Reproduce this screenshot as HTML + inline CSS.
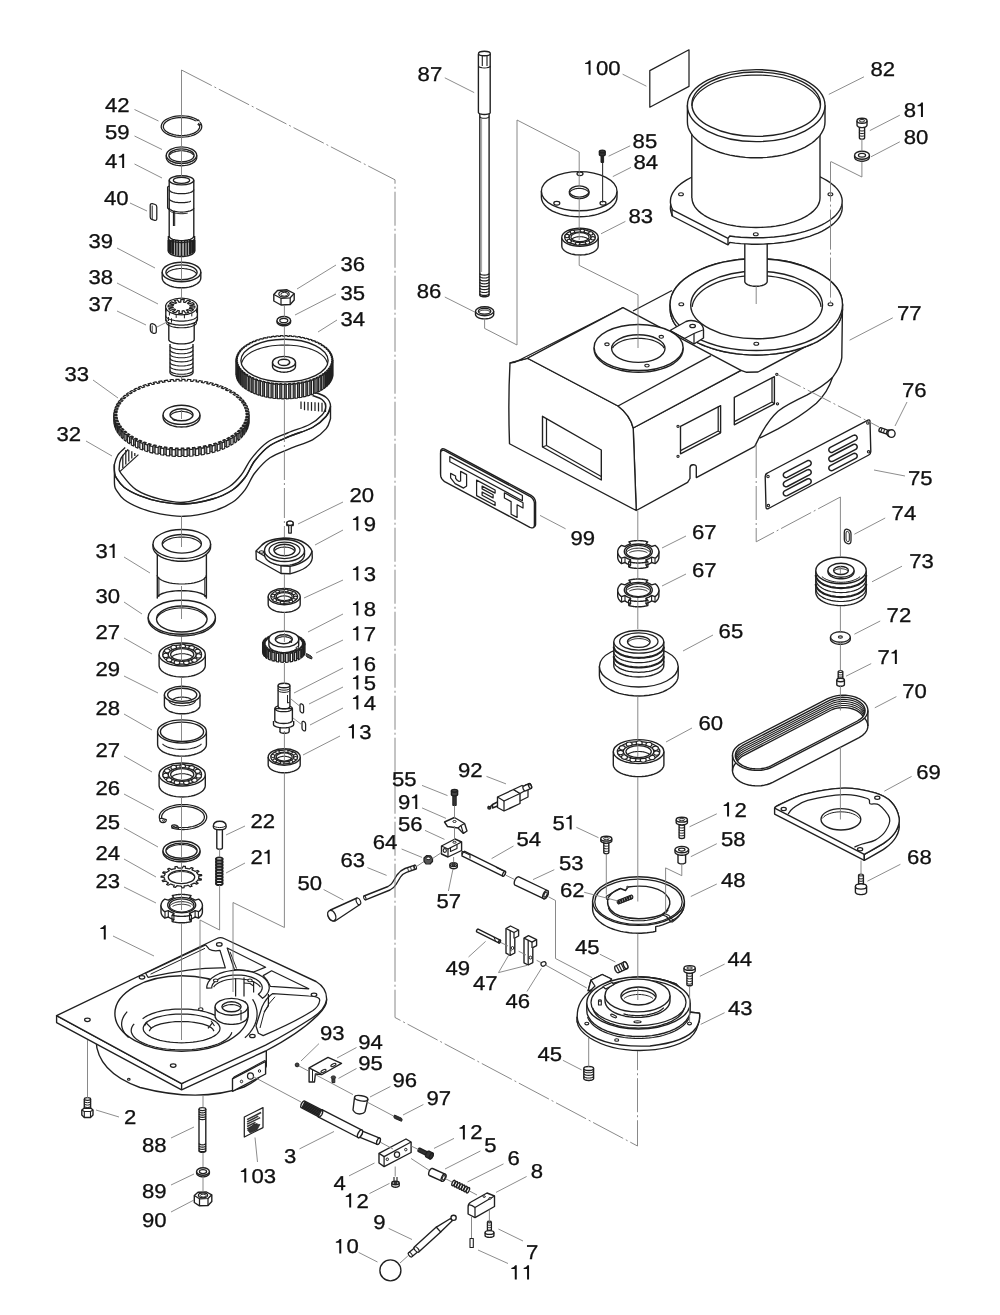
<!DOCTYPE html>
<html><head><meta charset="utf-8"><title>Parts diagram</title>
<style>
html,body{margin:0;padding:0;background:#fff;}
svg{display:block;}
text{font-family:"Liberation Sans",sans-serif;fill:#111;stroke:#111;stroke-width:0.3px;text-rendering:geometricPrecision;}
svg{will-change:transform;opacity:0.999;}
</style></head><body>
<svg width="1000" height="1315" viewBox="0 0 1000 1315">
<rect width="1000" height="1315" fill="#fff"/>
<path d="M199.9 122 L201 123.5 L201.6 125.1 L201.8 126.7 L201.5 128.4 L200.7 129.9 L199.5 131.4 L197.9 132.8 L195.9 134.1 L193.5 135.1 L190.9 136 L188 136.6 L185 137 L181.9 137.2 L178.9 137.1 L175.8 136.8 L172.9 136.2 L170.2 135.4 L167.8 134.4 L165.7 133.2 L163.9 131.8 L162.6 130.4 L161.7 128.8 L161.2 127.2 L161.3 125.6 L161.8 124 L162.7 122.4 L164.1 120.9 L165.9 119.6 L168.1 118.5 L170.6 117.5 L173.3 116.7 L176.2 116.2 L179.3 115.9 L182.4 115.8 L185.5 116 L188.4 116.4 L191.3 117.1 L193.9 118 L196.2 119.1 L198.1 120.4" fill="none" stroke="#202020" stroke-width="1.25" stroke-linejoin="round"/>
<path d="M198.4 123.1 L199.2 124.4 L199.6 125.7 L199.7 127.1 L199.3 128.4 L198.5 129.7 L197.3 130.9 L195.8 132.1 L194 133.1 L191.8 133.9 L189.5 134.6 L186.9 135.1 L184.3 135.4 L181.6 135.5 L178.8 135.4 L176.2 135.1 L173.6 134.6 L171.3 133.9 L169.1 133.1 L167.3 132.1 L165.7 131 L164.6 129.8 L163.8 128.5 L163.3 127.2 L163.4 125.8 L163.8 124.5 L164.6 123.2 L165.8 122 L167.3 120.9 L169.2 119.9 L171.3 119 L173.7 118.4 L176.2 117.9 L178.9 117.6 L181.6 117.5 L184.3 117.6 L187 117.9 L189.5 118.4 L191.9 119.1 L194 120 L195.8 121" fill="none" stroke="#202020" stroke-width="1.25" stroke-linejoin="round"/>
<path d="M199.6 121.5 L198.5 120 L196.5 120.8" fill="none" stroke="#202020" stroke-width="1.25" stroke-linejoin="round"/>
<path d="M200.8 124 L199.5 125.5 L197.6 124.3" fill="none" stroke="#202020" stroke-width="1.25" stroke-linejoin="round"/>
<line x1="181.5" y1="118" x2="181.5" y2="131" stroke="#555" stroke-width="0.8"/>
<path d="M166.3 155.2 L166.3 157.4 L166.4 158.5 L166.8 159.5 L167.5 160.6 L168.3 161.6 L169.4 162.5 L170.8 163.3 L172.2 164 L173.9 164.6 L175.7 165.1 L177.6 165.4 L179.5 165.6 L181.5 165.7 L183.5 165.6 L185.4 165.4 L187.3 165.1 L189.1 164.6 L190.8 164 L192.2 163.3 L193.6 162.5 L194.7 161.6 L195.5 160.6 L196.2 159.5 L196.6 158.5 L196.7 157.4 L196.7 155.2" fill="#fff" stroke="#202020" stroke-width="1.38" stroke-linejoin="round"/>
<ellipse cx="181.5" cy="155.2" rx="15.2" ry="8.3" fill="#fff" stroke="#202020" stroke-width="1.38"/>
<ellipse cx="181.5" cy="155.4" rx="12.6" ry="6.5" fill="#fff" stroke="#202020" stroke-width="1.38"/>
<path d="M169.7 154.7 L170.2 154.2 L170.8 153.7 L171.5 153.1 L172.3 152.7 L173.3 152.3 L174.3 151.9 L175.4 151.6 L176.5 151.3 L177.7 151.1 L179 150.9 L180.2 150.8 L181.5 150.8 L182.8 150.8 L184 150.9 L185.3 151.1 L186.5 151.3 L187.6 151.6 L188.7 151.9 L189.7 152.3 L190.7 152.7 L191.5 153.1 L192.2 153.7 L192.8 154.2 L193.3 154.7" fill="none" stroke="#202020" stroke-width="1.12" stroke-linejoin="round"/>
<path d="M168.4 236 L168.4 251 L168.4 251 L168.5 251.7 L168.8 252.4 L169.4 253.1 L170.2 253.8 L171.1 254.3 L172.2 254.9 L173.5 255.4 L174.9 255.8 L176.5 256.1 L178.1 256.3 L179.8 256.5 L181.5 256.5 L183.2 256.5 L184.9 256.3 L186.5 256.1 L188.1 255.8 L189.5 255.4 L190.8 254.9 L191.9 254.3 L192.8 253.8 L193.6 253.1 L194.2 252.4 L194.5 251.7 L194.6 251 L194.6 251 L194.6 236" fill="#fff" stroke="#202020" stroke-width="1.38" stroke-linejoin="round"/>
<line x1="168.6" y1="240" x2="168.6" y2="251.4" stroke="#202020" stroke-width="2"/>
<line x1="169.4" y1="240" x2="169.4" y2="252.6" stroke="#202020" stroke-width="2"/>
<line x1="170.9" y1="240" x2="170.9" y2="253.7" stroke="#202020" stroke-width="2"/>
<line x1="173" y1="240" x2="173" y2="254.7" stroke="#202020" stroke-width="2"/>
<line x1="175.6" y1="240" x2="175.6" y2="255.4" stroke="#202020" stroke-width="2"/>
<line x1="178.4" y1="240" x2="178.4" y2="255.8" stroke="#202020" stroke-width="2"/>
<line x1="181.5" y1="240" x2="181.5" y2="256" stroke="#202020" stroke-width="2"/>
<line x1="184.6" y1="240" x2="184.6" y2="255.8" stroke="#202020" stroke-width="2"/>
<line x1="187.4" y1="240" x2="187.4" y2="255.4" stroke="#202020" stroke-width="2"/>
<line x1="190" y1="240" x2="190" y2="254.7" stroke="#202020" stroke-width="2"/>
<line x1="192.1" y1="240" x2="192.1" y2="253.7" stroke="#202020" stroke-width="2"/>
<line x1="193.6" y1="240" x2="193.6" y2="252.6" stroke="#202020" stroke-width="2"/>
<line x1="194.4" y1="240" x2="194.4" y2="251.4" stroke="#202020" stroke-width="2"/>
<path d="M168.4 238.5 L168.5 239 L168.8 239.5 L169.4 240 L170.2 240.5 L171.1 240.9 L172.2 241.3 L173.5 241.7 L174.9 242 L176.5 242.2 L178.1 242.4 L179.8 242.5 L181.5 242.5 L183.2 242.5 L184.9 242.4 L186.5 242.2 L188.1 242 L189.5 241.7 L190.8 241.3 L191.9 240.9 L192.8 240.5 L193.6 240 L194.2 239.5 L194.5 239 L194.6 238.5" fill="none" stroke="#202020" stroke-width="1.25" stroke-linejoin="round"/>
<path d="M169.2 180.3 L169.2 236 L169.3 236.6 L169.6 237.2 L170.1 237.8 L170.8 238.3 L171.7 238.8 L172.8 239.3 L174 239.6 L175.3 240 L176.8 240.2 L178.3 240.4 L179.9 240.6 L181.5 240.6 L183.1 240.6 L184.7 240.4 L186.2 240.2 L187.7 240 L189 239.6 L190.2 239.3 L191.3 238.8 L192.2 238.3 L192.9 237.8 L193.4 237.2 L193.7 236.6 L193.8 236 L193.8 180.3" fill="#fff" stroke="#202020" stroke-width="1.38" stroke-linejoin="round"/>
<ellipse cx="181.5" cy="180.3" rx="12.3" ry="4.6" fill="#fff" stroke="#202020" stroke-width="1.38"/>
<ellipse cx="181.5" cy="180.3" rx="8.2" ry="3" fill="#fff" stroke="#202020" stroke-width="1.25"/>
<path d="M169.2 189.5 L169.3 190 L169.6 190.6 L170.1 191.1 L170.8 191.6 L171.7 192.1 L172.8 192.5 L174 192.8 L175.3 193.1 L176.8 193.4 L178.3 193.6 L179.9 193.7 L181.5 193.7 L183.1 193.7 L184.7 193.6 L186.2 193.4 L187.7 193.1 L189 192.8 L190.2 192.5 L191.3 192.1 L192.2 191.6 L192.9 191.1 L193.4 190.6 L193.7 190 L193.8 189.5" fill="none" stroke="#202020" stroke-width="1.25" stroke-linejoin="round"/>
<path d="M169.2 198.5 L169.3 198.9 L169.5 199.3 L169.8 199.8 L170.2 200.2 L170.8 200.5 L171.4 200.9 L172.2 201.2 L173.1 201.6 L174 201.8 L175 202.1 L176.1 202.3 L177.3 202.4 L178.5 202.6 L179.7 202.7 L181 202.7 L182.2 202.7 L183.5 202.6 L184.7 202.6 L185.9 202.4 L187 202.3 L188.1 202 L189.1 201.8 L190.1 201.5 L190.9 201.2" fill="none" stroke="#202020" stroke-width="1.25" stroke-linejoin="round"/>
<path d="M169.2 207.8 L169.3 208.3 L169.6 208.9 L170.1 209.4 L170.8 209.9 L171.7 210.4 L172.8 210.8 L174 211.1 L175.3 211.4 L176.8 211.7 L178.3 211.9 L179.9 212 L181.5 212 L183.1 212 L184.7 211.9 L186.2 211.7 L187.7 211.4 L189 211.1 L190.2 210.8 L191.3 210.4 L192.2 209.9 L192.9 209.4 L193.4 208.9 L193.7 208.3 L193.8 207.8" fill="none" stroke="#202020" stroke-width="1.25" stroke-linejoin="round"/>
<path d="M169.4 210.2 L169.6 210.6 L169.9 210.9 L170.2 211.2 L170.7 211.5 L171.2 211.8 L171.7 212.1 L172.4 212.3 L173.1 212.6 L173.8 212.8 L174.6 213 L175.4 213.2 L176.3 213.3 L177.2 213.4 L178.1 213.5 L179.1 213.6 L180.1 213.7 L181.1 213.7 L182 213.7 L183 213.7 L184 213.6 L184.9 213.5 L185.9 213.4 L186.8 213.3 L187.7 213.1" fill="none" stroke="#202020" stroke-width="1" stroke-linejoin="round"/>
<path d="M169.2 186 L167.6 187 L167.6 208 L169.2 209.5" fill="none" stroke="#202020" stroke-width="1.25" stroke-linejoin="round"/>
<line x1="173.5" y1="211" x2="173.5" y2="226" stroke="#202020" stroke-width="1.25"/>
<line x1="174.7" y1="211" x2="174.7" y2="226" stroke="#202020" stroke-width="1"/>
<path d="M150.2 205.5 Q150.2 203.3 152.3 203.6 L155.2 204.5 Q156.8 205 156.8 207 L156.8 218.5 Q156.8 220.8 154.7 220.3 L151.8 219.4 Q150.2 218.9 150.2 217 Z" fill="#fff" stroke="#202020" stroke-width="1.25" stroke-linejoin="round"/>
<line x1="152.2" y1="205.5" x2="152.2" y2="219" stroke="#202020" stroke-width="1"/>
<path d="M162.2 272 L162.2 278 L162.4 279.3 L162.9 280.5 L163.7 281.8 L164.8 282.9 L166.2 284 L167.9 284.9 L169.8 285.8 L171.8 286.5 L174.1 287.1 L176.5 287.5 L179 287.7 L181.5 287.8 L184 287.7 L186.5 287.5 L188.9 287.1 L191.2 286.5 L193.2 285.8 L195.1 284.9 L196.8 284 L198.2 282.9 L199.3 281.8 L200.1 280.5 L200.6 279.3 L200.8 278 L200.8 272" fill="#fff" stroke="#202020" stroke-width="1.38" stroke-linejoin="round"/>
<ellipse cx="181.5" cy="272" rx="19.3" ry="9.8" fill="#fff" stroke="#202020" stroke-width="1.38"/>
<ellipse cx="181.5" cy="272.3" rx="15.6" ry="7.4" fill="#fff" stroke="#202020" stroke-width="1.38"/>
<path d="M166.4 273.7 L167 273 L167.7 272.3 L168.5 271.6 L169.5 271 L170.7 270.4 L172 269.9 L173.4 269.5 L174.9 269.2 L176.5 268.9 L178.1 268.7 L179.8 268.5 L181.5 268.5 L183.2 268.5 L184.9 268.7 L186.5 268.9 L188.1 269.2 L189.6 269.5 L191 269.9 L192.3 270.4 L193.5 271 L194.5 271.6 L195.3 272.3 L196 273 L196.6 273.7" fill="none" stroke="#202020" stroke-width="1.12" stroke-linejoin="round"/>
<path d="M170 344 L170 372.5 L170.1 373 L170.4 373.5 L170.9 374 L171.5 374.5 L172.4 374.9 L173.4 375.3 L174.5 375.7 L175.8 376 L177.1 376.2 L178.5 376.4 L180 376.5 L181.5 376.5 L183 376.5 L184.5 376.4 L185.9 376.2 L187.2 376 L188.5 375.7 L189.6 375.3 L190.6 374.9 L191.5 374.5 L192.1 374 L192.6 373.5 L192.9 373 L193 372.5 L193 344" fill="#fff" stroke="#202020" stroke-width="1.38" stroke-linejoin="round"/>
<path d="M170 346 L170.4 346.9 L171.5 347.8 L173.4 348.5 L175.8 349.1 L178.5 349.5 L181.5 349.6 L184.5 349.5 L187.2 349.1 L189.6 348.5 L191.5 347.8 L192.6 346.9 L193 346" fill="none" stroke="#202020" stroke-width="1.12" stroke-linejoin="round"/>
<path d="M170 350.1 L170.4 351 L171.5 351.9 L173.4 352.6 L175.8 353.2 L178.5 353.6 L181.5 353.7 L184.5 353.6 L187.2 353.2 L189.6 352.6 L191.5 351.9 L192.6 351 L193 350.1" fill="none" stroke="#202020" stroke-width="1.12" stroke-linejoin="round"/>
<path d="M170 354.2 L170.4 355.1 L171.5 356 L173.4 356.7 L175.8 357.3 L178.5 357.7 L181.5 357.8 L184.5 357.7 L187.2 357.3 L189.6 356.7 L191.5 356 L192.6 355.1 L193 354.2" fill="none" stroke="#202020" stroke-width="1.12" stroke-linejoin="round"/>
<path d="M170 358.3 L170.4 359.2 L171.5 360.1 L173.4 360.8 L175.8 361.4 L178.5 361.8 L181.5 361.9 L184.5 361.8 L187.2 361.4 L189.6 360.8 L191.5 360.1 L192.6 359.2 L193 358.3" fill="none" stroke="#202020" stroke-width="1.12" stroke-linejoin="round"/>
<path d="M170 362.4 L170.4 363.3 L171.5 364.2 L173.4 364.9 L175.8 365.5 L178.5 365.9 L181.5 366 L184.5 365.9 L187.2 365.5 L189.6 364.9 L191.5 364.2 L192.6 363.3 L193 362.4" fill="none" stroke="#202020" stroke-width="1.12" stroke-linejoin="round"/>
<path d="M170 366.5 L170.4 367.4 L171.5 368.3 L173.4 369 L175.8 369.6 L178.5 370 L181.5 370.1 L184.5 370 L187.2 369.6 L189.6 369 L191.5 368.3 L192.6 367.4 L193 366.5" fill="none" stroke="#202020" stroke-width="1.12" stroke-linejoin="round"/>
<path d="M170 370.6 L170.4 371.5 L171.5 372.4 L173.4 373.1 L175.8 373.7 L178.5 374.1 L181.5 374.2 L184.5 374.1 L187.2 373.7 L189.6 373.1 L191.5 372.4 L192.6 371.5 L193 370.6" fill="none" stroke="#202020" stroke-width="1.12" stroke-linejoin="round"/>
<path d="M168.8 322 L168.8 339.5 L168.9 340.1 L169.2 340.6 L169.8 341.2 L170.5 341.7 L171.4 342.2 L172.5 342.6 L173.8 343 L175.2 343.3 L176.6 343.6 L178.2 343.8 L179.8 343.9 L181.5 343.9 L183.2 343.9 L184.8 343.8 L186.4 343.6 L187.8 343.3 L189.2 343 L190.5 342.6 L191.6 342.2 L192.5 341.7 L193.2 341.2 L193.8 340.6 L194.1 340.1 L194.2 339.5 L194.2 322" fill="#fff" stroke="#202020" stroke-width="1.38" stroke-linejoin="round"/>
<path d="M165.8 305 L165.8 319.5 L165.7 320.2 L166.1 320.9 L166.8 321.6 L167.7 322.3 L168.9 322.9 L170.3 323.5 L171.8 323.9 L173.6 324.3 L175.4 324.7 L177.4 324.9 L179.4 325.1 L181.5 325.1 L183.6 325.1 L185.6 324.9 L187.6 324.7 L189.4 324.3 L191.2 323.9 L192.7 323.5 L194.1 322.9 L195.3 322.3 L196.2 321.6 L196.9 320.9 L197.3 320.2 L197.4 319.5 L197.4 305" fill="#fff" stroke="#202020" stroke-width="1.38" stroke-linejoin="round"/>
<path d="M165.6 315.5 L165.7 316.2 L166.1 316.9 L166.8 317.6 L167.7 318.3 L168.9 318.9 L170.3 319.5 L171.8 319.9 L173.6 320.3 L175.4 320.7 L177.4 320.9 L179.4 321.1 L181.5 321.1 L183.6 321.1 L185.6 320.9 L187.6 320.7 L189.4 320.3 L191.2 319.9 L192.7 319.5 L194.1 318.9 L195.3 318.3 L196.2 317.6 L196.9 316.9 L197.3 316.2 L197.4 315.5" fill="none" stroke="#202020" stroke-width="1.12" stroke-linejoin="round"/>
<path d="M166.8 319.5 L166.8 322.8 L166.7 323.5 L167.1 324.1 L167.7 324.7 L168.6 325.3 L169.7 325.8 L171 326.3 L172.4 326.8 L174.1 327.1 L175.8 327.4 L177.6 327.6 L179.6 327.8 L181.5 327.8 L183.4 327.8 L185.4 327.6 L187.2 327.4 L188.9 327.1 L190.6 326.8 L192 326.3 L193.3 325.8 L194.4 325.3 L195.3 324.7 L195.9 324.1 L196.3 323.5 L196.4 322.8 L196.4 319.5" fill="none" stroke="#202020" stroke-width="1.12" stroke-linejoin="round"/>
<ellipse cx="181.5" cy="306.5" rx="15.9" ry="8.4" fill="#fff" stroke="#202020" stroke-width="1.25"/>
<path d="M194.9 306.9 L194.8 307.4 L194.6 308 L189.8 307.6 L189.6 308 L189.3 308.4 L193.4 309.7 L193.1 310 L192.7 310.3 L192.1 310.8 L191.5 311.2 L187.7 309.6 L187.1 309.8 L186.4 310.1 L188.8 312.4 L188.2 312.6 L187.6 312.7 L186.6 313 L185.6 313.2 L183.9 310.7 L183.1 310.8 L182.2 310.9 L182.2 313.5 L181.5 313.5 L180.8 313.5 L179.8 313.4 L178.7 313.3 L179.4 310.8 L178.6 310.6 L177.9 310.5 L175.4 312.7 L174.8 312.6 L174.2 312.4 L173.3 312.1 L172.5 311.7 L175.5 309.7 L175 309.4 L174.5 309 L170.3 310.3 L169.9 310 L169.6 309.7 L169.1 309.2 L168.8 308.7 L173.2 307.7 L173 307.3 L172.9 306.9 L168.1 306.9 L168.1 306.5 L168.1 306.1 L168.2 305.6 L168.4 305 L173.2 305.4 L173.4 305 L173.7 304.6 L169.6 303.3 L169.9 303 L170.3 302.7 L170.9 302.2 L171.5 301.8 L175.3 303.4 L175.9 303.2 L176.6 302.9 L174.2 300.6 L174.8 300.4 L175.4 300.3 L176.4 300 L177.4 299.8 L179.1 302.3 L179.9 302.2 L180.8 302.1 L180.8 299.5 L181.5 299.5 L182.2 299.5 L183.2 299.6 L184.3 299.7 L183.6 302.2 L184.4 302.4 L185.1 302.5 L187.6 300.3 L188.2 300.4 L188.8 300.6 L189.7 300.9 L190.5 301.3 L187.5 303.3 L188 303.6 L188.5 304 L192.7 302.7 L193.1 303 L193.4 303.3 L193.9 303.8 L194.2 304.3 L189.8 305.3 L190 305.7 L190.1 306.1 L194.9 306.1 L194.9 306.5 Z" fill="#fff" stroke="#202020" stroke-width="1.25" stroke-linejoin="round"/>
<line x1="196.5" y1="309.3" x2="196.5" y2="312.8" stroke="#202020" stroke-width="1"/>
<line x1="191.8" y1="312.9" x2="191.8" y2="316.4" stroke="#202020" stroke-width="1"/>
<line x1="184.4" y1="314.8" x2="184.4" y2="318.3" stroke="#202020" stroke-width="1"/>
<line x1="176.2" y1="314.4" x2="176.2" y2="317.9" stroke="#202020" stroke-width="1"/>
<line x1="169.4" y1="312" x2="169.4" y2="315.5" stroke="#202020" stroke-width="1"/>
<line x1="165.9" y1="308" x2="165.9" y2="311.5" stroke="#202020" stroke-width="1"/>
<line x1="168.5" y1="317" x2="168.5" y2="321" stroke="#202020" stroke-width="1"/>
<line x1="171.5" y1="318.3" x2="171.5" y2="322.6" stroke="#202020" stroke-width="1"/>
<path d="M150.3 326 Q150.3 323.3 153 323.8 Q156.3 324.6 156.3 328 L156.3 331.2 Q156.3 333.9 153.6 333.3 Q150.3 332.5 150.3 329.2 Z" fill="#fff" stroke="#202020" stroke-width="1.25" stroke-linejoin="round"/>
<line x1="152.2" y1="325.5" x2="152.2" y2="332" stroke="#202020" stroke-width="0.88"/>
<line x1="157" y1="327" x2="168" y2="321.5" stroke="#808080" stroke-width="0.9"/>
<path d="M114.4 464.4 C114.4 465.8 114.3 470.6 114.6 472.8 C114.9 475 114.6 475.2 116.2 477.6 C117.8 480 120.1 484.2 124 487.2 C127.9 490.2 133.6 493.2 139.6 495.6 C145.6 498 152.6 500.2 160 501.6 C167.4 503 175.3 504.4 184 504 C192.8 503.6 204.4 501.3 212.5 499 C220.6 496.7 227.1 493.6 232.5 490 C237.9 486.4 241.2 482.4 245 477.5 C248.8 472.6 250.8 465.8 255 460.5 C259.2 455.2 264.2 449.5 270 445.5 C275.8 441.5 282.9 439.2 290 436.2 C297.1 433.2 306.5 430.8 312.5 427.5 C318.5 424.2 323.2 419.8 326.2 416.2 C329.2 412.7 329.8 407.9 330.5 406.2 L330.5 418.6 L330.5 418.6 C329.8 420.2 329.2 425 326.2 428.6 C323.2 432.1 318.5 436.5 312.5 439.8 C306.5 443.1 297.1 445.6 290 448.6 C282.9 451.6 275.8 453.8 270 457.8 C264.2 461.8 259.2 467.5 255 472.8 C250.8 478.1 248.8 484.9 245 489.8 C241.2 494.7 237.9 498.7 232.5 502.3 C227.1 505.9 220.6 509 212.5 511.3 C204.4 513.6 192.8 515.9 184 516.3 C175.3 516.7 167.4 515.3 160 513.9 C152.6 512.5 145.6 510.3 139.6 507.9 C133.6 505.5 127.9 502.5 124 499.5 C120.1 496.5 117.8 492.3 116.2 489.9 C114.6 487.5 114.9 487.3 114.6 485.1 C114.3 482.9 114.4 478.1 114.4 476.7 Z" fill="#fff" stroke="#202020" stroke-width="1.38" stroke-linejoin="round"/>
<path d="M125.2 447.6 C124 448.8 119.8 452 118 454.8 C116.2 457.6 115 461.4 114.4 464.4 C113.8 467.4 114.3 470.6 114.6 472.8 C114.9 475 114.6 475.2 116.2 477.6 C117.8 480 120.1 484.2 124 487.2 C127.9 490.2 133.6 493.2 139.6 495.6 C145.6 498 152.6 500.2 160 501.6 C167.4 503 175.3 504.4 184 504 C192.8 503.6 204.4 501.3 212.5 499 C220.6 496.7 227.1 493.6 232.5 490 C237.9 486.4 241.2 482.4 245 477.5 C248.8 472.6 250.8 465.8 255 460.5 C259.2 455.2 264.2 449.5 270 445.5 C275.8 441.5 282.9 439.2 290 436.2 C297.1 433.2 306.5 430.8 312.5 427.5 C318.5 424.2 323.2 419.8 326.2 416.2 C329.2 412.7 330.5 409.4 330.5 406.2 C330.5 403.1 328.8 399.8 326.2 397.5 C323.7 395.2 319.4 393.8 315 392.5 C310.6 391.2 302.5 390.4 300 390" fill="none" stroke="#202020" stroke-width="1.38" stroke-linejoin="round"/>
<path d="M128.2 449.4 C127 450.9 122.5 455.3 121 458.4 C119.5 461.5 119.2 465.5 119.2 468 C119.2 470.5 118.2 469.8 121 473.4 C123.8 477 129.5 485.3 136 489.6 C142.5 493.9 152 497.1 160 499.2 C168 501.3 175.5 502.9 184 502.2 C192.5 501.5 203.7 497.6 211.2 495 C218.8 492.4 224.5 489.8 229.5 486.5 C234.5 483.2 237.6 479.6 241.2 475 C244.9 470.4 247 464.2 251.2 458.8 C255.5 453.3 261 446.8 267 442.5 C273 438.2 280.4 436 287.5 433 C294.6 430 303.8 427.5 309.5 424.5 C315.2 421.5 319.3 418 322 415 C324.7 412 325.8 408.8 325.8 406.2 C325.8 403.7 324.2 401.3 322 399.5 C319.8 397.7 314.1 396.2 312.5 395.5" fill="none" stroke="#202020" stroke-width="1.38" stroke-linejoin="round"/>
<line x1="122.8" y1="454.8" x2="122.8" y2="468" stroke="#202020" stroke-width="1.25"/>
<line x1="125.8" y1="450" x2="125.8" y2="464.5" stroke="#202020" stroke-width="1.25"/>
<line x1="128.8" y1="450" x2="128.8" y2="461.5" stroke="#202020" stroke-width="1.25"/>
<line x1="131.8" y1="451.2" x2="131.8" y2="458.5" stroke="#202020" stroke-width="1.25"/>
<line x1="134.8" y1="453" x2="134.8" y2="456" stroke="#202020" stroke-width="1.25"/>
<line x1="119.8" y1="471.6" x2="138.4" y2="454.6" stroke="#202020" stroke-width="1.25"/>
<line x1="301" y1="401.5" x2="301" y2="409.1" stroke="#202020" stroke-width="1.25"/>
<line x1="304.5" y1="401.7" x2="304.5" y2="410.2" stroke="#202020" stroke-width="1.25"/>
<line x1="308" y1="401.9" x2="308" y2="410.5" stroke="#202020" stroke-width="1.25"/>
<line x1="311.5" y1="402.1" x2="311.5" y2="410.8" stroke="#202020" stroke-width="1.25"/>
<line x1="315" y1="402.3" x2="315" y2="411.1" stroke="#202020" stroke-width="1.25"/>
<line x1="318.5" y1="402.5" x2="318.5" y2="411.4" stroke="#202020" stroke-width="1.25"/>
<line x1="322" y1="402.7" x2="322" y2="411.7" stroke="#202020" stroke-width="1.25"/>
<line x1="325.5" y1="402.9" x2="325.5" y2="412" stroke="#202020" stroke-width="1.25"/>
<path d="M247.1 414.5 L246.9 416.7 L246.5 419 L245.8 421.2 L244.8 423.3 L243.6 425.5 L242.1 427.6 L240.3 429.6 L238.3 431.6 L236 433.5 L233.5 435.3 L230.8 437 L227.9 438.6 L224.7 440.2 L221.4 441.6 L217.9 442.9 L214.3 444.1 L210.5 445.1 L206.6 446 L202.6 446.8 L198.5 447.5 L194.3 448 L190.1 448.4 L185.8 448.6 L181.5 448.6 L177.2 448.6 L172.9 448.4 L168.7 448 L164.5 447.5 L160.4 446.8 L156.4 446 L152.5 445.1 L148.7 444.1 L145.1 442.9 L141.6 441.6 L138.3 440.2 L135.1 438.6 L132.2 437 L129.5 435.3 L127 433.5 L124.7 431.6 L122.7 429.6 L120.9 427.6 L119.4 425.5 L118.2 423.3 L117.2 421.2 L116.5 419 L116.1 416.7 L115.9 414.5 L115.9 421.3 L116.1 423.5 L116.5 425.8 L117.2 428 L118.2 430.1 L119.4 432.3 L120.9 434.4 L122.7 436.4 L124.7 438.4 L127 440.3 L129.5 442.1 L132.2 443.8 L135.1 445.4 L138.3 447 L141.6 448.4 L145.1 449.7 L148.7 450.9 L152.5 451.9 L156.4 452.8 L160.4 453.6 L164.5 454.3 L168.7 454.8 L172.9 455.2 L177.2 455.4 L181.5 455.4 L185.8 455.4 L190.1 455.2 L194.3 454.8 L198.5 454.3 L202.6 453.6 L206.6 452.8 L210.5 451.9 L214.3 450.9 L217.9 449.7 L221.4 448.4 L224.7 447 L227.9 445.4 L230.8 443.8 L233.5 442.1 L236 440.3 L238.3 438.4 L240.3 436.4 L242.1 434.4 L243.6 432.3 L244.8 430.1 L245.8 428 L246.5 425.8 L246.9 423.5 L247.1 421.3 Z" fill="#8a8a8a" stroke="#202020" stroke-width="1" stroke-linejoin="round"/>
<path d="M249.1 414.7 L249.1 421.5 L249 423.1 L249 416.3 Z" fill="#fff" stroke="#202020" stroke-width="1.12" stroke-linejoin="round"/>
<path d="M248.8 417.7 L248.8 424.5 L248.4 426.2 L248.4 419.4 Z" fill="#fff" stroke="#202020" stroke-width="1.12" stroke-linejoin="round"/>
<path d="M248 420.8 L248 427.6 L247.4 429.2 L247.4 422.4 Z" fill="#fff" stroke="#202020" stroke-width="1.12" stroke-linejoin="round"/>
<path d="M246.7 423.8 L246.7 430.6 L245.8 432.2 L245.8 425.4 Z" fill="#fff" stroke="#202020" stroke-width="1.12" stroke-linejoin="round"/>
<path d="M244.9 426.7 L244.9 433.5 L243.7 435.1 L243.7 428.3 Z" fill="#fff" stroke="#202020" stroke-width="1.12" stroke-linejoin="round"/>
<path d="M242.6 429.5 L242.6 436.3 L241.2 437.8 L241.2 431 Z" fill="#fff" stroke="#202020" stroke-width="1.12" stroke-linejoin="round"/>
<path d="M239.9 432.2 L239.9 439 L238.2 440.5 L238.2 433.7 Z" fill="#fff" stroke="#202020" stroke-width="1.12" stroke-linejoin="round"/>
<path d="M236.7 434.8 L236.7 441.6 L234.8 443 L234.8 436.2 Z" fill="#fff" stroke="#202020" stroke-width="1.12" stroke-linejoin="round"/>
<path d="M233.1 437.2 L233.1 444 L230.9 445.3 L230.9 438.5 Z" fill="#fff" stroke="#202020" stroke-width="1.12" stroke-linejoin="round"/>
<path d="M229.1 439.5 L229.1 446.3 L226.7 447.5 L226.7 440.7 Z" fill="#fff" stroke="#202020" stroke-width="1.12" stroke-linejoin="round"/>
<path d="M224.7 441.6 L224.7 448.4 L222.2 449.4 L222.2 442.6 Z" fill="#fff" stroke="#202020" stroke-width="1.12" stroke-linejoin="round"/>
<path d="M220 443.4 L220 450.2 L217.3 451.2 L217.3 444.4 Z" fill="#fff" stroke="#202020" stroke-width="1.12" stroke-linejoin="round"/>
<path d="M215 445.1 L215 451.9 L212.2 452.7 L212.2 445.9 Z" fill="#fff" stroke="#202020" stroke-width="1.12" stroke-linejoin="round"/>
<path d="M209.8 446.5 L209.8 453.3 L206.8 453.9 L206.8 447.1 Z" fill="#fff" stroke="#202020" stroke-width="1.12" stroke-linejoin="round"/>
<path d="M204.3 447.6 L204.3 454.4 L201.3 455 L201.3 448.2 Z" fill="#fff" stroke="#202020" stroke-width="1.12" stroke-linejoin="round"/>
<path d="M198.7 448.5 L198.7 455.3 L195.6 455.7 L195.6 448.9 Z" fill="#fff" stroke="#202020" stroke-width="1.12" stroke-linejoin="round"/>
<path d="M192.9 449.2 L192.9 456 L189.7 456.2 L189.7 449.4 Z" fill="#fff" stroke="#202020" stroke-width="1.12" stroke-linejoin="round"/>
<path d="M187.1 449.6 L187.1 456.4 L183.9 456.5 L183.9 449.7 Z" fill="#fff" stroke="#202020" stroke-width="1.12" stroke-linejoin="round"/>
<path d="M181.2 449.7 L181.2 456.5 L178 456.5 L178 449.7 Z" fill="#fff" stroke="#202020" stroke-width="1.12" stroke-linejoin="round"/>
<path d="M175.3 449.6 L175.3 456.4 L172.1 456.2 L172.1 449.4 Z" fill="#fff" stroke="#202020" stroke-width="1.12" stroke-linejoin="round"/>
<path d="M169.5 449.1 L169.5 455.9 L166.3 455.6 L166.3 448.8 Z" fill="#fff" stroke="#202020" stroke-width="1.12" stroke-linejoin="round"/>
<path d="M163.7 448.5 L163.7 455.3 L160.6 454.8 L160.6 448 Z" fill="#fff" stroke="#202020" stroke-width="1.12" stroke-linejoin="round"/>
<path d="M158.1 447.5 L158.1 454.3 L155.1 453.7 L155.1 446.9 Z" fill="#fff" stroke="#202020" stroke-width="1.12" stroke-linejoin="round"/>
<path d="M152.7 446.3 L152.7 453.1 L149.8 452.4 L149.8 445.6 Z" fill="#fff" stroke="#202020" stroke-width="1.12" stroke-linejoin="round"/>
<path d="M147.4 444.9 L147.4 451.7 L144.7 450.8 L144.7 444 Z" fill="#fff" stroke="#202020" stroke-width="1.12" stroke-linejoin="round"/>
<path d="M142.5 443.2 L142.5 450 L139.9 449 L139.9 442.2 Z" fill="#fff" stroke="#202020" stroke-width="1.12" stroke-linejoin="round"/>
<path d="M137.8 441.4 L137.8 448.2 L135.4 447 L135.4 440.2 Z" fill="#fff" stroke="#202020" stroke-width="1.12" stroke-linejoin="round"/>
<path d="M133.5 439.3 L133.5 446.1 L131.3 444.9 L131.3 438.1 Z" fill="#fff" stroke="#202020" stroke-width="1.12" stroke-linejoin="round"/>
<path d="M129.5 437 L129.5 443.8 L127.5 442.5 L127.5 435.7 Z" fill="#fff" stroke="#202020" stroke-width="1.12" stroke-linejoin="round"/>
<path d="M126 434.6 L126 441.4 L124.2 440 L124.2 433.2 Z" fill="#fff" stroke="#202020" stroke-width="1.12" stroke-linejoin="round"/>
<path d="M122.8 432 L122.8 438.8 L121.3 437.3 L121.3 430.5 Z" fill="#fff" stroke="#202020" stroke-width="1.12" stroke-linejoin="round"/>
<path d="M120.1 429.2 L120.1 436 L118.8 434.5 L118.8 427.7 Z" fill="#fff" stroke="#202020" stroke-width="1.12" stroke-linejoin="round"/>
<path d="M117.9 426.4 L117.9 433.2 L116.9 431.6 L116.9 424.8 Z" fill="#fff" stroke="#202020" stroke-width="1.12" stroke-linejoin="round"/>
<path d="M116.1 423.5 L116.1 430.3 L115.4 428.6 L115.4 421.8 Z" fill="#fff" stroke="#202020" stroke-width="1.12" stroke-linejoin="round"/>
<path d="M114.9 420.5 L114.9 427.3 L114.4 425.6 L114.4 418.8 Z" fill="#fff" stroke="#202020" stroke-width="1.12" stroke-linejoin="round"/>
<path d="M114.1 417.4 L114.1 424.2 L113.9 422.5 L113.9 415.7 Z" fill="#fff" stroke="#202020" stroke-width="1.12" stroke-linejoin="round"/>
<path d="M113.9 414.3 L113.9 421.1 L114 419.5 L114 412.7 Z" fill="#fff" stroke="#202020" stroke-width="1.12" stroke-linejoin="round"/>
<path d="M249.1 414.7 L249.1 415.5 L249 416.3 L246 416.3 L245.9 416.9 L245.8 417.6 L248.8 417.7 L248.6 418.6 L248.4 419.4 L245.4 419.2 L245.2 419.8 L245 420.5 L248 420.8 L247.7 421.6 L247.4 422.4 L244.4 422.1 L244.1 422.7 L243.8 423.3 L246.7 423.8 L246.3 424.6 L245.8 425.4 L242.9 424.9 L242.5 425.5 L242.1 426.1 L244.9 426.7 L244.3 427.5 L243.7 428.3 L240.9 427.6 L240.4 428.2 L239.9 428.8 L242.6 429.5 L241.9 430.3 L241.2 431 L238.5 430.3 L237.9 430.9 L237.3 431.4 L239.9 432.2 L239.1 433 L238.2 433.7 L235.6 432.8 L234.9 433.4 L234.2 433.9 L236.7 434.8 L235.8 435.5 L234.8 436.2 L232.4 435.2 L231.6 435.7 L230.8 436.2 L233.1 437.2 L232 437.9 L230.9 438.5 L228.7 437.4 L227.8 437.9 L226.9 438.4 L229.1 439.5 L227.9 440.1 L226.7 440.7 L224.7 439.5 L223.7 439.9 L222.8 440.3 L224.7 441.6 L223.5 442.1 L222.2 442.6 L220.4 441.3 L219.3 441.7 L218.3 442.1 L220 443.4 L218.7 443.9 L217.3 444.4 L215.7 443 L214.6 443.4 L213.5 443.7 L215 445.1 L213.6 445.5 L212.2 445.9 L210.8 444.5 L209.7 444.7 L208.5 445 L209.8 446.5 L208.3 446.8 L206.8 447.1 L205.7 445.7 L204.5 445.9 L203.3 446.1 L204.3 447.6 L202.8 447.9 L201.3 448.2 L200.4 446.6 L199.2 446.8 L197.9 447 L198.7 448.5 L197.1 448.7 L195.6 448.9 L194.9 447.4 L193.7 447.5 L192.4 447.6 L192.9 449.2 L191.3 449.3 L189.7 449.4 L189.4 447.9 L188.1 447.9 L186.8 448 L187.1 449.6 L185.5 449.6 L183.9 449.7 L183.8 448.1 L182.5 448.1 L181.2 448.1 L181.2 449.7 L179.6 449.7 L178 449.7 L178.1 448.1 L176.9 448 L175.6 448 L175.3 449.6 L173.7 449.5 L172.1 449.4 L172.5 447.8 L171.3 447.7 L170 447.6 L169.5 449.1 L167.9 449 L166.3 448.8 L167 447.3 L165.7 447.1 L164.5 446.9 L163.7 448.5 L162.2 448.2 L160.6 448 L161.6 446.5 L160.3 446.3 L159.2 446 L158.1 447.5 L156.6 447.2 L155.1 446.9 L156.3 445.4 L155.1 445.2 L154 444.9 L152.7 446.3 L151.2 446 L149.8 445.6 L151.2 444.2 L150.1 443.9 L149 443.5 L147.4 444.9 L146.1 444.5 L144.7 444 L146.3 442.7 L145.3 442.3 L144.2 442 L142.5 443.2 L141.2 442.8 L139.9 442.2 L141.8 441 L140.8 440.6 L139.8 440.2 L137.8 441.4 L136.6 440.8 L135.4 440.2 L137.5 439.1 L136.6 438.6 L135.7 438.2 L133.5 439.3 L132.4 438.7 L131.3 438.1 L133.5 437 L132.7 436.5 L131.9 436 L129.5 437 L128.5 436.4 L127.5 435.7 L129.9 434.7 L129.2 434.2 L128.5 433.7 L126 434.6 L125 433.9 L124.2 433.2 L126.8 432.3 L126.1 431.8 L125.5 431.2 L122.8 432 L122 431.2 L121.3 430.5 L124 429.8 L123.4 429.2 L122.9 428.6 L120.1 429.2 L119.4 428.5 L118.8 427.7 L121.6 427.1 L121.2 426.5 L120.7 425.9 L117.9 426.4 L117.3 425.6 L116.9 424.8 L119.8 424.3 L119.4 423.7 L119.1 423.1 L116.1 423.5 L115.7 422.6 L115.4 421.8 L118.4 421.5 L118.1 420.8 L117.9 420.2 L114.9 420.5 L114.6 419.6 L114.4 418.8 L117.4 418.6 L117.3 417.9 L117.2 417.3 L114.1 417.4 L114 416.6 L113.9 415.7 L117 415.7 L116.9 415 L116.9 414.4 L113.9 414.3 L113.9 413.5 L114 412.7 L117 412.7 L117.1 412.1 L117.2 411.4 L114.2 411.3 L114.4 410.4 L114.6 409.6 L117.6 409.8 L117.8 409.2 L118 408.5 L115 408.2 L115.3 407.4 L115.6 406.6 L118.6 406.9 L118.9 406.3 L119.2 405.7 L116.3 405.2 L116.7 404.4 L117.2 403.6 L120.1 404.1 L120.5 403.5 L120.9 402.9 L118.1 402.3 L118.7 401.5 L119.3 400.7 L122.1 401.4 L122.6 400.8 L123.1 400.2 L120.4 399.5 L121.1 398.7 L121.8 398 L124.5 398.7 L125.1 398.1 L125.7 397.6 L123.1 396.8 L123.9 396 L124.8 395.3 L127.4 396.2 L128.1 395.6 L128.8 395.1 L126.3 394.2 L127.2 393.5 L128.2 392.8 L130.6 393.8 L131.4 393.3 L132.2 392.8 L129.9 391.8 L131 391.1 L132.1 390.5 L134.3 391.6 L135.2 391.1 L136.1 390.6 L133.9 389.5 L135.1 388.9 L136.3 388.3 L138.3 389.5 L139.3 389.1 L140.2 388.7 L138.3 387.4 L139.5 386.9 L140.8 386.4 L142.6 387.7 L143.7 387.3 L144.7 386.9 L143 385.6 L144.3 385.1 L145.7 384.6 L147.3 386 L148.4 385.6 L149.5 385.3 L148 383.9 L149.4 383.5 L150.8 383.1 L152.2 384.5 L153.3 384.3 L154.5 384 L153.2 382.5 L154.7 382.2 L156.2 381.9 L157.3 383.3 L158.5 383.1 L159.7 382.9 L158.7 381.4 L160.2 381.1 L161.7 380.8 L162.6 382.4 L163.8 382.2 L165.1 382 L164.3 380.5 L165.9 380.3 L167.4 380.1 L168.1 381.6 L169.3 381.5 L170.6 381.4 L170.1 379.8 L171.7 379.7 L173.3 379.6 L173.6 381.1 L174.9 381.1 L176.2 381 L175.9 379.4 L177.5 379.4 L179.1 379.3 L179.2 380.9 L180.5 380.9 L181.8 380.9 L181.8 379.3 L183.4 379.3 L185 379.3 L184.9 380.9 L186.1 381 L187.4 381 L187.7 379.4 L189.3 379.5 L190.9 379.6 L190.5 381.2 L191.7 381.3 L193 381.4 L193.5 379.9 L195.1 380 L196.7 380.2 L196 381.7 L197.3 381.9 L198.5 382.1 L199.3 380.5 L200.8 380.8 L202.4 381 L201.4 382.5 L202.7 382.7 L203.8 383 L204.9 381.5 L206.4 381.8 L207.9 382.1 L206.7 383.6 L207.9 383.8 L209 384.1 L210.3 382.7 L211.8 383 L213.2 383.4 L211.8 384.8 L212.9 385.1 L214 385.5 L215.6 384.1 L216.9 384.5 L218.3 385 L216.7 386.3 L217.7 386.7 L218.8 387 L220.5 385.8 L221.8 386.2 L223.1 386.8 L221.2 388 L222.2 388.4 L223.2 388.8 L225.2 387.6 L226.4 388.2 L227.6 388.8 L225.5 389.9 L226.4 390.4 L227.3 390.8 L229.5 389.7 L230.6 390.3 L231.7 390.9 L229.5 392 L230.3 392.5 L231.1 393 L233.5 392 L234.5 392.6 L235.5 393.3 L233.1 394.3 L233.8 394.8 L234.5 395.3 L237 394.4 L238 395.1 L238.8 395.8 L236.2 396.7 L236.9 397.2 L237.5 397.8 L240.2 397 L241 397.8 L241.7 398.5 L239 399.2 L239.6 399.8 L240.1 400.4 L242.9 399.8 L243.6 400.5 L244.2 401.3 L241.4 401.9 L241.8 402.5 L242.3 403.1 L245.1 402.6 L245.7 403.4 L246.1 404.2 L243.2 404.7 L243.6 405.3 L243.9 405.9 L246.9 405.5 L247.3 406.4 L247.6 407.2 L244.6 407.5 L244.9 408.2 L245.1 408.8 L248.1 408.5 L248.4 409.4 L248.6 410.2 L245.6 410.4 L245.7 411.1 L245.8 411.7 L248.9 411.6 L249 412.4 L249.1 413.3 L246 413.3 L246.1 414 L246.1 414.6 Z" fill="#fff" stroke="#202020" stroke-width="1.19" stroke-linejoin="round"/>
<path d="M163.1 414.8 L163.1 417.4 L163.3 418.7 L163.7 419.9 L164.5 421.1 L165.6 422.2 L166.9 423.2 L168.5 424.2 L170.3 425 L172.3 425.7 L174.5 426.3 L176.7 426.7 L179.1 426.9 L181.5 427 L183.9 426.9 L186.3 426.7 L188.5 426.3 L190.7 425.7 L192.7 425 L194.5 424.2 L196.1 423.2 L197.4 422.2 L198.5 421.1 L199.3 419.9 L199.7 418.7 L199.9 417.4 L199.9 414.8" fill="#fff" stroke="#202020" stroke-width="1.38" stroke-linejoin="round"/>
<ellipse cx="181.5" cy="414.8" rx="18.4" ry="9.6" fill="#fff" stroke="#202020" stroke-width="1.38"/>
<ellipse cx="181.5" cy="414.8" rx="11.5" ry="6" fill="#fff" stroke="#202020" stroke-width="1.38"/>
<path d="M170.7 415.1 L171.1 414.6 L171.7 414.1 L172.4 413.6 L173.1 413.2 L174 412.8 L174.9 412.4 L175.9 412.1 L176.9 411.9 L178 411.7 L179.2 411.5 L180.3 411.4 L181.5 411.4 L182.7 411.4 L183.8 411.5 L185 411.7 L186.1 411.9 L187.1 412.1 L188.1 412.4 L189 412.8 L189.9 413.2 L190.6 413.6 L191.3 414.1 L191.9 414.6 L192.3 415.1" fill="none" stroke="#202020" stroke-width="1.12" stroke-linejoin="round"/>
<path d="M172 418.7 L174 420.5 L176.5 420" fill="none" stroke="#202020" stroke-width="1" stroke-linejoin="round"/>
<path d="M332.2 360 L332.1 361.6 L331.8 363.1 L331.3 364.7 L330.5 366.2 L329.6 367.7 L328.5 369.2 L327.3 370.6 L325.8 372 L324.1 373.4 L322.3 374.6 L320.3 375.8 L318.2 377 L315.9 378.1 L313.5 379.1 L311 380 L308.3 380.8 L305.6 381.6 L302.7 382.2 L299.8 382.8 L296.8 383.2 L293.8 383.6 L290.7 383.8 L287.6 384 L284.5 384 L281.4 384 L278.3 383.8 L275.2 383.6 L272.2 383.2 L269.2 382.8 L266.3 382.2 L263.4 381.6 L260.7 380.8 L258 380 L255.5 379.1 L253.1 378.1 L250.8 377 L248.7 375.8 L246.7 374.6 L244.9 373.4 L243.2 372 L241.7 370.6 L240.5 369.2 L239.4 367.7 L238.5 366.2 L237.7 364.7 L237.2 363.1 L236.9 361.6 L236.8 360 L236.8 374.5 L236.9 376.1 L237.2 377.6 L237.7 379.2 L238.5 380.7 L239.4 382.2 L240.5 383.7 L241.7 385.1 L243.2 386.5 L244.9 387.9 L246.7 389.1 L248.7 390.3 L250.8 391.5 L253.1 392.6 L255.5 393.6 L258 394.5 L260.7 395.3 L263.4 396.1 L266.3 396.7 L269.2 397.3 L272.2 397.7 L275.2 398.1 L278.3 398.3 L281.4 398.5 L284.5 398.5 L287.6 398.5 L290.7 398.3 L293.8 398.1 L296.8 397.7 L299.8 397.3 L302.7 396.7 L305.6 396.1 L308.3 395.3 L311 394.5 L313.5 393.6 L315.9 392.6 L318.2 391.5 L320.3 390.3 L322.3 389.1 L324.1 387.9 L325.8 386.5 L327.3 385.1 L328.5 383.7 L329.6 382.2 L330.5 380.7 L331.3 379.2 L331.8 377.6 L332.1 376.1 L332.2 374.5 Z" fill="#777" stroke="#202020" stroke-width="1" stroke-linejoin="round"/>
<path d="M332.9 360.1 L332.9 374.6 L332.8 375.9 L332.8 361.4 Z" fill="#fff" stroke="#202020" stroke-width="1.12" stroke-linejoin="round"/>
<path d="M332.7 362.4 L332.7 376.9 L332.4 378.1 L332.4 363.6 Z" fill="#fff" stroke="#202020" stroke-width="1.12" stroke-linejoin="round"/>
<path d="M332 364.6 L332 379.1 L331.5 380.3 L331.5 365.8 Z" fill="#fff" stroke="#202020" stroke-width="1.12" stroke-linejoin="round"/>
<path d="M331 366.8 L331 381.3 L330.2 382.5 L330.2 368 Z" fill="#fff" stroke="#202020" stroke-width="1.12" stroke-linejoin="round"/>
<path d="M329.6 368.9 L329.6 383.4 L328.6 384.6 L328.6 370.1 Z" fill="#fff" stroke="#202020" stroke-width="1.12" stroke-linejoin="round"/>
<path d="M327.7 371 L327.7 385.5 L326.6 386.6 L326.6 372.1 Z" fill="#fff" stroke="#202020" stroke-width="1.12" stroke-linejoin="round"/>
<path d="M325.5 372.9 L325.5 387.4 L324.2 388.5 L324.2 374 Z" fill="#fff" stroke="#202020" stroke-width="1.12" stroke-linejoin="round"/>
<path d="M323 374.8 L323 389.3 L321.4 390.3 L321.4 375.8 Z" fill="#fff" stroke="#202020" stroke-width="1.12" stroke-linejoin="round"/>
<path d="M320.1 376.5 L320.1 391 L318.4 391.9 L318.4 377.4 Z" fill="#fff" stroke="#202020" stroke-width="1.12" stroke-linejoin="round"/>
<path d="M316.9 378.1 L316.9 392.6 L315.1 393.4 L315.1 378.9 Z" fill="#fff" stroke="#202020" stroke-width="1.12" stroke-linejoin="round"/>
<path d="M313.5 379.5 L313.5 394 L311.5 394.8 L311.5 380.3 Z" fill="#fff" stroke="#202020" stroke-width="1.12" stroke-linejoin="round"/>
<path d="M309.8 380.8 L309.8 395.3 L307.7 395.9 L307.7 381.4 Z" fill="#fff" stroke="#202020" stroke-width="1.12" stroke-linejoin="round"/>
<path d="M305.9 381.9 L305.9 396.4 L303.6 396.9 L303.6 382.4 Z" fill="#fff" stroke="#202020" stroke-width="1.12" stroke-linejoin="round"/>
<path d="M301.8 382.8 L301.8 397.3 L299.5 397.7 L299.5 383.2 Z" fill="#fff" stroke="#202020" stroke-width="1.12" stroke-linejoin="round"/>
<path d="M297.5 383.5 L297.5 398 L295.1 398.3 L295.1 383.8 Z" fill="#fff" stroke="#202020" stroke-width="1.12" stroke-linejoin="round"/>
<path d="M293.2 384 L293.2 398.5 L290.7 398.7 L290.7 384.2 Z" fill="#fff" stroke="#202020" stroke-width="1.12" stroke-linejoin="round"/>
<path d="M288.7 384.3 L288.7 398.8 L286.3 398.9 L286.3 384.4 Z" fill="#fff" stroke="#202020" stroke-width="1.12" stroke-linejoin="round"/>
<path d="M284.3 384.4 L284.3 398.9 L281.8 398.9 L281.8 384.4 Z" fill="#fff" stroke="#202020" stroke-width="1.12" stroke-linejoin="round"/>
<path d="M279.8 384.3 L279.8 398.8 L277.4 398.6 L277.4 384.1 Z" fill="#fff" stroke="#202020" stroke-width="1.12" stroke-linejoin="round"/>
<path d="M275.4 384 L275.4 398.5 L273 398.2 L273 383.7 Z" fill="#fff" stroke="#202020" stroke-width="1.12" stroke-linejoin="round"/>
<path d="M271 383.4 L271 397.9 L268.7 397.6 L268.7 383.1 Z" fill="#fff" stroke="#202020" stroke-width="1.12" stroke-linejoin="round"/>
<path d="M266.8 382.7 L266.8 397.2 L264.5 396.7 L264.5 382.2 Z" fill="#fff" stroke="#202020" stroke-width="1.12" stroke-linejoin="round"/>
<path d="M262.7 381.8 L262.7 396.3 L260.6 395.7 L260.6 381.2 Z" fill="#fff" stroke="#202020" stroke-width="1.12" stroke-linejoin="round"/>
<path d="M258.8 380.7 L258.8 395.2 L256.8 394.5 L256.8 380 Z" fill="#fff" stroke="#202020" stroke-width="1.12" stroke-linejoin="round"/>
<path d="M255.2 379.4 L255.2 393.9 L253.2 393.1 L253.2 378.6 Z" fill="#fff" stroke="#202020" stroke-width="1.12" stroke-linejoin="round"/>
<path d="M251.7 378 L251.7 392.5 L250 391.6 L250 377.1 Z" fill="#fff" stroke="#202020" stroke-width="1.12" stroke-linejoin="round"/>
<path d="M248.6 376.4 L248.6 390.9 L247 389.9 L247 375.4 Z" fill="#fff" stroke="#202020" stroke-width="1.12" stroke-linejoin="round"/>
<path d="M245.7 374.6 L245.7 389.1 L244.3 388.1 L244.3 373.6 Z" fill="#fff" stroke="#202020" stroke-width="1.12" stroke-linejoin="round"/>
<path d="M243.2 372.7 L243.2 387.2 L242 386.2 L242 371.7 Z" fill="#fff" stroke="#202020" stroke-width="1.12" stroke-linejoin="round"/>
<path d="M241.1 370.8 L241.1 385.3 L240 384.1 L240 369.6 Z" fill="#fff" stroke="#202020" stroke-width="1.12" stroke-linejoin="round"/>
<path d="M239.3 368.7 L239.3 383.2 L238.5 382 L238.5 367.5 Z" fill="#fff" stroke="#202020" stroke-width="1.12" stroke-linejoin="round"/>
<path d="M237.9 366.6 L237.9 381.1 L237.3 379.9 L237.3 365.4 Z" fill="#fff" stroke="#202020" stroke-width="1.12" stroke-linejoin="round"/>
<path d="M236.9 364.4 L236.9 378.9 L236.5 377.6 L236.5 363.1 Z" fill="#fff" stroke="#202020" stroke-width="1.12" stroke-linejoin="round"/>
<path d="M236.3 362.1 L236.3 376.6 L236.1 375.4 L236.1 360.9 Z" fill="#fff" stroke="#202020" stroke-width="1.12" stroke-linejoin="round"/>
<path d="M236.1 359.9 L236.1 374.4 L236.2 373.1 L236.2 358.6 Z" fill="#fff" stroke="#202020" stroke-width="1.12" stroke-linejoin="round"/>
<path d="M332.9 360.1 L332.9 360.7 L332.8 361.4 L331.6 361.3 L331.6 361.8 L331.5 362.3 L332.7 362.4 L332.5 363 L332.4 363.6 L331.2 363.5 L331 364 L330.8 364.5 L332 364.6 L331.8 365.2 L331.5 365.8 L330.3 365.7 L330.1 366.1 L329.8 366.6 L331 366.8 L330.6 367.4 L330.2 368 L329.1 367.8 L328.8 368.2 L328.4 368.7 L329.6 368.9 L329.1 369.5 L328.6 370.1 L327.5 369.8 L327.1 370.3 L326.6 370.7 L327.7 371 L327.2 371.5 L326.6 372.1 L325.5 371.8 L325 372.2 L324.5 372.6 L325.5 372.9 L324.9 373.5 L324.2 374 L323.2 373.6 L322.6 374 L322 374.4 L323 374.8 L322.2 375.3 L321.4 375.8 L320.5 375.4 L319.9 375.7 L319.2 376.1 L320.1 376.5 L319.3 377 L318.4 377.4 L317.6 377 L316.9 377.3 L316.1 377.7 L316.9 378.1 L316 378.5 L315.1 378.9 L314.3 378.4 L313.5 378.8 L312.8 379.1 L313.5 379.5 L312.5 379.9 L311.5 380.3 L310.8 379.8 L310 380 L309.2 380.3 L309.8 380.8 L308.7 381.1 L307.7 381.4 L307.1 380.9 L306.2 381.1 L305.3 381.3 L305.9 381.9 L304.8 382.2 L303.6 382.4 L303.2 381.9 L302.3 382 L301.3 382.2 L301.8 382.8 L300.6 383 L299.5 383.2 L299.1 382.6 L298.1 382.8 L297.2 382.9 L297.5 383.5 L296.3 383.7 L295.1 383.8 L294.9 383.2 L293.9 383.3 L293 383.4 L293.2 384 L292 384.1 L290.7 384.2 L290.6 383.6 L289.6 383.6 L288.6 383.7 L288.7 384.3 L287.5 384.4 L286.3 384.4 L286.2 383.8 L285.3 383.8 L284.3 383.8 L284.3 384.4 L283 384.4 L281.8 384.4 L281.9 383.8 L280.9 383.7 L279.9 383.7 L279.8 384.3 L278.6 384.2 L277.4 384.1 L277.5 383.5 L276.6 383.5 L275.6 383.4 L275.4 384 L274.2 383.8 L273 383.7 L273.3 383.1 L272.3 383 L271.4 382.9 L271 383.4 L269.9 383.3 L268.7 383.1 L269.1 382.5 L268.2 382.3 L267.2 382.1 L266.8 382.7 L265.7 382.5 L264.5 382.2 L265 381.7 L264.2 381.5 L263.3 381.2 L262.7 381.8 L261.6 381.5 L260.6 381.2 L261.2 380.7 L260.3 380.4 L259.5 380.2 L258.8 380.7 L257.8 380.4 L256.8 380 L257.5 379.5 L256.7 379.2 L255.9 378.9 L255.2 379.4 L254.2 379 L253.2 378.6 L254 378.2 L253.3 377.8 L252.5 377.5 L251.7 378 L250.8 377.5 L250 377.1 L250.8 376.7 L250.1 376.3 L249.5 375.9 L248.6 376.4 L247.8 375.9 L247 375.4 L247.9 375 L247.3 374.6 L246.7 374.2 L245.7 374.6 L245 374.1 L244.3 373.6 L245.3 373.3 L244.8 372.8 L244.3 372.4 L243.2 372.7 L242.6 372.2 L242 371.7 L243.1 371.4 L242.6 370.9 L242.2 370.5 L241.1 370.8 L240.5 370.2 L240 369.6 L241.2 369.4 L240.8 369 L240.4 368.5 L239.3 368.7 L238.9 368.1 L238.5 367.5 L239.6 367.4 L239.3 366.9 L239.1 366.4 L237.9 366.6 L237.6 366 L237.3 365.4 L238.5 365.2 L238.3 364.7 L238.1 364.3 L236.9 364.4 L236.7 363.8 L236.5 363.1 L237.7 363.1 L237.6 362.6 L237.5 362.1 L236.3 362.1 L236.2 361.5 L236.1 360.9 L237.3 360.9 L237.3 360.4 L237.3 359.9 L236.1 359.9 L236.1 359.3 L236.2 358.6 L237.4 358.7 L237.4 358.2 L237.5 357.7 L236.3 357.6 L236.5 357 L236.6 356.4 L237.8 356.5 L238 356 L238.2 355.5 L237 355.4 L237.2 354.8 L237.5 354.2 L238.7 354.3 L238.9 353.9 L239.2 353.4 L238 353.2 L238.4 352.6 L238.8 352 L239.9 352.2 L240.2 351.8 L240.6 351.3 L239.4 351.1 L239.9 350.5 L240.4 349.9 L241.5 350.2 L241.9 349.7 L242.4 349.3 L241.3 349 L241.8 348.5 L242.4 347.9 L243.5 348.2 L244 347.8 L244.5 347.4 L243.5 347.1 L244.1 346.5 L244.8 346 L245.8 346.4 L246.4 346 L247 345.6 L246 345.2 L246.8 344.7 L247.6 344.2 L248.5 344.6 L249.1 344.3 L249.8 343.9 L248.9 343.5 L249.7 343 L250.6 342.6 L251.4 343 L252.1 342.7 L252.9 342.3 L252.1 341.9 L253 341.5 L253.9 341.1 L254.7 341.6 L255.5 341.2 L256.2 340.9 L255.5 340.5 L256.5 340.1 L257.5 339.7 L258.2 340.2 L259 340 L259.8 339.7 L259.2 339.2 L260.3 338.9 L261.3 338.6 L261.9 339.1 L262.8 338.9 L263.7 338.7 L263.1 338.1 L264.2 337.8 L265.4 337.6 L265.8 338.1 L266.7 338 L267.7 337.8 L267.2 337.2 L268.4 337 L269.5 336.8 L269.9 337.4 L270.9 337.2 L271.8 337.1 L271.5 336.5 L272.7 336.3 L273.9 336.2 L274.1 336.8 L275.1 336.7 L276 336.6 L275.8 336 L277 335.9 L278.3 335.8 L278.4 336.4 L279.4 336.4 L280.4 336.3 L280.3 335.7 L281.5 335.6 L282.7 335.6 L282.8 336.2 L283.7 336.2 L284.7 336.2 L284.7 335.6 L286 335.6 L287.2 335.6 L287.1 336.2 L288.1 336.3 L289.1 336.3 L289.2 335.7 L290.4 335.8 L291.6 335.9 L291.5 336.5 L292.4 336.5 L293.4 336.6 L293.6 336 L294.8 336.2 L296 336.3 L295.7 336.9 L296.7 337 L297.6 337.1 L298 336.6 L299.1 336.7 L300.3 336.9 L299.9 337.5 L300.8 337.7 L301.8 337.9 L302.2 337.3 L303.3 337.5 L304.5 337.8 L304 338.3 L304.8 338.5 L305.7 338.8 L306.3 338.2 L307.4 338.5 L308.4 338.8 L307.8 339.3 L308.7 339.6 L309.5 339.8 L310.2 339.3 L311.2 339.6 L312.2 340 L311.5 340.5 L312.3 340.8 L313.1 341.1 L313.8 340.6 L314.8 341 L315.8 341.4 L315 341.8 L315.7 342.2 L316.5 342.5 L317.3 342 L318.2 342.5 L319 342.9 L318.2 343.3 L318.9 343.7 L319.5 344.1 L320.4 343.6 L321.2 344.1 L322 344.6 L321.1 345 L321.7 345.4 L322.3 345.8 L323.3 345.4 L324 345.9 L324.7 346.4 L323.7 346.7 L324.2 347.2 L324.7 347.6 L325.8 347.3 L326.4 347.8 L327 348.3 L325.9 348.6 L326.4 349.1 L326.8 349.5 L327.9 349.2 L328.5 349.8 L329 350.4 L327.8 350.6 L328.2 351 L328.6 351.5 L329.7 351.3 L330.1 351.9 L330.5 352.5 L329.4 352.6 L329.7 353.1 L329.9 353.6 L331.1 353.4 L331.4 354 L331.7 354.6 L330.5 354.8 L330.7 355.3 L330.9 355.7 L332.1 355.6 L332.3 356.2 L332.5 356.9 L331.3 356.9 L331.4 357.4 L331.5 357.9 L332.7 357.9 L332.8 358.5 L332.9 359.1 L331.7 359.1 L331.7 359.6 L331.7 360.1 Z" fill="#fff" stroke="#202020" stroke-width="1.19" stroke-linejoin="round"/>
<ellipse cx="284.5" cy="360.6" rx="43.6" ry="21.3" fill="#fff" stroke="#202020" stroke-width="1.38"/>
<path d="M241.9 362.5 L242.4 361 L243 359.7 L243.9 358.3 L245 356.9 L246.4 355.6 L247.9 354.4 L249.6 353.2 L251.5 352.1 L253.6 351 L255.9 350 L258.3 349.1 L260.8 348.3 L263.5 347.5 L266.3 346.9 L269.2 346.3 L272.1 345.8 L275.2 345.5 L278.2 345.2 L281.4 345.1 L284.5 345 L287.6 345.1 L290.8 345.2 L293.8 345.5 L296.9 345.8 L299.8 346.3 L302.7 346.9 L305.5 347.5 L308.2 348.3 L310.7 349.1 L313.1 350 L315.4 351 L317.5 352.1 L319.4 353.2 L321.1 354.4 L322.6 355.6 L324 356.9 L325.1 358.3 L326 359.7 L326.6 361 L327.1 362.5" fill="none" stroke="#202020" stroke-width="1.12" stroke-linejoin="round"/>
<path d="M272.5 362.4 L272.5 366.2 L272.6 367 L272.9 367.8 L273.4 368.5 L274 369.2 L274.9 369.9 L275.9 370.4 L277 371 L278.2 371.4 L279.6 371.7 L281 372 L282.5 372.1 L284 372.2 L285.5 372.1 L287 372 L288.4 371.7 L289.8 371.4 L291 371 L292.1 370.4 L293.1 369.9 L294 369.2 L294.6 368.5 L295.1 367.8 L295.4 367 L295.5 366.2 L295.5 362.4" fill="#fff" stroke="#202020" stroke-width="1.38" stroke-linejoin="round"/>
<ellipse cx="284" cy="362.4" rx="11.5" ry="6" fill="#fff" stroke="#202020" stroke-width="1.38"/>
<ellipse cx="284" cy="362.4" rx="5.8" ry="3.1" fill="#fff" stroke="#202020" stroke-width="1.38"/>
<path d="M287 364.5 L289.5 363.5 L289 361.5" fill="none" stroke="#202020" stroke-width="1" stroke-linejoin="round"/>
<path d="M273.8 294.5 L277.5 290.5 L287 289.8 L294.2 293.5 L294.2 300 L290.2 304.5 L281 305 L273.8 301 Z" fill="#fff" stroke="#202020" stroke-width="1.38" stroke-linejoin="round"/>
<path d="M273.8 294.5 L281 298.3 L290.2 297.8 L294.2 293.5" fill="none" stroke="#202020" stroke-width="1.25" stroke-linejoin="round"/>
<line x1="281" y1="298.3" x2="281" y2="305" stroke="#202020" stroke-width="1.25"/>
<line x1="290.2" y1="297.8" x2="290.2" y2="304.5" stroke="#202020" stroke-width="1.25"/>
<ellipse cx="284" cy="294" rx="5.2" ry="3" fill="#fff" stroke="#202020" stroke-width="1.25"/>
<ellipse cx="284.3" cy="294.3" rx="3.4" ry="1.9" fill="#fff" stroke="#202020" stroke-width="1"/>
<path d="M277 320.5 L277 321.8 L277.1 322.3 L277.2 322.8 L277.5 323.3 L277.9 323.8 L278.4 324.2 L279 324.6 L279.7 325 L280.4 325.3 L281.2 325.5 L282 325.7 L282.9 325.8 L283.8 325.8 L284.7 325.8 L285.6 325.7 L286.4 325.5 L287.2 325.3 L287.9 325 L288.6 324.6 L289.2 324.2 L289.7 323.8 L290.1 323.3 L290.4 322.8 L290.5 322.3 L290.6 321.8 L290.6 320.5" fill="#fff" stroke="#202020" stroke-width="1.38" stroke-linejoin="round"/>
<ellipse cx="283.8" cy="320.5" rx="6.8" ry="4" fill="#fff" stroke="#202020" stroke-width="1.38"/>
<ellipse cx="283.8" cy="320.5" rx="4" ry="2.2" fill="#fff" stroke="#202020" stroke-width="1.25"/>
<path d="M157.3 553.5 L157.3 598 L157.2 598 L157.4 597 L158 596.1 L159.1 595.2 L160.5 594.3 L162.3 593.5 L164.4 592.8 L166.8 592.1 L169.5 591.6 L172.4 591.2 L175.4 590.9 L178.6 590.7 L181.8 590.6 L185 590.7 L188.2 590.9 L191.2 591.2 L194.1 591.6 L196.8 592.1 L199.2 592.8 L201.3 593.5 L203.1 594.3 L204.5 595.2 L205.6 596.1 L206.2 597 L206.4 598 L206.4 598 L206.4 553.5" fill="#fff" stroke="#202020" stroke-width="1.38" stroke-linejoin="round"/>
<path d="M157.2 575 L157.4 576.2 L158 577.3 L159.1 578.4 L160.5 579.5 L162.3 580.5 L164.4 581.4 L166.8 582.1 L169.5 582.8 L172.4 583.3 L175.4 583.7 L178.6 583.9 L181.8 584 L185 583.9 L188.2 583.7 L191.2 583.3 L194.1 582.8 L196.8 582.1 L199.2 581.4 L201.3 580.5 L203.1 579.5 L204.5 578.4 L205.6 577.3 L206.2 576.2 L206.4 575" fill="none" stroke="#202020" stroke-width="1.25" stroke-linejoin="round"/>
<line x1="158.9" y1="577.5" x2="158.9" y2="597" stroke="#202020" stroke-width="1"/>
<line x1="204.8" y1="577.5" x2="204.8" y2="597" stroke="#202020" stroke-width="1"/>
<path d="M153 544 L153 546.8 L153.2 548.7 L154 550.6 L155.2 552.3 L156.9 554 L159 555.6 L161.4 557.1 L164.3 558.3 L167.4 559.4 L170.8 560.2 L174.3 560.8 L178 561.2 L181.8 561.3 L185.6 561.2 L189.3 560.8 L192.8 560.2 L196.2 559.4 L199.3 558.3 L202.2 557.1 L204.6 555.6 L206.7 554 L208.4 552.3 L209.6 550.6 L210.4 548.7 L210.6 546.8 L210.6 544" fill="#fff" stroke="#202020" stroke-width="1.38" stroke-linejoin="round"/>
<ellipse cx="181.8" cy="544" rx="28.8" ry="14.5" fill="#fff" stroke="#202020" stroke-width="1.38"/>
<ellipse cx="181.8" cy="543.8" rx="19.6" ry="9.3" fill="#fff" stroke="#202020" stroke-width="1.38"/>
<path d="M162.9 543.7 L163.5 542.7 L164.4 541.8 L165.5 541 L166.8 540.2 L168.2 539.5 L169.9 538.9 L171.6 538.3 L173.5 537.8 L175.5 537.5 L177.6 537.2 L179.7 537.1 L181.8 537 L183.9 537.1 L186 537.2 L188.1 537.5 L190.1 537.8 L192 538.3 L193.7 538.9 L195.4 539.5 L196.8 540.2 L198.1 541 L199.2 541.8 L200.1 542.7 L200.7 543.7" fill="none" stroke="#202020" stroke-width="1.12" stroke-linejoin="round"/>
<path d="M148.2 617.3 L148.2 619 L148.5 621.2 L149.3 623.4 L150.8 625.5 L152.7 627.5 L155.1 629.3 L158 631 L161.3 632.5 L165 633.7 L168.9 634.7 L173.1 635.4 L177.4 635.9 L181.8 636 L186.2 635.9 L190.5 635.4 L194.7 634.7 L198.6 633.7 L202.3 632.5 L205.6 631 L208.5 629.3 L210.9 627.5 L212.8 625.5 L214.3 623.4 L215.1 621.2 L215.4 619 L215.4 617.3" fill="#fff" stroke="#202020" stroke-width="1.38" stroke-linejoin="round"/>
<ellipse cx="181.8" cy="617.3" rx="33.6" ry="17" fill="#fff" stroke="#202020" stroke-width="1.38"/>
<ellipse cx="181.8" cy="619" rx="25.3" ry="13" fill="#fff" stroke="#202020" stroke-width="1.38"/>
<path d="M156.9 618.3 L157.6 616.9 L158.6 615.5 L159.9 614.2 L161.5 613 L163.4 611.9 L165.5 610.8 L167.9 610 L170.4 609.2 L173.1 608.7 L176 608.2 L178.9 608 L181.8 607.9 L184.7 608 L187.6 608.2 L190.5 608.7 L193.2 609.2 L195.7 610 L198.1 610.8 L200.2 611.9 L202.1 613 L203.7 614.2 L205 615.5 L206 616.9 L206.7 618.3" fill="none" stroke="#202020" stroke-width="1.12" stroke-linejoin="round"/>
<path d="M159.1 654.5 L159.1 665.5 L159.3 667 L159.9 668.5 L160.9 669.9 L162.2 671.2 L163.9 672.5 L165.9 673.6 L168.1 674.6 L170.7 675.5 L173.4 676.1 L176.2 676.6 L179.2 676.9 L182.2 677 L185.2 676.9 L188.2 676.6 L191 676.1 L193.8 675.5 L196.3 674.6 L198.5 673.6 L200.5 672.5 L202.2 671.2 L203.5 669.9 L204.5 668.5 L205.1 667 L205.3 665.5 L205.3 654.5" fill="#fff" stroke="#202020" stroke-width="1.38" stroke-linejoin="round"/>
<ellipse cx="182.2" cy="654.5" rx="23.1" ry="11.5" fill="#fff" stroke="#202020" stroke-width="1.38"/>
<ellipse cx="182.2" cy="654.5" rx="19.4" ry="9.7" fill="#fff" stroke="#202020" stroke-width="1.25"/>
<ellipse cx="198.6" cy="655.9" rx="2.8" ry="2.1" fill="#fff" stroke="#202020" stroke-width="1.12"/>
<ellipse cx="194.4" cy="660.1" rx="2.8" ry="2.1" fill="#fff" stroke="#202020" stroke-width="1.12"/>
<ellipse cx="186.4" cy="662.5" rx="2.8" ry="2.1" fill="#fff" stroke="#202020" stroke-width="1.12"/>
<ellipse cx="177" cy="662.4" rx="2.8" ry="2.1" fill="#fff" stroke="#202020" stroke-width="1.12"/>
<ellipse cx="169.3" cy="659.7" rx="2.8" ry="2.1" fill="#fff" stroke="#202020" stroke-width="1.12"/>
<ellipse cx="165.7" cy="655.4" rx="2.8" ry="2.1" fill="#fff" stroke="#202020" stroke-width="1.12"/>
<ellipse cx="167.3" cy="650.8" rx="2.8" ry="2.1" fill="#fff" stroke="#202020" stroke-width="1.12"/>
<ellipse cx="173.7" cy="647.4" rx="2.8" ry="2.1" fill="#fff" stroke="#202020" stroke-width="1.12"/>
<ellipse cx="182.7" cy="646.2" rx="2.8" ry="2.1" fill="#fff" stroke="#202020" stroke-width="1.12"/>
<ellipse cx="191.6" cy="647.7" rx="2.8" ry="2.1" fill="#fff" stroke="#202020" stroke-width="1.12"/>
<ellipse cx="197.5" cy="651.3" rx="2.8" ry="2.1" fill="#fff" stroke="#202020" stroke-width="1.12"/>
<ellipse cx="182.2" cy="654.5" rx="13.9" ry="6.9" fill="#fff" stroke="#202020" stroke-width="1.25"/>
<ellipse cx="182.2" cy="654.5" rx="11.6" ry="5.8" fill="#fff" stroke="#202020" stroke-width="1.25"/>
<path d="M171.3 657.5 L171.8 656.9 L172.4 656.4 L173 655.9 L173.8 655.5 L174.6 655.1 L175.6 654.7 L176.6 654.4 L177.6 654.2 L178.7 654 L179.9 653.8 L181 653.7 L182.2 653.7 L183.4 653.7 L184.5 653.8 L185.7 654 L186.8 654.2 L187.8 654.4 L188.8 654.7 L189.8 655.1 L190.6 655.5 L191.4 655.9 L192 656.4 L192.6 656.9 L193.1 657.5" fill="none" stroke="#202020" stroke-width="1.12" stroke-linejoin="round"/>
<path d="M164.4 694.8 L164.4 705.3 L164.6 706.4 L165 707.5 L165.8 708.6 L166.8 709.5 L168.1 710.5 L169.6 711.3 L171.4 712 L173.3 712.7 L175.4 713.2 L177.6 713.5 L179.9 713.7 L182.2 713.8 L184.5 713.7 L186.8 713.5 L189 713.2 L191.1 712.7 L193 712 L194.8 711.3 L196.3 710.5 L197.6 709.5 L198.6 708.6 L199.4 707.5 L199.8 706.4 L200 705.3 L200 694.8" fill="#fff" stroke="#202020" stroke-width="1.38" stroke-linejoin="round"/>
<ellipse cx="182.2" cy="694.8" rx="17.8" ry="8.5" fill="#fff" stroke="#202020" stroke-width="1.38"/>
<ellipse cx="182.2" cy="694.8" rx="14.6" ry="6.6" fill="#fff" stroke="#202020" stroke-width="1.38"/>
<path d="M195.4 700.5 L195.3 701.2 L195 701.8 L194.4 702.5 L193.6 703.1 L192.7 703.7 L191.5 704.2 L190.2 704.6 L188.8 705 L187.3 705.3 L185.6 705.5 L183.9 705.7 L182.2 705.7 L180.5 705.7 L178.8 705.5 L177.1 705.3 L175.6 705 L174.2 704.6 L172.9 704.2 L171.7 703.7 L170.8 703.1 L170 702.5 L169.4 701.8 L169.1 701.2 L169 700.5" fill="none" stroke="#202020" stroke-width="1.12" stroke-linejoin="round"/>
<path d="M172.7 700.5 L172.8 700.1 L173 699.6 L173.4 699.2 L174 698.8 L174.7 698.4 L175.5 698.1 L176.4 697.8 L177.4 697.6 L178.6 697.4 L179.7 697.2 L181 697.1 L182.2 697.1 L183.4 697.1 L184.7 697.2 L185.8 697.4 L186.9 697.6 L188 697.8 L188.9 698.1 L189.7 698.4 L190.4 698.8 L191 699.2 L191.4 699.6 L191.6 700.1 L191.7 700.5" fill="none" stroke="#202020" stroke-width="1.12" stroke-linejoin="round"/>
<path d="M157.6 731.5 L157.6 744.5 L157.8 746 L158.4 747.5 L159.5 748.9 L160.9 750.3 L162.6 751.6 L164.7 752.7 L167.1 753.7 L169.8 754.5 L172.7 755.2 L175.7 755.7 L178.8 756 L182 756.1 L185.2 756 L188.3 755.7 L191.3 755.2 L194.2 754.5 L196.9 753.7 L199.3 752.7 L201.4 751.6 L203.1 750.3 L204.5 748.9 L205.6 747.5 L206.2 746 L206.4 744.5 L206.4 731.5" fill="#fff" stroke="#202020" stroke-width="1.38" stroke-linejoin="round"/>
<ellipse cx="182" cy="731.5" rx="24.4" ry="11.6" fill="#fff" stroke="#202020" stroke-width="1.38"/>
<ellipse cx="182" cy="731.8" rx="21.6" ry="9.7" fill="#fff" stroke="#202020" stroke-width="1.38"/>
<path d="M201.5 743.9 L200.7 744.7 L199.7 745.4 L198.5 746.1 L197.1 746.8 L195.6 747.4 L193.9 747.9 L192.1 748.3 L190.2 748.7 L188.3 749 L186.2 749.2 L184.1 749.4 L182 749.4 L179.9 749.4 L177.8 749.2 L175.7 749 L173.8 748.7 L171.9 748.3 L170.1 747.9 L168.4 747.4 L166.9 746.8 L165.5 746.1 L164.3 745.4 L163.3 744.7 L162.5 743.9" fill="none" stroke="#202020" stroke-width="1.12" stroke-linejoin="round"/>
<path d="M159.1 774.5 L159.1 785.5 L159.3 787 L159.9 788.5 L160.9 789.9 L162.2 791.2 L163.9 792.5 L165.9 793.6 L168.1 794.6 L170.7 795.5 L173.4 796.1 L176.2 796.6 L179.2 796.9 L182.2 797 L185.2 796.9 L188.2 796.6 L191 796.1 L193.8 795.5 L196.3 794.6 L198.5 793.6 L200.5 792.5 L202.2 791.2 L203.5 789.9 L204.5 788.5 L205.1 787 L205.3 785.5 L205.3 774.5" fill="#fff" stroke="#202020" stroke-width="1.38" stroke-linejoin="round"/>
<ellipse cx="182.2" cy="774.5" rx="23.1" ry="11.5" fill="#fff" stroke="#202020" stroke-width="1.38"/>
<ellipse cx="182.2" cy="774.5" rx="19.4" ry="9.7" fill="#fff" stroke="#202020" stroke-width="1.25"/>
<ellipse cx="198.6" cy="775.9" rx="2.8" ry="2.1" fill="#fff" stroke="#202020" stroke-width="1.12"/>
<ellipse cx="194.4" cy="780.1" rx="2.8" ry="2.1" fill="#fff" stroke="#202020" stroke-width="1.12"/>
<ellipse cx="186.4" cy="782.5" rx="2.8" ry="2.1" fill="#fff" stroke="#202020" stroke-width="1.12"/>
<ellipse cx="177" cy="782.4" rx="2.8" ry="2.1" fill="#fff" stroke="#202020" stroke-width="1.12"/>
<ellipse cx="169.3" cy="779.7" rx="2.8" ry="2.1" fill="#fff" stroke="#202020" stroke-width="1.12"/>
<ellipse cx="165.7" cy="775.4" rx="2.8" ry="2.1" fill="#fff" stroke="#202020" stroke-width="1.12"/>
<ellipse cx="167.3" cy="770.8" rx="2.8" ry="2.1" fill="#fff" stroke="#202020" stroke-width="1.12"/>
<ellipse cx="173.7" cy="767.4" rx="2.8" ry="2.1" fill="#fff" stroke="#202020" stroke-width="1.12"/>
<ellipse cx="182.7" cy="766.2" rx="2.8" ry="2.1" fill="#fff" stroke="#202020" stroke-width="1.12"/>
<ellipse cx="191.6" cy="767.7" rx="2.8" ry="2.1" fill="#fff" stroke="#202020" stroke-width="1.12"/>
<ellipse cx="197.5" cy="771.3" rx="2.8" ry="2.1" fill="#fff" stroke="#202020" stroke-width="1.12"/>
<ellipse cx="182.2" cy="774.5" rx="13.9" ry="6.9" fill="#fff" stroke="#202020" stroke-width="1.25"/>
<ellipse cx="182.2" cy="774.5" rx="11.6" ry="5.8" fill="#fff" stroke="#202020" stroke-width="1.25"/>
<path d="M171.3 777.5 L171.8 776.9 L172.4 776.4 L173 775.9 L173.8 775.5 L174.6 775.1 L175.6 774.7 L176.6 774.4 L177.6 774.2 L178.7 774 L179.9 773.8 L181 773.7 L182.2 773.7 L183.4 773.7 L184.5 773.8 L185.7 774 L186.8 774.2 L187.8 774.4 L188.8 774.7 L189.8 775.1 L190.6 775.5 L191.4 775.9 L192 776.4 L192.6 776.9 L193.1 777.5" fill="none" stroke="#202020" stroke-width="1.12" stroke-linejoin="round"/>
<ellipse cx="290" cy="523.2" rx="3.2" ry="2.1" fill="#fff" stroke="#202020" stroke-width="1.25"/>
<path d="M286.8 523.2 L286.8 525.5 L293.2 525.5 L293.2 523.2" fill="#fff" stroke="#202020" stroke-width="1.25" stroke-linejoin="round"/>
<path d="M288.7 526 L288.7 533 L291.3 533 L291.3 526" fill="#fff" stroke="#202020" stroke-width="1.25" stroke-linejoin="round"/>
<ellipse cx="290" cy="523.2" rx="3.2" ry="2.1" fill="#fff" stroke="#202020" stroke-width="1.25"/>
<path d="M256 551 L261.5 545.5 Q266 539.5 284 538 Q306 538.5 312 551 L312.3 558 Q311 568.5 290 573.8 L281 573.5 L256.3 559.5 Z" fill="#fff" stroke="#202020" stroke-width="1.38" stroke-linejoin="round"/>
<path d="M256 551 L281 566 L290 566.5 Q309.5 562 312 551" fill="none" stroke="#202020" stroke-width="1.25" stroke-linejoin="round"/>
<line x1="281" y1="566" x2="281" y2="573.5" stroke="#202020" stroke-width="1.25"/>
<line x1="290" y1="566.5" x2="290" y2="573.8" stroke="#202020" stroke-width="1.25"/>
<ellipse cx="261.5" cy="552" rx="2.2" ry="1.3" fill="#fff" stroke="#202020" stroke-width="1.12"/>
<ellipse cx="290" cy="562" rx="1.8" ry="1.1" fill="#fff" stroke="#202020" stroke-width="1.12"/>
<path d="M264.5 550.5 L264.5 554.5 L264.7 555.9 L265.2 557.3 L266 558.7 L267.2 560 L268.6 561.2 L270.4 562.3 L272.3 563.2 L274.5 564 L276.8 564.7 L279.3 565.1 L281.9 565.4 L284.5 565.5 L287.1 565.4 L289.7 565.1 L292.2 564.7 L294.5 564 L296.7 563.2 L298.6 562.3 L300.4 561.2 L301.8 560 L303 558.7 L303.8 557.3 L304.3 555.9 L304.5 554.5 L304.5 550.5" fill="#fff" stroke="#202020" stroke-width="1.38" stroke-linejoin="round"/>
<ellipse cx="284.5" cy="550.5" rx="20" ry="11" fill="#fff" stroke="#202020" stroke-width="1.38"/>
<ellipse cx="284.5" cy="550.3" rx="15.5" ry="8.2" fill="#fff" stroke="#202020" stroke-width="1.25"/>
<ellipse cx="284.5" cy="550" rx="10.6" ry="5.8" fill="#fff" stroke="#202020" stroke-width="1.38"/>
<path d="M274.5 550.7 L275 550.1 L275.5 549.7 L276.1 549.2 L276.8 548.8 L277.6 548.4 L278.4 548.1 L279.3 547.8 L280.3 547.5 L281.3 547.3 L282.4 547.2 L283.4 547.1 L284.5 547.1 L285.6 547.1 L286.6 547.2 L287.7 547.3 L288.7 547.5 L289.7 547.8 L290.6 548.1 L291.4 548.4 L292.2 548.8 L292.9 549.2 L293.5 549.7 L294 550.1 L294.5 550.7" fill="none" stroke="#202020" stroke-width="1.12" stroke-linejoin="round"/>
<path d="M268.2 596.6 L268.2 604.2 L268.3 605.3 L268.7 606.3 L269.4 607.3 L270.3 608.3 L271.5 609.2 L272.9 610 L274.5 610.7 L276.2 611.3 L278.1 611.8 L280.1 612.1 L282.1 612.3 L284.2 612.4 L286.3 612.3 L288.3 612.1 L290.3 611.8 L292.2 611.3 L293.9 610.7 L295.5 610 L296.9 609.2 L298.1 608.3 L299 607.3 L299.7 606.3 L300.1 605.3 L300.2 604.2 L300.2 596.6" fill="#fff" stroke="#202020" stroke-width="1.38" stroke-linejoin="round"/>
<ellipse cx="284.2" cy="596.6" rx="16" ry="8.2" fill="#fff" stroke="#202020" stroke-width="1.38"/>
<ellipse cx="284.2" cy="596.6" rx="13.4" ry="6.9" fill="#fff" stroke="#202020" stroke-width="1.25"/>
<ellipse cx="295.5" cy="597.6" rx="1.9" ry="1.5" fill="#fff" stroke="#202020" stroke-width="1.12"/>
<ellipse cx="290.8" cy="601.4" rx="1.9" ry="1.5" fill="#fff" stroke="#202020" stroke-width="1.12"/>
<ellipse cx="282.2" cy="602.4" rx="1.9" ry="1.5" fill="#fff" stroke="#202020" stroke-width="1.12"/>
<ellipse cx="274.8" cy="600" rx="1.9" ry="1.5" fill="#fff" stroke="#202020" stroke-width="1.12"/>
<ellipse cx="272.9" cy="595.6" rx="1.9" ry="1.5" fill="#fff" stroke="#202020" stroke-width="1.12"/>
<ellipse cx="277.6" cy="591.8" rx="1.9" ry="1.5" fill="#fff" stroke="#202020" stroke-width="1.12"/>
<ellipse cx="286.2" cy="590.8" rx="1.9" ry="1.5" fill="#fff" stroke="#202020" stroke-width="1.12"/>
<ellipse cx="293.6" cy="593.2" rx="1.9" ry="1.5" fill="#fff" stroke="#202020" stroke-width="1.12"/>
<ellipse cx="284.2" cy="596.6" rx="9.6" ry="4.9" fill="#fff" stroke="#202020" stroke-width="1.25"/>
<ellipse cx="284.2" cy="596.6" rx="8" ry="4.1" fill="#fff" stroke="#202020" stroke-width="1.25"/>
<path d="M276.7 598.6 L277 598.2 L277.4 597.9 L277.9 597.5 L278.4 597.2 L279 596.9 L279.6 596.7 L280.3 596.4 L281 596.3 L281.8 596.1 L282.6 596 L283.4 595.9 L284.2 595.9 L285 595.9 L285.8 596 L286.6 596.1 L287.4 596.3 L288.1 596.4 L288.8 596.7 L289.4 596.9 L290 597.2 L290.5 597.5 L291 597.9 L291.4 598.2 L291.7 598.6" fill="none" stroke="#202020" stroke-width="1.12" stroke-linejoin="round"/>
<path d="M302.9 643.5 L302.8 644.4 L302.5 645.4 L301.9 646.3 L301.2 647.2 L300.3 648 L299.2 648.8 L298 649.5 L296.6 650.2 L295 650.8 L293.3 651.3 L291.6 651.7 L289.7 652.1 L287.8 652.3 L285.8 652.5 L283.8 652.5 L281.8 652.5 L279.8 652.3 L277.9 652.1 L276 651.7 L274.3 651.3 L272.6 650.8 L271 650.2 L269.6 649.5 L268.4 648.8 L267.3 648 L266.4 647.2 L265.7 646.3 L265.1 645.4 L264.8 644.4 L264.7 643.5 L264.7 652.3 L264.8 653.2 L265.1 654.2 L265.7 655.1 L266.4 656 L267.3 656.8 L268.4 657.6 L269.6 658.3 L271 659 L272.6 659.6 L274.3 660.1 L276 660.5 L277.9 660.9 L279.8 661.1 L281.8 661.3 L283.8 661.3 L285.8 661.3 L287.8 661.1 L289.7 660.9 L291.6 660.5 L293.3 660.1 L295 659.6 L296.6 659 L298 658.3 L299.2 657.6 L300.3 656.8 L301.2 656 L301.9 655.1 L302.5 654.2 L302.8 653.2 L302.9 652.3 Z" fill="#777" stroke="#202020" stroke-width="1" stroke-linejoin="round"/>
<path d="M305 643.7 L305 652.5 L304.8 653.7 L304.8 644.9 Z" fill="#fff" stroke="#202020" stroke-width="1.25" stroke-linejoin="round"/>
<path d="M304.4 645.9 L304.4 654.7 L303.6 655.9 L303.6 647.1 Z" fill="#fff" stroke="#202020" stroke-width="1.25" stroke-linejoin="round"/>
<path d="M302.7 648 L302.7 656.8 L301.4 657.8 L301.4 649 Z" fill="#fff" stroke="#202020" stroke-width="1.25" stroke-linejoin="round"/>
<path d="M300.1 649.9 L300.1 658.7 L298.4 659.6 L298.4 650.8 Z" fill="#fff" stroke="#202020" stroke-width="1.25" stroke-linejoin="round"/>
<path d="M296.6 651.5 L296.6 660.3 L294.6 660.9 L294.6 652.1 Z" fill="#fff" stroke="#202020" stroke-width="1.25" stroke-linejoin="round"/>
<path d="M292.6 652.6 L292.6 661.4 L290.3 661.8 L290.3 653 Z" fill="#fff" stroke="#202020" stroke-width="1.25" stroke-linejoin="round"/>
<path d="M288.1 653.3 L288.1 662.1 L285.6 662.3 L285.6 653.5 Z" fill="#fff" stroke="#202020" stroke-width="1.25" stroke-linejoin="round"/>
<path d="M283.3 653.5 L283.3 662.3 L280.9 662.2 L280.9 653.4 Z" fill="#fff" stroke="#202020" stroke-width="1.25" stroke-linejoin="round"/>
<path d="M278.6 653.2 L278.6 662 L276.3 661.6 L276.3 652.8 Z" fill="#fff" stroke="#202020" stroke-width="1.25" stroke-linejoin="round"/>
<path d="M274.2 652.4 L274.2 661.2 L272 660.6 L272 651.8 Z" fill="#fff" stroke="#202020" stroke-width="1.25" stroke-linejoin="round"/>
<path d="M270.2 651.2 L270.2 660 L268.4 659.2 L268.4 650.4 Z" fill="#fff" stroke="#202020" stroke-width="1.25" stroke-linejoin="round"/>
<path d="M266.9 649.6 L266.9 658.4 L265.6 657.4 L265.6 648.6 Z" fill="#fff" stroke="#202020" stroke-width="1.25" stroke-linejoin="round"/>
<path d="M264.5 647.6 L264.5 656.4 L263.6 655.3 L263.6 646.5 Z" fill="#fff" stroke="#202020" stroke-width="1.25" stroke-linejoin="round"/>
<path d="M263 645.5 L263 654.3 L262.7 653.2 L262.7 644.4 Z" fill="#fff" stroke="#202020" stroke-width="1.25" stroke-linejoin="round"/>
<path d="M262.6 643.3 L262.6 652.1 L262.8 650.9 L262.8 642.1 Z" fill="#fff" stroke="#202020" stroke-width="1.25" stroke-linejoin="round"/>
<path d="M305 643.7 L304.9 644.3 L304.8 644.9 L302.3 644.7 L302.1 645.2 L301.9 645.7 L304.4 645.9 L304 646.5 L303.6 647.1 L301.2 646.6 L300.9 647.1 L300.4 647.5 L302.7 648 L302.1 648.6 L301.4 649 L299.3 648.4 L298.7 648.8 L298.1 649.1 L300.1 649.9 L299.3 650.3 L298.4 650.8 L296.6 649.9 L295.9 650.2 L295.1 650.5 L296.6 651.5 L295.6 651.8 L294.6 652.1 L293.3 651.1 L292.4 651.3 L291.5 651.5 L292.6 652.6 L291.4 652.8 L290.3 653 L289.5 651.9 L288.5 652 L287.5 652.1 L288.1 653.3 L286.8 653.4 L285.6 653.5 L285.4 652.3 L284.4 652.3 L283.4 652.3 L283.3 653.5 L282.1 653.5 L280.9 653.4 L281.2 652.2 L280.2 652.1 L279.2 652 L278.6 653.2 L277.4 653 L276.3 652.8 L277.2 651.7 L276.2 651.5 L275.3 651.3 L274.2 652.4 L273.1 652.1 L272 651.8 L273.5 650.8 L272.6 650.5 L271.8 650.3 L270.2 651.2 L269.3 650.8 L268.4 650.4 L270.3 649.6 L269.6 649.2 L269 648.8 L266.9 649.6 L266.2 649.1 L265.6 648.6 L267.7 648 L267.3 647.6 L266.8 647.1 L264.5 647.6 L264 647.1 L263.6 646.5 L266 646.2 L265.8 645.7 L265.5 645.3 L263 645.5 L262.8 644.9 L262.7 644.4 L265.2 644.2 L265.2 643.8 L265.1 643.3 L262.6 643.3 L262.7 642.7 L262.8 642.1 L265.3 642.3 L265.5 641.8 L265.7 641.3 L263.2 641.1 L263.6 640.5 L264 639.9 L266.4 640.4 L266.7 639.9 L267.2 639.5 L264.9 639 L265.5 638.4 L266.2 638 L268.3 638.6 L268.9 638.2 L269.5 637.9 L267.5 637.1 L268.3 636.7 L269.2 636.2 L271 637.1 L271.7 636.8 L272.5 636.5 L271 635.5 L272 635.2 L273 634.9 L274.3 635.9 L275.2 635.7 L276.1 635.5 L275 634.4 L276.2 634.2 L277.3 634 L278.1 635.1 L279.1 635 L280.1 634.9 L279.5 633.7 L280.8 633.6 L282 633.5 L282.2 634.7 L283.2 634.7 L284.2 634.7 L284.3 633.5 L285.5 633.5 L286.7 633.6 L286.4 634.8 L287.4 634.9 L288.4 635 L289 633.8 L290.2 634 L291.3 634.2 L290.4 635.3 L291.4 635.5 L292.3 635.7 L293.4 634.6 L294.5 634.9 L295.6 635.2 L294.1 636.2 L295 636.5 L295.8 636.7 L297.4 635.8 L298.3 636.2 L299.2 636.6 L297.3 637.4 L298 637.8 L298.6 638.2 L300.7 637.4 L301.4 637.9 L302 638.4 L299.9 639 L300.3 639.4 L300.8 639.9 L303.1 639.4 L303.6 639.9 L304 640.5 L301.6 640.8 L301.8 641.3 L302.1 641.7 L304.6 641.5 L304.8 642.1 L304.9 642.6 L302.4 642.8 L302.4 643.2 L302.5 643.7 Z" fill="#fff" stroke="#202020" stroke-width="1.25" stroke-linejoin="round"/>
<path d="M268.9 639.2 L268.9 644.7 L269 645.7 L269.4 646.7 L270 647.7 L270.9 648.7 L272 649.5 L273.3 650.3 L274.7 651 L276.4 651.5 L278.1 652 L279.9 652.3 L281.9 652.5 L283.8 652.6 L285.7 652.5 L287.7 652.3 L289.5 652 L291.2 651.5 L292.9 651 L294.3 650.3 L295.6 649.5 L296.7 648.7 L297.6 647.7 L298.2 646.7 L298.6 645.7 L298.7 644.7 L298.7 639.2" fill="#fff" stroke="#202020" stroke-width="1.38" stroke-linejoin="round"/>
<ellipse cx="283.8" cy="639.2" rx="14.9" ry="7.9" fill="#fff" stroke="#202020" stroke-width="1.38"/>
<ellipse cx="283.8" cy="639.2" rx="8.6" ry="4.5" fill="#fff" stroke="#202020" stroke-width="1.38"/>
<path d="M275.7 639.5 L276.1 639.1 L276.5 638.7 L277 638.4 L277.5 638 L278.2 637.7 L278.9 637.5 L279.6 637.2 L280.4 637.1 L281.2 636.9 L282.1 636.8 L282.9 636.7 L283.8 636.7 L284.7 636.7 L285.5 636.8 L286.4 636.9 L287.2 637.1 L288 637.2 L288.7 637.5 L289.4 637.7 L290.1 638 L290.6 638.4 L291.1 638.7 L291.5 639.1 L291.9 639.5" fill="none" stroke="#202020" stroke-width="1.12" stroke-linejoin="round"/>
<path d="M289 641.6 L291.6 640.8 L291.6 643" fill="none" stroke="#202020" stroke-width="1" stroke-linejoin="round"/>
<ellipse cx="297.5" cy="647.8" rx="1.4" ry="1" fill="#fff" stroke="#202020" stroke-width="1"/>
<path d="M306.5 653.5 L311 656 Q312.8 657.5 311.6 659 L307 657 Q305.2 655.3 306.5 653.5 Z" fill="#555" stroke="#202020" stroke-width="1" stroke-linejoin="round"/>
<path d="M280 728 L280 731.5 L279.8 731.5 L280.2 732.2 L281.2 732.8 L282.7 733.2 L284.5 733.3 L286.3 733.2 L287.8 732.8 L288.8 732.2 L289.2 731.5 L289.2 731.5 L289.2 728" fill="#fff" stroke="#202020" stroke-width="1.38" stroke-linejoin="round"/>
<path d="M273.5 721 L273.5 724.5 L273.5 724.5 L273.8 725.4 L274.9 726.2 L276.5 726.9 L278.6 727.4 L281 727.8 L283.6 727.9 L286.2 727.8 L288.7 727.4 L290.7 726.9 L292.3 726.2 L293.4 725.4 L293.7 724.5 L293.7 724.5 L293.7 721" fill="#fff" stroke="#202020" stroke-width="1.38" stroke-linejoin="round"/>
<path d="M274.8 708.5 L274.8 720.5 L274.8 720.5 L275.1 721.3 L276 722 L277.4 722.6 L279.2 723.1 L281.3 723.4 L283.6 723.5 L285.9 723.4 L288 723.1 L289.8 722.6 L291.2 722 L292.1 721.3 L292.4 720.5 L292.4 720.5 L292.4 708.5" fill="#fff" stroke="#202020" stroke-width="1.38" stroke-linejoin="round"/>
<path d="M292.4 708.5 L292.1 709.3 L291.2 710.1 L289.8 710.8 L288 711.3 L285.9 711.6 L283.6 711.7 L281.3 711.6 L279.2 711.3 L277.4 710.8 L276 710.1 L275.1 709.3 L274.8 708.5 L292.4 708.5 L292.1 707.7 L291.2 706.9 L289.8 706.2 L288 705.7 L285.9 705.4 L283.6 705.3 L281.3 705.4 L279.2 705.7 L277.4 706.2 L276 706.9 L275.1 707.7 L274.8 708.5" fill="#fff" stroke="#202020" stroke-width="1.25" stroke-linejoin="round"/>
<path d="M278.1 685.5 L278.1 706.5 L278.2 706.8 L278.3 707.1 L278.5 707.4 L278.9 707.6 L279.3 707.9 L279.8 708.1 L280.4 708.3 L281.1 708.5 L281.7 708.6 L282.5 708.7 L283.2 708.8 L284 708.8 L284.8 708.8 L285.5 708.7 L286.3 708.6 L286.9 708.5 L287.6 708.3 L288.2 708.1 L288.7 707.9 L289.1 707.6 L289.5 707.4 L289.7 707.1 L289.8 706.8 L289.9 706.5 L289.9 685.5" fill="#fff" stroke="#202020" stroke-width="1.38" stroke-linejoin="round"/>
<ellipse cx="284" cy="685.5" rx="5.9" ry="2.3" fill="#fff" stroke="#202020" stroke-width="1.38"/>
<path d="M278.1 688 L278.5 688.8 L279.8 689.6 L281.7 690 L284 690.2 L286.3 690 L288.2 689.6 L289.5 688.8 L289.9 688" fill="none" stroke="#202020" stroke-width="1" stroke-linejoin="round"/>
<path d="M278.1 690.2 L278.5 691 L279.8 691.8 L281.7 692.2 L284 692.4 L286.3 692.2 L288.2 691.8 L289.5 691 L289.9 690.2" fill="none" stroke="#202020" stroke-width="1" stroke-linejoin="round"/>
<path d="M287.5 695 L287.5 703 L289.6 702.3" fill="none" stroke="#202020" stroke-width="1" stroke-linejoin="round"/>
<path d="M300 705 Q300 703.4 301.6 703.9 Q303.6 704.5 303.6 706.5 L303.6 711.6 Q303.6 713.3 302 712.8 Q300 712.2 300 710.2 Z" fill="#fff" stroke="#202020" stroke-width="1.25" stroke-linejoin="round"/>
<path d="M302 722.5 Q302 720.9 303.6 721.4 Q305.6 722 305.6 724 L305.6 729.6 Q305.6 731.3 304 730.8 Q302 730.2 302 728.2 Z" fill="#fff" stroke="#202020" stroke-width="1.25" stroke-linejoin="round"/>
<line x1="291" y1="699" x2="299.5" y2="706" stroke="#808080" stroke-width="0.9"/>
<line x1="293" y1="718" x2="301.5" y2="724.5" stroke="#808080" stroke-width="0.9"/>
<path d="M268.2 757 L268.2 764.6 L268.3 765.7 L268.7 766.7 L269.4 767.7 L270.3 768.7 L271.5 769.6 L272.9 770.4 L274.5 771.1 L276.2 771.7 L278.1 772.2 L280.1 772.5 L282.1 772.7 L284.2 772.8 L286.3 772.7 L288.3 772.5 L290.3 772.2 L292.2 771.7 L293.9 771.1 L295.5 770.4 L296.9 769.6 L298.1 768.7 L299 767.7 L299.7 766.7 L300.1 765.7 L300.2 764.6 L300.2 757" fill="#fff" stroke="#202020" stroke-width="1.38" stroke-linejoin="round"/>
<ellipse cx="284.2" cy="757" rx="16" ry="8.2" fill="#fff" stroke="#202020" stroke-width="1.38"/>
<ellipse cx="284.2" cy="757" rx="13.4" ry="6.9" fill="#fff" stroke="#202020" stroke-width="1.25"/>
<ellipse cx="295.5" cy="758" rx="1.9" ry="1.5" fill="#fff" stroke="#202020" stroke-width="1.12"/>
<ellipse cx="290.8" cy="761.8" rx="1.9" ry="1.5" fill="#fff" stroke="#202020" stroke-width="1.12"/>
<ellipse cx="282.2" cy="762.8" rx="1.9" ry="1.5" fill="#fff" stroke="#202020" stroke-width="1.12"/>
<ellipse cx="274.8" cy="760.4" rx="1.9" ry="1.5" fill="#fff" stroke="#202020" stroke-width="1.12"/>
<ellipse cx="272.9" cy="756" rx="1.9" ry="1.5" fill="#fff" stroke="#202020" stroke-width="1.12"/>
<ellipse cx="277.6" cy="752.2" rx="1.9" ry="1.5" fill="#fff" stroke="#202020" stroke-width="1.12"/>
<ellipse cx="286.2" cy="751.2" rx="1.9" ry="1.5" fill="#fff" stroke="#202020" stroke-width="1.12"/>
<ellipse cx="293.6" cy="753.6" rx="1.9" ry="1.5" fill="#fff" stroke="#202020" stroke-width="1.12"/>
<ellipse cx="284.2" cy="757" rx="9.6" ry="4.9" fill="#fff" stroke="#202020" stroke-width="1.25"/>
<ellipse cx="284.2" cy="757" rx="8" ry="4.1" fill="#fff" stroke="#202020" stroke-width="1.25"/>
<path d="M276.7 759 L277 758.6 L277.4 758.3 L277.9 757.9 L278.4 757.6 L279 757.3 L279.6 757.1 L280.3 756.8 L281 756.7 L281.8 756.5 L282.6 756.4 L283.4 756.3 L284.2 756.3 L285 756.3 L285.8 756.4 L286.6 756.5 L287.4 756.7 L288.1 756.8 L288.8 757.1 L289.4 757.3 L290 757.6 L290.5 757.9 L291 758.3 L291.4 758.6 L291.7 759" fill="none" stroke="#202020" stroke-width="1.12" stroke-linejoin="round"/>
<path d="M159.5 818.7 L159.3 817.4 L159.4 816 L159.7 814.6 L160.4 813.2 L161.3 811.9 L162.5 810.7 L164 809.5 L165.7 808.5 L167.6 807.5 L169.7 806.7 L171.9 806 L174.3 805.4 L176.8 804.9 L179.4 804.6 L182 804.5 L184.7 804.5 L187.3 804.7 L189.8 805 L192.3 805.5 L194.7 806.1 L196.9 806.9 L198.9 807.7 L200.8 808.7 L202.4 809.8 L203.8 811 L204.9 812.3 L205.8 813.6 L206.4 814.9 L206.7 816.3 L206.7 817.7 L206.4 819.1 L205.8 820.4 L204.9 821.8 L203.8 823 L202.4 824.2 L200.8 825.3 L198.9 826.3 L196.8 827.1 L194.6 827.9 L192.3 828.5 L189.8 829 L187.2 829.3 L184.6 829.5 L182 829.5 L179.3 829.4 L176.8 829.1 L174.3 828.6 L171.9 828" fill="none" stroke="#202020" stroke-width="1.25" stroke-linejoin="round"/>
<path d="M162.1 819.2 L161.7 818 L161.6 816.8 L161.8 815.6 L162.3 814.4 L163 813.3 L164 812.1 L165.2 811.1 L166.7 810.1 L168.4 809.3 L170.2 808.5 L172.3 807.8 L174.5 807.3 L176.8 806.9 L179.1 806.6 L181.6 806.4 L184 806.4 L186.4 806.5 L188.8 806.8 L191.1 807.2 L193.3 807.7 L195.4 808.4 L197.3 809.1 L199 810 L200.5 810.9 L201.8 811.9 L202.9 813 L203.6 814.2 L204.1 815.4 L204.4 816.6 L204.3 817.8 L204 819 L203.4 820.2 L202.6 821.3 L201.5 822.4 L200.1 823.4 L198.5 824.3 L196.7 825.1 L194.8 825.8 L192.7 826.5 L190.4 826.9 L188.1 827.3 L185.7 827.5 L183.3 827.6 L180.8 827.5 L178.4 827.4 L176.1 827 L173.8 826.6 L171.7 826" fill="none" stroke="#202020" stroke-width="1.25" stroke-linejoin="round"/>
<path d="M159.6 818.5 Q159.5 822.5 163 822.6 Q166.5 822.4 166.3 819.6 L162 818.3 Z" fill="#fff" stroke="#202020" stroke-width="1.25" stroke-linejoin="round"/>
<ellipse cx="163.5" cy="820.6" rx="1" ry="0.8" fill="#fff" stroke="#202020" stroke-width="0.88"/>
<path d="M172 828 Q170.5 824.6 174.5 824.8 Q178.5 825.3 178.4 828.4 L173.3 826.7 Z" fill="#fff" stroke="#202020" stroke-width="1.25" stroke-linejoin="round"/>
<ellipse cx="175.5" cy="826.3" rx="1" ry="0.8" fill="#fff" stroke="#202020" stroke-width="0.88"/>
<path d="M163 850.5 L163 852.3 L163.2 853.5 L163.6 854.8 L164.4 855.9 L165.5 857 L166.8 858.1 L168.4 859 L170.2 859.8 L172.2 860.5 L174.4 861.1 L176.7 861.5 L179.1 861.7 L181.5 861.8 L183.9 861.7 L186.3 861.5 L188.6 861.1 L190.8 860.5 L192.8 859.8 L194.6 859 L196.2 858.1 L197.5 857 L198.6 855.9 L199.4 854.8 L199.8 853.5 L200 852.3 L200 850.5" fill="#fff" stroke="#202020" stroke-width="1.38" stroke-linejoin="round"/>
<ellipse cx="181.5" cy="850.5" rx="18.5" ry="9.5" fill="#fff" stroke="#202020" stroke-width="1.38"/>
<ellipse cx="181.5" cy="850.7" rx="15.6" ry="7.6" fill="#fff" stroke="#202020" stroke-width="1.38"/>
<path d="M166.4 850.1 L167 849.3 L167.7 848.6 L168.5 847.9 L169.5 847.2 L170.7 846.7 L172 846.1 L173.4 845.7 L174.9 845.3 L176.5 845 L178.1 844.8 L179.8 844.6 L181.5 844.6 L183.2 844.6 L184.9 844.8 L186.5 845 L188.1 845.3 L189.6 845.7 L191 846.1 L192.3 846.7 L193.5 847.2 L194.5 847.9 L195.3 848.6 L196 849.3 L196.6 850.1" fill="none" stroke="#202020" stroke-width="1.12" stroke-linejoin="round"/>
<path d="M198.8 877 L198.7 877.7 L198.6 878.4 L201.5 879.1 L201.3 879.6 L201 880.2 L197.9 879.9 L197.6 880.3 L197.3 880.7 L197.3 880.7 L196.7 881.3 L196 881.9 L198.2 883.2 L197.6 883.6 L196.9 884.1 L194.2 883.1 L193.6 883.4 L193.1 883.7 L193.1 883.7 L192 884.1 L190.9 884.5 L192 886.3 L191.1 886.5 L190.1 886.8 L188.3 885.3 L187.6 885.4 L186.8 885.6 L186.8 885.6 L185.5 885.8 L184.2 885.9 L184 887.7 L182.9 887.8 L181.9 887.8 L181.2 886 L180.4 886 L179.7 886 L179.7 886 L178.3 885.8 L177 885.7 L175.5 887.3 L174.5 887.1 L173.5 886.9 L174.2 885.2 L173.5 885 L172.8 884.8 L172.8 884.8 L171.7 884.4 L170.6 884 L168.1 885.2 L167.3 884.8 L166.6 884.4 L168.4 882.9 L168 882.6 L167.5 882.3 L167.5 882.3 L166.7 881.7 L166.1 881.1 L163 881.6 L162.6 881 L162.2 880.5 L165 879.6 L164.8 879.3 L164.6 878.9 L164.6 878.9 L164.3 878.2 L164.2 877.5 L161.1 877.2 L161.1 876.6 L161.2 876.1 L164.3 875.9 L164.4 875.5 L164.6 875.1 L164.6 875.1 L164.9 874.4 L165.3 873.8 L162.7 872.8 L163.2 872.3 L163.7 871.8 L166.7 872.4 L167.1 872 L167.5 871.7 L167.5 871.7 L168.3 871.2 L169.3 870.6 L167.6 869.1 L168.4 868.7 L169.2 868.4 L171.6 869.6 L172.2 869.4 L172.8 869.2 L172.8 869.2 L174.1 868.9 L175.3 868.6 L174.9 866.8 L175.9 866.6 L176.9 866.5 L178.2 868.2 L178.9 868.1 L179.7 868 L179.7 868 L181 868 L182.4 868 L183.3 866.2 L184.3 866.3 L185.4 866.4 L185.4 868.2 L186.1 868.3 L186.8 868.4 L186.8 868.4 L188.1 868.7 L189.4 869 L191.4 867.6 L192.3 867.8 L193.2 868.2 L191.9 869.8 L192.5 870.1 L193.1 870.3 L193.1 870.3 L194 870.8 L194.9 871.3 L197.8 870.5 L198.4 871 L199 871.4 L196.6 872.6 L197 873 L197.3 873.3 L197.3 873.3 L197.8 874 L198.2 874.7 L201.4 874.6 L201.6 875.1 L201.7 875.7 L198.7 876.2 L198.8 876.6 L198.8 877 Z" fill="#fff" stroke="#202020" stroke-width="1.25" stroke-linejoin="round"/>
<ellipse cx="181.5" cy="877" rx="13.2" ry="6.6" fill="#fff" stroke="#202020" stroke-width="1.38"/>
<path d="M169.1 875.8 L169.6 875.2 L170.3 874.6 L171 874.1 L171.9 873.6 L172.9 873.2 L173.9 872.8 L175.1 872.4 L176.3 872.1 L177.5 871.9 L178.8 871.7 L180.2 871.6 L181.5 871.6 L182.8 871.6 L184.2 871.7 L185.5 871.9 L186.7 872.1 L187.9 872.4 L189.1 872.8 L190.1 873.2 L191.1 873.6 L192 874.1 L192.7 874.6 L193.4 875.2 L193.9 875.8" fill="none" stroke="#202020" stroke-width="1" stroke-linejoin="round"/>
<path d="M216.8 829 L216.8 848 L216.8 848 L217.2 848.6 L218.2 849 L219.6 849.2 L221 849 L222 848.6 L222.4 848 L222.4 848 L222.4 829" fill="#fff" stroke="#202020" stroke-width="1.38" stroke-linejoin="round"/>
<path d="M213.3 826.5 Q213.3 821.2 219.7 821.2 Q226.2 821.2 226.2 826.5 Q226.2 829.8 219.7 829.8 Q213.3 829.8 213.3 826.5 Z" fill="#fff" stroke="#202020" stroke-width="1.38" stroke-linejoin="round"/>
<path d="M226 825.5 L225.2 826.3 L223.8 827 L221.9 827.4 L219.7 827.6 L217.5 827.4 L215.6 827 L214.2 826.3 L213.4 825.5" fill="none" stroke="#202020" stroke-width="1" stroke-linejoin="round"/>
<ellipse cx="219.3" cy="859" rx="3.3" ry="1.6" fill="none" stroke="#202020" stroke-width="1.88"/>
<ellipse cx="219.3" cy="862" rx="3.3" ry="1.6" fill="none" stroke="#202020" stroke-width="1.88"/>
<ellipse cx="219.3" cy="865.1" rx="3.3" ry="1.6" fill="none" stroke="#202020" stroke-width="1.88"/>
<ellipse cx="219.3" cy="868.1" rx="3.3" ry="1.6" fill="none" stroke="#202020" stroke-width="1.88"/>
<ellipse cx="219.3" cy="871.2" rx="3.3" ry="1.6" fill="none" stroke="#202020" stroke-width="1.88"/>
<ellipse cx="219.3" cy="874.2" rx="3.3" ry="1.6" fill="none" stroke="#202020" stroke-width="1.88"/>
<ellipse cx="219.3" cy="877.3" rx="3.3" ry="1.6" fill="none" stroke="#202020" stroke-width="1.88"/>
<ellipse cx="219.3" cy="880.4" rx="3.3" ry="1.6" fill="none" stroke="#202020" stroke-width="1.88"/>
<ellipse cx="219.3" cy="883.4" rx="3.3" ry="1.6" fill="none" stroke="#202020" stroke-width="1.88"/>
<line x1="216" y1="858" x2="216" y2="884.5" stroke="#202020" stroke-width="1.25"/>
<line x1="222.6" y1="858" x2="222.6" y2="884.5" stroke="#202020" stroke-width="1.25"/>
<path d="M96 1040 Q97 1072 140 1087.5 Q200 1103 244 1087 Q262 1079 266.3 1066 L266.3 1040 Z" fill="#fff" stroke="#202020" stroke-width="1.38" stroke-linejoin="round"/>
<ellipse cx="128.8" cy="1079.3" rx="1.3" ry="1" fill="#fff" stroke="#202020" stroke-width="1.12"/>
<path d="M232.5 1078.8 L265.6 1061.5 L265.6 1074 L232.5 1091.3 Z" fill="#fff" stroke="#202020" stroke-width="1.38" stroke-linejoin="round"/>
<path d="M232.5 1078.8 L234 1077 L265 1060.5 L265.6 1061.5" fill="none" stroke="#202020" stroke-width="1.12" stroke-linejoin="round"/>
<ellipse cx="250.5" cy="1076" rx="3" ry="3.2" fill="#fff" stroke="#202020" stroke-width="1.25"/>
<ellipse cx="241.5" cy="1081.5" rx="1.2" ry="1.3" fill="#fff" stroke="#202020" stroke-width="1"/>
<ellipse cx="259.5" cy="1071" rx="1.2" ry="1.3" fill="#fff" stroke="#202020" stroke-width="1"/>
<path d="M56.6 1015.6 L56.6 1022.6 L181.6 1089.8 L265.6 1051 Q300 1033 318 1015 Q327 1006 326.6 999.6 L181.6 1083.6 Z" fill="#fff" stroke="#202020" stroke-width="1.38" stroke-linejoin="round"/>
<line x1="181.6" y1="1083.6" x2="181.6" y2="1089.8" stroke="#202020" stroke-width="1.38"/>
<path d="M56.6 1015.6 L217 938.5 Q220.5 936.8 224 938.5 L316 981.5 Q327 988 326.6 999.6 Q325 1010 312 1018 Q292 1031 265.6 1045.2 L181.6 1083.6 Z" fill="#fff" stroke="#202020" stroke-width="1.38" stroke-linejoin="round"/>
<ellipse cx="142" cy="977.3" rx="2.8" ry="1.7" fill="#fff" stroke="#202020" stroke-width="1.25"/>
<ellipse cx="219.3" cy="944.4" rx="2.8" ry="1.7" fill="#fff" stroke="#202020" stroke-width="1.25"/>
<ellipse cx="314" cy="994.8" rx="2.8" ry="1.7" fill="#fff" stroke="#202020" stroke-width="1.25"/>
<ellipse cx="87.4" cy="1019.8" rx="2.8" ry="1.7" fill="#fff" stroke="#202020" stroke-width="1.25"/>
<ellipse cx="173.2" cy="1065.6" rx="2.8" ry="1.7" fill="#fff" stroke="#202020" stroke-width="1.25"/>
<ellipse cx="252.4" cy="1036" rx="2.8" ry="1.7" fill="#fff" stroke="#202020" stroke-width="1.25"/>
<path d="M145.6 973.2 L205.6 944.9 L209.2 949.2 Q213 951.5 220 950.4 L225.3 967.9 Q196 967 148 977.3 Z" fill="#fff" stroke="#202020" stroke-width="1.25" stroke-linejoin="round"/>
<path d="M150.5 974.2 L205 948.3" fill="none" stroke="#202020" stroke-width="1" stroke-linejoin="round"/>
<path d="M227.2 948 L265.6 967.2 L253.6 972 Q243 969 234.4 969.6 Z" fill="#fff" stroke="#202020" stroke-width="1.25" stroke-linejoin="round"/>
<path d="M230 951.8 L236.5 968.5" fill="none" stroke="#202020" stroke-width="1" stroke-linejoin="round"/>
<path d="M271.6 970.8 L308.8 988.8 L270.4 986.4 Q268 980 263.2 975.6 Z" fill="#fff" stroke="#202020" stroke-width="1.25" stroke-linejoin="round"/>
<path d="M272.8 993.6 L308.8 996 Q321 996.5 319.6 1001 Q319 1006 313 1010.5 Q295 1022 263.2 1035.6 L258.4 1033.2 L256 1026 Q259 1016 262 1007 Q266 998 272.8 993.6 Z" fill="#fff" stroke="#202020" stroke-width="1.25" stroke-linejoin="round"/>
<path d="M275 996.8 Q268 1003 264 1013 L260 1028" fill="none" stroke="#202020" stroke-width="1" stroke-linejoin="round"/>
<ellipse cx="181.6" cy="1013.6" rx="66.7" ry="37.8" fill="#fff" stroke="#202020" stroke-width="1.38"/>
<path d="M248.9 994.4 L251 996.9 L252.8 999.6 L254.3 1002.3 L255.5 1005.1 L256.3 1007.9 L256.9 1010.7 L257.1 1013.5 L257 1016.4 L256.6 1019.2 L255.8 1022 L254.8 1024.8 L253.4 1027.5 L251.7 1030.2 L249.7 1032.8 L247.5 1035.4 L244.9 1037.8" fill="none" stroke="#202020" stroke-width="1.25" stroke-linejoin="round"/>
<path d="M231.8 1032.2 L231.3 1033.8 L230.3 1035.4 L229.1 1037 L227.5 1038.5 L225.5 1040 L223.3 1041.4 L220.7 1042.7 L217.9 1044 L214.7 1045.1 L211.4 1046.1 L207.8 1047.1 L204.1 1047.9 L200.2 1048.5 L196.1 1049.1 L192 1049.5 L187.7 1049.8 L183.5 1049.9 L179.2 1049.9 L174.9 1049.7 L170.7 1049.4 L166.5 1049 L162.5 1048.5 L158.6 1047.8 L154.9 1047 L151.4 1046 L148 1045 L145 1043.8 L142.2 1042.6 L139.6 1041.2 L137.4 1039.8 L135.5 1038.4 L133.9 1036.8 L132.7 1035.2 L131.9 1033.6 L131.3 1032 L131.2 1030.3 L131.4 1028.7 L132 1027 L132.9 1025.4 L134.2 1023.9" fill="none" stroke="#202020" stroke-width="1.25" stroke-linejoin="round"/>
<path d="M128.6 1037.6 L126.6 1035.6 L124.9 1033.5 L123.6 1031.4 L122.6 1029.2 L121.9 1027 L121.6 1024.8 L121.7 1022.5 L122.1 1020.3 L122.9 1018.1 L124 1015.9 L125.4 1013.8 L127.2 1011.7" fill="none" stroke="#202020" stroke-width="1.25" stroke-linejoin="round"/>
<path d="M216.4 1022.3 L217.9 1023.7 L218.9 1025 L219.6 1026.5 L220 1027.9 L219.9 1029.3 L219.5 1030.8 L218.6 1032.2 L217.4 1033.6 L215.9 1034.9 L214 1036.1 L211.8 1037.3 L209.2 1038.4 L206.4 1039.4 L203.3 1040.3 L200.1 1041 L196.6 1041.7 L193 1042.2 L189.3 1042.5 L185.4 1042.7 L181.6 1042.8 L177.8 1042.7 L173.9 1042.5 L170.2 1042.2 L166.6 1041.7 L163.1 1041 L159.9 1040.3 L156.8 1039.4 L154 1038.4 L151.4 1037.3 L149.2 1036.1 L147.3 1034.9 L145.8 1033.6 L144.6 1032.2 L143.7 1030.8 L143.3 1029.3 L143.2 1027.9 L143.6 1026.5 L144.3 1025 L145.3 1023.7 L146.8 1022.3" fill="none" stroke="#202020" stroke-width="1.25" stroke-linejoin="round"/>
<path d="M146.8 1022.3 L148.1 1021.3 L149.6 1020.4 L151.3 1019.5 L153.2 1018.7 L155.2 1017.9 L157.4 1017.2 L159.8 1016.6 L162.2 1016 L164.8 1015.5 L167.4 1015 L170.2 1014.7 L173 1014.4 L175.8 1014.2 L178.7 1014 L181.6 1014 L184.5 1014 L187.4 1014.2 L190.2 1014.4 L193 1014.7 L195.8 1015 L198.4 1015.5 L201 1016 L203.4 1016.6 L205.8 1017.2 L208 1017.9 L210 1018.7 L211.9 1019.5 L213.6 1020.4 L215.1 1021.3 L216.4 1022.3" fill="none" stroke="#202020" stroke-width="1.25" stroke-linejoin="round"/>
<path d="M149.3 1031.1 L149.8 1030.1 L150.5 1029 L151.6 1028.1 L152.9 1027.1 L154.5 1026.2 L156.4 1025.4 L158.6 1024.6 L160.9 1023.9 L163.5 1023.3 L166.2 1022.8 L169.1 1022.3 L172.1 1022 L175.2 1021.7 L178.4 1021.6 L181.6 1021.5 L184.8 1021.6 L188 1021.7 L191.1 1022 L194.1 1022.3 L197 1022.8 L199.7 1023.3 L202.3 1023.9 L204.6 1024.6 L206.8 1025.4 L208.7 1026.2 L210.3 1027.1 L211.6 1028.1 L212.7 1029 L213.4 1030.1 L213.9 1031.1" fill="none" stroke="#202020" stroke-width="1.25" stroke-linejoin="round"/>
<path d="M142.6 1018.8 L144.1 1017.7 L145.8 1016.6 L147.7 1015.5 L149.8 1014.6 L152.1 1013.6 L154.5 1012.8 L157.1 1012 L159.9 1011.3 L162.8 1010.7 L165.7 1010.2 L168.8 1009.8 L171.9 1009.4 L175.1 1009.2 L178.4 1009 L181.6 1009 L184.8 1009 L188.1 1009.2 L191.3 1009.4 L194.4 1009.8 L197.5 1010.2 L200.4 1010.7 L203.3 1011.3 L206.1 1012 L208.7 1012.8 L211.1 1013.6 L213.4 1014.6 L215.5 1015.5 L217.4 1016.6 L219.1 1017.7 L220.6 1018.8" fill="none" stroke="#202020" stroke-width="1.25" stroke-linejoin="round"/>
<path d="M145.6 1022.4 L151.6 1028.4" fill="none" stroke="#202020" stroke-width="1.25" stroke-linejoin="round"/>
<path d="M212.8 1022.4 L208 1028.4" fill="none" stroke="#202020" stroke-width="1.25" stroke-linejoin="round"/>
<path d="M147.5 1021 L144.5 1026" fill="none" stroke="#202020" stroke-width="1.12" stroke-linejoin="round"/>
<path d="M211 1020.8 L214.5 1026" fill="none" stroke="#202020" stroke-width="1.12" stroke-linejoin="round"/>
<ellipse cx="237" cy="988.6" rx="25.2" ry="13.5" fill="#fff" stroke="none" stroke-width="1.1"/>
<path d="M206.8 988.2 L206.8 986.7 L207.1 985.2 L207.6 983.7 L208.3 982.2 L209.3 980.8 L210.5 979.4 L211.8 978.1 L213.4 976.9 L215.2 975.7 L217.1 974.7 L219.2 973.7 L221.5 972.8 L223.8 972.1 L226.3 971.5 L228.9 971 L231.5 970.6 L234.2 970.3 L236.9 970.2 L239.6 970.2 L242.3 970.4 L245 970.6 L247.6 971.1 L250.2 971.6 L252.6 972.2 L255 973 L257.2 973.9 L259.3 974.9 L261.2 976 L262.9 977.1 L264.5 978.4 L265.8 979.7 L266.9 981.1 L267.8 982.5 L268.5 984 L269 985.5 L269.2 987 L269.2 988.5 L268.9 990 L268.4 991.5 L267.7 993 L266.7 994.4 L265.5 995.8 L264.2 997.1 L262.6 998.3 L258.4 994.3 L259.4 993.3 L260.3 992.4 L261 991.4 L261.6 990.3 L262 989.3 L262.2 988.2 L262.2 987.2 L262 986.1 L261.7 985 L261.1 984 L260.4 983 L259.6 982 L258.5 981.1 L257.4 980.2 L256 979.3 L254.6 978.6 L253 977.9 L251.3 977.2 L249.4 976.6 L247.5 976.2 L245.6 975.7 L243.5 975.4 L241.4 975.2 L239.3 975.1 L237.2 975 L235 975 L232.9 975.2 L230.8 975.4 L228.8 975.7 L226.8 976.1 L224.9 976.6 L223 977.1 L221.3 977.7 L219.7 978.4 L218.2 979.2 L216.9 980 L215.6 980.9 L214.6 981.8 L213.7 982.8 L213 983.8 L212.4 984.9 L212 985.9 L211.8 987 L211.8 988 Z" fill="#fff" stroke="#202020" stroke-width="1.25" stroke-linejoin="round"/>
<path d="M213.6 987.1 L214.3 986.1 L215.2 985.2 L216.2 984.4 L217.4 983.5 L218.7 982.8 L220.2 982.1 L221.7 981.4 L223.4 980.8 L225.1 980.3 L227 979.8 L228.9 979.5 L230.9 979.2 L232.9 979 L234.9 978.8 L237 978.8 L239.1 978.8 L241.1 979 L243.1 979.2 L245.1 979.5 L247 979.8 L248.9 980.3 L250.6 980.8 L252.3 981.4 L253.8 982.1 L255.3 982.8 L256.6 983.5 L257.8 984.4 L258.8 985.2 L259.7 986.1 L260.4 987.1" fill="none" stroke="#202020" stroke-width="1.12" stroke-linejoin="round"/>
<path d="M268.4 994 L268.4 1006 L264 1012" fill="none" stroke="#202020" stroke-width="1.25" stroke-linejoin="round"/>
<line x1="235.6" y1="978.2" x2="235.6" y2="996.5" stroke="#202020" stroke-width="1.25"/>
<line x1="244" y1="977.6" x2="244" y2="996.5" stroke="#202020" stroke-width="1.25"/>
<line x1="253.6" y1="981" x2="253.6" y2="992.5" stroke="#202020" stroke-width="1.25"/>
<path d="M244 983 L250 983.5 L253.6 986" fill="none" stroke="#202020" stroke-width="1.12" stroke-linejoin="round"/>
<path d="M215.1 1006.8 L215.1 1016 L215.2 1017.1 L215.7 1018.2 L216.3 1019.2 L217.3 1020.2 L218.5 1021.1 L219.9 1021.9 L221.5 1022.7 L223.3 1023.3 L225.2 1023.8 L227.3 1024.1 L229.4 1024.3 L231.5 1024.4 L233.6 1024.3 L235.7 1024.1 L237.8 1023.8 L239.7 1023.3 L241.5 1022.7 L243.1 1021.9 L244.5 1021.1 L245.7 1020.2 L246.7 1019.2 L247.3 1018.2 L247.8 1017.1 L247.9 1016 L247.9 1006.8" fill="#fff" stroke="#202020" stroke-width="1.38" stroke-linejoin="round"/>
<ellipse cx="231.5" cy="1006.8" rx="16.4" ry="8.4" fill="#fff" stroke="#202020" stroke-width="1.38"/>
<ellipse cx="231.5" cy="1006.8" rx="9.6" ry="5" fill="#fff" stroke="#202020" stroke-width="1.38"/>
<path d="M222.5 1007.6 L222.9 1007.2 L223.3 1006.8 L223.9 1006.4 L224.5 1006 L225.2 1005.7 L226 1005.4 L226.8 1005.2 L227.7 1005 L228.6 1004.8 L229.6 1004.7 L230.5 1004.6 L231.5 1004.6 L232.5 1004.6 L233.4 1004.7 L234.4 1004.8 L235.3 1005 L236.2 1005.2 L237 1005.4 L237.8 1005.7 L238.5 1006 L239.1 1006.4 L239.7 1006.8 L240.1 1007.2 L240.5 1007.6" fill="none" stroke="#202020" stroke-width="1.12" stroke-linejoin="round"/>
<line x1="241" y1="1010" x2="241" y2="1020.5" stroke="#202020" stroke-width="1.12"/>
<ellipse cx="200.8" cy="1009.2" rx="2.2" ry="1.4" fill="#fff" stroke="#202020" stroke-width="1.12"/>
<ellipse cx="215.7" cy="980.4" rx="2.2" ry="1.4" fill="#fff" stroke="#202020" stroke-width="1.12"/>
<ellipse cx="250" cy="980.4" rx="2.2" ry="1.4" fill="#fff" stroke="#202020" stroke-width="1.12"/>
<path d="M84.3 1099 L84.3 1109 L90.6 1109 L90.6 1099" fill="#fff" stroke="#202020" stroke-width="1.38" stroke-linejoin="round"/>
<ellipse cx="87.5" cy="1099" rx="3.1" ry="1.3" fill="#fff" stroke="#202020" stroke-width="1.25"/>
<path d="M84.4 1101.5 L84.8 1102.1 L86 1102.5 L87.5 1102.7 L89 1102.5 L90.2 1102.1 L90.6 1101.5" fill="none" stroke="#202020" stroke-width="1" stroke-linejoin="round"/>
<path d="M84.4 1103.9 L84.8 1104.5 L86 1104.9 L87.5 1105.1 L89 1104.9 L90.2 1104.5 L90.6 1103.9" fill="none" stroke="#202020" stroke-width="1" stroke-linejoin="round"/>
<path d="M84.4 1106.3 L84.8 1106.9 L86 1107.3 L87.5 1107.5 L89 1107.3 L90.2 1106.9 L90.6 1106.3" fill="none" stroke="#202020" stroke-width="1" stroke-linejoin="round"/>
<path d="M81.8 1110 L84 1108.3 L91 1108.3 L93 1110 L93 1115 L90.5 1117.5 L84.3 1117.5 L81.8 1115 Z" fill="#fff" stroke="#202020" stroke-width="1.38" stroke-linejoin="round"/>
<line x1="84.3" y1="1111.5" x2="84.3" y2="1117.5" stroke="#202020" stroke-width="1.12"/>
<line x1="90.5" y1="1111.5" x2="90.5" y2="1117.5" stroke="#202020" stroke-width="1.12"/>
<path d="M81.8 1110 L84.3 1111.5 L90.5 1111.5 L93 1110" fill="none" stroke="#202020" stroke-width="1.12" stroke-linejoin="round"/>
<path d="M199 1109 L199 1151 L199 1151 L199.5 1151.7 L200.7 1152.2 L202.4 1152.4 L204.1 1152.2 L205.3 1151.7 L205.8 1151 L205.8 1151 L205.8 1109" fill="#fff" stroke="#202020" stroke-width="1.38" stroke-linejoin="round"/>
<ellipse cx="202.4" cy="1109" rx="3.4" ry="1.5" fill="#fff" stroke="#202020" stroke-width="1.25"/>
<path d="M199 1111.5 L199.5 1112.2 L200.7 1112.6 L202.4 1112.8 L204.1 1112.6 L205.3 1112.2 L205.8 1111.5" fill="none" stroke="#202020" stroke-width="1.25" stroke-linejoin="round"/>
<path d="M199 1113.8 L199.5 1114.5 L200.7 1114.9 L202.4 1115.1 L204.1 1114.9 L205.3 1114.5 L205.8 1113.8" fill="none" stroke="#202020" stroke-width="1.25" stroke-linejoin="round"/>
<path d="M199 1116.1 L199.5 1116.8 L200.7 1117.2 L202.4 1117.4 L204.1 1117.2 L205.3 1116.8 L205.8 1116.1" fill="none" stroke="#202020" stroke-width="1.25" stroke-linejoin="round"/>
<path d="M199 1118.4 L199.5 1119.1 L200.7 1119.5 L202.4 1119.7 L204.1 1119.5 L205.3 1119.1 L205.8 1118.4" fill="none" stroke="#202020" stroke-width="1.25" stroke-linejoin="round"/>
<path d="M199 1143.5 L199.5 1144.2 L200.7 1144.6 L202.4 1144.8 L204.1 1144.6 L205.3 1144.2 L205.8 1143.5" fill="none" stroke="#202020" stroke-width="1.25" stroke-linejoin="round"/>
<path d="M199 1145.8 L199.5 1146.5 L200.7 1146.9 L202.4 1147.1 L204.1 1146.9 L205.3 1146.5 L205.8 1145.8" fill="none" stroke="#202020" stroke-width="1.25" stroke-linejoin="round"/>
<path d="M199 1148.1 L199.5 1148.8 L200.7 1149.2 L202.4 1149.4 L204.1 1149.2 L205.3 1148.8 L205.8 1148.1" fill="none" stroke="#202020" stroke-width="1.25" stroke-linejoin="round"/>
<path d="M199 1150.4 L199.5 1151.1 L200.7 1151.5 L202.4 1151.7 L204.1 1151.5 L205.3 1151.1 L205.8 1150.4" fill="none" stroke="#202020" stroke-width="1.25" stroke-linejoin="round"/>
<path d="M196.6 1171.5 L196.6 1173 L196.7 1173.5 L196.8 1174 L197.1 1174.5 L197.5 1174.9 L197.9 1175.3 L198.5 1175.7 L199.1 1176 L199.8 1176.3 L200.6 1176.5 L201.3 1176.7 L202.2 1176.8 L203 1176.8 L203.8 1176.8 L204.7 1176.7 L205.4 1176.5 L206.2 1176.3 L206.9 1176 L207.5 1175.7 L208.1 1175.3 L208.5 1174.9 L208.9 1174.5 L209.2 1174 L209.3 1173.5 L209.4 1173 L209.4 1171.5" fill="#fff" stroke="#202020" stroke-width="1.38" stroke-linejoin="round"/>
<ellipse cx="203" cy="1171.5" rx="6.4" ry="3.8" fill="#fff" stroke="#202020" stroke-width="1.38"/>
<ellipse cx="203" cy="1171.5" rx="3.6" ry="2" fill="#fff" stroke="#202020" stroke-width="1.25"/>
<path d="M194.3 1195.5 L198 1192.3 L206.5 1192 L211.8 1194.8 L211.8 1201.5 L208 1205.5 L199.5 1205.8 L194.3 1202.5 Z" fill="#fff" stroke="#202020" stroke-width="1.38" stroke-linejoin="round"/>
<path d="M194.3 1195.5 L199.5 1198.8 L208 1198.5 L211.8 1194.8" fill="none" stroke="#202020" stroke-width="1.25" stroke-linejoin="round"/>
<line x1="199.5" y1="1198.8" x2="199.5" y2="1205.8" stroke="#202020" stroke-width="1.25"/>
<line x1="208" y1="1198.5" x2="208" y2="1205.5" stroke="#202020" stroke-width="1.25"/>
<ellipse cx="203" cy="1195.3" rx="4.6" ry="2.5" fill="#fff" stroke="#202020" stroke-width="1.25"/>
<ellipse cx="203.2" cy="1195.6" rx="2.9" ry="1.5" fill="#fff" stroke="#202020" stroke-width="1"/>
<path d="M244.3 1117 L263 1107.6 L263 1127.6 L244.3 1137 Z" fill="#fff" stroke="#202020" stroke-width="1.25" stroke-linejoin="round"/>
<line x1="247.1" y1="1119.6" x2="261.1" y2="1112.5" stroke="#333" stroke-width="1.5"/>
<line x1="247.1" y1="1121.9" x2="258.3" y2="1116.2" stroke="#333" stroke-width="1.5"/>
<line x1="247.1" y1="1124.2" x2="260.2" y2="1117.6" stroke="#333" stroke-width="1.5"/>
<line x1="247.1" y1="1126.5" x2="255.5" y2="1122.3" stroke="#333" stroke-width="1.5"/>
<line x1="247.1" y1="1128.8" x2="257.4" y2="1123.6" stroke="#333" stroke-width="1.5"/>
<line x1="249.9" y1="1129.7" x2="254.6" y2="1127.3" stroke="#333" stroke-width="1.5"/>
<path d="M247.5 1130 L254 1124 L260 1124.5 L257 1130 L250 1133 Z" fill="#333" stroke="#202020" stroke-width="0.62" stroke-linejoin="round"/>
<path d="M670 304.6 L670.5 312 Q676 330 700 345 L745 372.4 L636.25 510.5 L754.8 446.4 Q770 440 794 420 Q816 404 829 387.5 Q840 372 841.8 357.6 L842.5 304.6 Z" fill="#fff" stroke="none" stroke-width="1.1" stroke-linejoin="round"/>
<path d="M636.25 510.5 L633.2 428 L741 370.4 L746 372.2 L758 372 L816 341 L754.8 446.4 Z" fill="#fff" stroke="none" stroke-width="1.1" stroke-linejoin="round"/>
<line x1="636.2" y1="510.5" x2="633.2" y2="428" stroke="#202020" stroke-width="1.38"/>
<line x1="633.2" y1="428" x2="741" y2="370.4" stroke="#202020" stroke-width="1.38"/>
<path d="M741 370.4 L746 372.2 L758 372 L816.4 340.8" fill="none" stroke="#202020" stroke-width="1.38" stroke-linejoin="round"/>
<path d="M636.25 510.5 L687.6 482.4 L690 478.5 L690 468 Q690 465 693 464.8 Q696.3 464.6 696.3 467 L696.3 477.6 L754.8 446.4" fill="none" stroke="#202020" stroke-width="1.38" stroke-linejoin="round"/>
<path d="M842.5 304.6 L841.8 357.6 Q841 366 832.4 377.6 Q824 386 806.8 395.2 Q786 405 778 411.2 Q766 422 754.8 446.4" fill="none" stroke="#202020" stroke-width="1.38" stroke-linejoin="round"/>
<path d="M832.4 377.6 Q828 392 816.4 403.2 Q800 417 778 428.8 L759.5 438.2" fill="none" stroke="#202020" stroke-width="1.38" stroke-linejoin="round"/>
<path d="M510 363 Q508 400 509.5 443.75 L636.25 510.5 L633.2 428 Q630 415 618 406 L527.5 358.25 Z" fill="#fff" stroke="#202020" stroke-width="1.38" stroke-linejoin="round"/>
<path d="M510 363 L527.5 358.25 L623 307.6 L620 309.2 L515 362.3 Z" fill="#fff" stroke="#202020" stroke-width="1.25" stroke-linejoin="round"/>
<path d="M527.5 358.25 L623 307.6 L741 370.4 L633.2 428 Q630 415 618 406 Z" fill="#fff" stroke="#202020" stroke-width="1.38" stroke-linejoin="round"/>
<line x1="618" y1="406" x2="711" y2="355.6" stroke="#202020" stroke-width="1.38"/>
<line x1="633" y1="311" x2="672" y2="290.5" stroke="#202020" stroke-width="1.38"/>
<path d="M542.5 416.3 L601.3 450 L601.3 480 L542.5 447 Z" fill="#fff" stroke="#202020" stroke-width="1.38" stroke-linejoin="round"/>
<path d="M546.5 418.6 L546.5 445.5 L601.3 476.5" fill="none" stroke="#202020" stroke-width="1.25" stroke-linejoin="round"/>
<line x1="542.5" y1="447" x2="546.5" y2="445.5" stroke="#202020" stroke-width="1.12"/>
<path d="M680.5 426.3 L720.6 405.6 L720.6 432.8 L680.5 453.8 Z" fill="#fff" stroke="#202020" stroke-width="1.38" stroke-linejoin="round"/>
<path d="M680.5 450.6 L718.2 431 L718.2 406.8" fill="none" stroke="#202020" stroke-width="1.25" stroke-linejoin="round"/>
<line x1="718.2" y1="431" x2="720.6" y2="432.8" stroke="#202020" stroke-width="1.12"/>
<path d="M734.3 397.3 L774.4 376.6 L774.4 403.8 L734.3 424.8 Z" fill="#fff" stroke="#202020" stroke-width="1.38" stroke-linejoin="round"/>
<path d="M734.3 421.6 L772 402 L772 377.8" fill="none" stroke="#202020" stroke-width="1.25" stroke-linejoin="round"/>
<line x1="772" y1="402" x2="774.4" y2="403.8" stroke="#202020" stroke-width="1.12"/>
<ellipse cx="678" cy="426.3" rx="1.1" ry="1.1" fill="#fff" stroke="#202020" stroke-width="1.12"/>
<ellipse cx="678" cy="456.3" rx="1.1" ry="1.1" fill="#fff" stroke="#202020" stroke-width="1.12"/>
<ellipse cx="776.8" cy="374.3" rx="1.1" ry="1.1" fill="#fff" stroke="#202020" stroke-width="1.12"/>
<ellipse cx="777.5" cy="403.8" rx="1.1" ry="1.1" fill="#fff" stroke="#202020" stroke-width="1.12"/>
<path d="M594.1 347.5 L594.1 349.3 L594.5 352.3 L595.6 355.3 L597.5 358.1 L600.1 360.8 L603.3 363.3 L607.1 365.6 L611.5 367.5 L616.4 369.2 L621.6 370.5 L627.1 371.5 L632.8 372.1 L638.6 372.3 L644.4 372.1 L650.1 371.5 L655.6 370.5 L660.9 369.2 L665.7 367.5 L670.1 365.6 L673.9 363.3 L677.1 360.8 L679.7 358.1 L681.6 355.3 L682.7 352.3 L683.1 349.3 L683.1 347.5" fill="#fff" stroke="#202020" stroke-width="1.38" stroke-linejoin="round"/>
<ellipse cx="638.6" cy="347.5" rx="44.5" ry="23" fill="#fff" stroke="#202020" stroke-width="1.38"/>
<ellipse cx="638.3" cy="348.6" rx="26.7" ry="13.8" fill="#fff" stroke="#202020" stroke-width="1.38"/>
<path d="M612.5 348.1 L613.4 346.7 L614.6 345.4 L616.1 344.2 L617.8 343 L619.8 342 L622 341 L624.4 340.2 L627 339.5 L629.7 339 L632.5 338.6 L635.4 338.4 L638.3 338.3 L641.2 338.4 L644.1 338.6 L646.9 339 L649.6 339.5 L652.2 340.2 L654.6 341 L656.8 342 L658.8 343 L660.5 344.2 L662 345.4 L663.2 346.7 L664.1 348.1" fill="none" stroke="#202020" stroke-width="1.25" stroke-linejoin="round"/>
<ellipse cx="607" cy="344.3" rx="2.2" ry="1.4" fill="#fff" stroke="#202020" stroke-width="1.12"/>
<ellipse cx="661.3" cy="336.8" rx="2.2" ry="1.4" fill="#fff" stroke="#202020" stroke-width="1.12"/>
<ellipse cx="647" cy="365.6" rx="2.2" ry="1.4" fill="#fff" stroke="#202020" stroke-width="1.12"/>
<path d="M670.1 304.6 L670.1 309.1 L670.8 315.1 L673 321 L676.7 326.7 L681.6 332.1 L687.9 337 L695.3 341.6 L703.8 345.5 L713.2 348.9 L723.3 351.5 L734 353.4 L745 354.6 L756.3 355 L767.6 354.6 L778.6 353.4 L789.3 351.5 L799.4 348.9 L808.8 345.5 L817.3 341.6 L824.7 337 L831 332.1 L835.9 326.7 L839.6 321 L841.8 315.1 L842.5 309.1 L842.5 304.6" fill="#fff" stroke="#202020" stroke-width="1.38" stroke-linejoin="round"/>
<ellipse cx="756.3" cy="304.6" rx="86.2" ry="45.9" fill="#fff" stroke="#202020" stroke-width="1.38"/>
<path d="M842.5 309.1 L842.2 312.7 L841.4 316.3 L840.1 319.8 L838.3 323.3 L835.9 326.7 L833.1 329.9 L829.8 333.1 L826 336.1 L821.8 338.9 L817.3 341.6 L812.3 344 L807 346.2 L801.3 348.2 L795.4 350 L789.3 351.5 L782.9 352.8 L776.4 353.7 L769.8 354.4 L763.1 354.9 L756.3 355 L749.5 354.9 L742.8 354.4 L736.2 353.7 L729.7 352.8 L723.3 351.5 L717.2 350 L711.3 348.2 L705.6 346.2 L700.3 344 L695.3 341.6 L690.8 338.9 L686.6 336.1 L682.8 333.1 L679.5 329.9 L676.7 326.7 L674.3 323.3 L672.5 319.8 L671.2 316.3 L670.4 312.7 L670.1 309.1" fill="#fff" stroke="#202020" stroke-width="1.38" stroke-linejoin="round"/>
<ellipse cx="756.3" cy="304.6" rx="86.2" ry="45.9" fill="#fff" stroke="#202020" stroke-width="1.38"/>
<ellipse cx="756.6" cy="305" rx="65.9" ry="33.8" fill="#fff" stroke="#202020" stroke-width="1.38"/>
<path d="M692.2 306.8 L692.6 304.3 L693.4 301.8 L694.6 299.4 L696.1 297 L698 294.7 L700.2 292.5 L702.8 290.3 L705.6 288.3 L708.8 286.4 L712.2 284.6 L715.9 282.9 L719.8 281.4 L723.9 280.1 L728.2 278.9 L732.7 277.8 L737.3 277 L742 276.4 L746.8 275.9 L751.7 275.6 L756.6 275.5 L761.5 275.6 L766.4 275.9 L771.2 276.4 L775.9 277 L780.5 277.8 L785 278.9 L789.3 280.1 L793.4 281.4 L797.3 282.9 L801 284.6 L804.4 286.4 L807.6 288.3 L810.4 290.3 L813 292.5 L815.2 294.7 L817.1 297 L818.6 299.4 L819.8 301.8 L820.6 304.3 L821 306.8" fill="none" stroke="#202020" stroke-width="1.25" stroke-linejoin="round"/>
<ellipse cx="681.3" cy="304.3" rx="2.4" ry="1.5" fill="#fff" stroke="#202020" stroke-width="1.12"/>
<ellipse cx="830.5" cy="304.3" rx="2.4" ry="1.5" fill="#fff" stroke="#202020" stroke-width="1.12"/>
<ellipse cx="756.3" cy="343.8" rx="2.4" ry="1.5" fill="#fff" stroke="#202020" stroke-width="1.12"/>
<path d="M670 330.5 L686 321.5 Q692 319 699 322.5 Q703.5 325.5 703.5 330 L703.5 338 L694 344 L684.5 338.5 Z" fill="#fff" stroke="#202020" stroke-width="1.38" stroke-linejoin="round"/>
<path d="M670 330.5 L684.5 338.5 L694 333.5 Q703 329.5 703.5 330" fill="none" stroke="#202020" stroke-width="1.25" stroke-linejoin="round"/>
<line x1="694" y1="333.5" x2="694" y2="344" stroke="#202020" stroke-width="1.25"/>
<ellipse cx="692.6" cy="326" rx="2.8" ry="1.7" fill="#fff" stroke="#202020" stroke-width="1.25"/>
<path d="M744.8 236 L744.8 281.5 L744.8 281.5 L745 282.4 L745.7 283.3 L746.7 284.2 L748.1 284.9 L749.8 285.5 L751.7 285.9 L753.8 286.2 L756 286.3 L758.2 286.2 L760.3 285.9 L762.2 285.5 L763.9 284.9 L765.3 284.2 L766.3 283.3 L767 282.4 L767.2 281.5 L767.2 281.5 L767.2 236" fill="#fff" stroke="#202020" stroke-width="1.38" stroke-linejoin="round"/>
<path d="M728 244.8 L729.8 242.4 L735.2 243.1 L740.7 243.6 L746.3 243.9 L751.9 244.2 L757.5 244.2 L763.2 244.1 L768.8 243.8 L774.3 243.4 L779.8 242.8 L785.2 242.1 L790.4 241.2 L795.5 240.2 L800.4 239 L805.2 237.7 L809.7 236.3 L814 234.7 L818.1 233.1 L821.8 231.3 L825.3 229.4 L828.5 227.4 L831.4 225.4 L834 223.3 L836.2 221.1 L838.1 218.8 L839.7 216.5 L840.8 214.1 L841.7 211.8 L842.1 209.4 L842.2 207 L841.9 204.6 L841.2 202.2 L840.2 199.9 L838.8 197.5 L837.1 195.3 L835 193 L832.5 190.9 L829.8 188.8 L826.7 186.8 L823.3 184.9 L819.6 183 L815.7 181.3 L811.5 179.7 L807 178.3 L802.4 176.9 L797.5 175.7 L792.5 174.6 L787.3 173.7 L782 172.9 L776.6 172.2 L771 171.7 L765.4 171.4 L759.8 171.2 L754.2 171.2 L748.6 171.3 L743 171.6 L737.4 172.1 L732 172.7 L726.6 173.5 L721.4 174.4 L716.3 175.4 L711.4 176.6 L706.7 177.9 L702.2 179.3 L697.9 180.9 L693.9 182.6 L690.2 184.4 L686.7 186.3 L683.6 188.3 L680.7 190.3 L678.2 192.5 L676 194.7 L674.2 197 L672.7 199.3 L671.6 201.6 L670.8 204 L670.5 206.4 L670.4 208.8 L670.8 211.2 L671.5 213.6 L672.6 215.9 L672 216 Z" fill="#fff" stroke="#202020" stroke-width="1.38" stroke-linejoin="round"/>
<path d="M728 238.4 L729.8 236 L735.2 236.7 L740.7 237.2 L746.3 237.5 L751.9 237.8 L757.5 237.8 L763.2 237.7 L768.8 237.4 L774.3 237 L779.8 236.4 L785.2 235.7 L790.4 234.8 L795.5 233.8 L800.4 232.6 L805.2 231.3 L809.7 229.9 L814 228.3 L818.1 226.7 L821.8 224.9 L825.3 223 L828.5 221 L831.4 219 L834 216.9 L836.2 214.7 L838.1 212.4 L839.7 210.1 L840.8 207.7 L841.7 205.4 L842.1 203 L842.2 200.6 L841.9 198.2 L841.2 195.8 L840.2 193.5 L838.8 191.1 L837.1 188.9 L835 186.6 L832.5 184.5 L829.8 182.4 L826.7 180.4 L823.3 178.5 L819.6 176.6 L815.7 174.9 L811.5 173.3 L807 171.9 L802.4 170.5 L797.5 169.3 L792.5 168.2 L787.3 167.3 L782 166.5 L776.6 165.8 L771 165.3 L765.4 165 L759.8 164.8 L754.2 164.8 L748.6 164.9 L743 165.2 L737.4 165.7 L732 166.3 L726.6 167.1 L721.4 168 L716.3 169 L711.4 170.2 L706.7 171.5 L702.2 172.9 L697.9 174.5 L693.9 176.2 L690.2 178 L686.7 179.9 L683.6 181.9 L680.7 183.9 L678.2 186.1 L676 188.3 L674.2 190.6 L672.7 192.9 L671.6 195.2 L670.8 197.6 L670.5 200 L670.4 202.4 L670.8 204.8 L671.5 207.2 L672.6 209.5 L672 209.6 Z" fill="#fff" stroke="#202020" stroke-width="1.38" stroke-linejoin="round"/>
<line x1="728" y1="238.4" x2="728" y2="244.8" stroke="#202020" stroke-width="1.38"/>
<line x1="672" y1="209.6" x2="672" y2="216" stroke="#202020" stroke-width="1.38"/>
<ellipse cx="681" cy="194.2" rx="2.4" ry="1.5" fill="#fff" stroke="#202020" stroke-width="1.12"/>
<ellipse cx="830.4" cy="194.2" rx="2.4" ry="1.5" fill="#fff" stroke="#202020" stroke-width="1.12"/>
<ellipse cx="755.8" cy="234.2" rx="2.4" ry="1.5" fill="#fff" stroke="#202020" stroke-width="1.12"/>
<path d="M691.8 125 L691.8 198 L692 198 L692.2 200.3 L692.8 202.6 L693.8 204.9 L695.1 207.1 L696.9 209.3 L699 211.4 L701.4 213.4 L704.2 215.3 L707.3 217.2 L710.7 218.9 L714.4 220.4 L718.4 221.9 L722.6 223.2 L726.9 224.3 L731.5 225.3 L736.2 226.1 L741.1 226.7 L746 227.1 L751 227.4 L756 227.5 L761 227.4 L766 227.1 L770.9 226.7 L775.8 226.1 L780.5 225.3 L785.1 224.3 L789.4 223.2 L793.6 221.9 L797.6 220.4 L801.3 218.9 L804.7 217.2 L807.8 215.3 L810.6 213.4 L813 211.4 L815.1 209.3 L816.9 207.1 L818.2 204.9 L819.2 202.6 L819.8 200.3 L820 198 L820 198 L820 125 Z" fill="#fff" stroke="#202020" stroke-width="1.38" stroke-linejoin="round"/>
<path d="M687.4 105.6 L687.4 121.8 L687.4 121.8 L687.6 124.6 L688.2 127.4 L689.3 130.2 L690.8 132.9 L692.6 135.6 L694.9 138.1 L697.5 140.6 L700.5 143 L703.9 145.2 L707.6 147.3 L711.5 149.2 L715.8 150.9 L720.3 152.5 L725 153.9 L729.9 155.1 L734.9 156 L740.1 156.8 L745.4 157.4 L750.8 157.7 L756.2 157.8 L761.6 157.7 L767 157.4 L772.3 156.8 L777.5 156 L782.5 155.1 L787.4 153.9 L792.1 152.5 L796.6 150.9 L800.9 149.2 L804.8 147.3 L808.5 145.2 L811.9 143 L814.9 140.6 L817.5 138.1 L819.8 135.6 L821.6 132.9 L823.1 130.2 L824.2 127.4 L824.8 124.6 L825 121.8 L825 121.8 L825 105.6 Z" fill="#fff" stroke="#202020" stroke-width="1.38" stroke-linejoin="round"/>
<ellipse cx="756.2" cy="105.6" rx="68.8" ry="36" fill="#fff" stroke="#202020" stroke-width="1.38"/>
<ellipse cx="756.2" cy="104.2" rx="64.3" ry="32.2" fill="#fff" stroke="#202020" stroke-width="1.38"/>
<path d="M691.9 105.9 L692.3 103.4 L693 101 L694.1 98.6 L695.6 96.3 L697.5 94 L699.6 91.8 L702.2 89.7 L705 87.7 L708.1 85.8 L711.5 84 L715.2 82.3 L719.1 80.9 L723.3 79.5 L727.6 78.3 L732.1 77.3 L736.8 76.5 L741.5 75.8 L746.4 75.4 L751.3 75.1 L756.2 75 L761.1 75.1 L766 75.4 L770.9 75.8 L775.6 76.5 L780.3 77.3 L784.8 78.3 L789.1 79.5 L793.3 80.9 L797.2 82.3 L800.9 84 L804.3 85.8 L807.4 87.7 L810.2 89.7 L812.8 91.8 L814.9 94 L816.8 96.3 L818.3 98.6 L819.4 101 L820.1 103.4 L820.5 105.9" fill="none" stroke="#202020" stroke-width="1.12" stroke-linejoin="round"/>
<path d="M649.8 70.6 L689 49.8 L689 86.4 L649.8 107.2 Z" fill="#fff" stroke="#202020" stroke-width="1.25" stroke-linejoin="round"/>
<path d="M859.4 126 L859.4 138 L859.4 138 L859.7 138.6 L860.7 139 L862 139.1 L863.3 139 L864.3 138.6 L864.6 138 L864.6 138 L864.6 126" fill="#fff" stroke="#202020" stroke-width="1.38" stroke-linejoin="round"/>
<path d="M859.4 130 L859.7 130.5 L860.7 130.9 L862 131 L863.3 130.9 L864.3 130.5 L864.6 130" fill="none" stroke="#202020" stroke-width="1" stroke-linejoin="round"/>
<path d="M859.4 132.6 L859.7 133.1 L860.7 133.5 L862 133.6 L863.3 133.5 L864.3 133.1 L864.6 132.6" fill="none" stroke="#202020" stroke-width="1" stroke-linejoin="round"/>
<path d="M859.4 135.2 L859.7 135.7 L860.7 136.1 L862 136.2 L863.3 136.1 L864.3 135.7 L864.6 135.2" fill="none" stroke="#202020" stroke-width="1" stroke-linejoin="round"/>
<path d="M857 120.8 L857 125 L857 125.3 L857.2 125.7 L857.4 126 L857.7 126.3 L858 126.6 L858.5 126.8 L859 127.1 L859.5 127.3 L860.1 127.4 L860.7 127.5 L861.3 127.6 L862 127.6 L862.7 127.6 L863.3 127.5 L863.9 127.4 L864.5 127.3 L865 127.1 L865.5 126.8 L866 126.6 L866.3 126.3 L866.6 126 L866.8 125.7 L867 125.3 L867 125 L867 120.8" fill="#fff" stroke="#202020" stroke-width="1.38" stroke-linejoin="round"/>
<ellipse cx="862" cy="120.8" rx="5" ry="2.6" fill="#fff" stroke="#202020" stroke-width="1.38"/>
<ellipse cx="862" cy="120.8" rx="2.6" ry="1.3" fill="#fff" stroke="#202020" stroke-width="1"/>
<path d="M854.6 155.3 L854.6 157.2 L854.7 157.7 L854.9 158.2 L855.2 158.7 L855.6 159.2 L856.1 159.6 L856.8 160 L857.5 160.4 L858.3 160.7 L859.2 160.9 L860.1 161.1 L861 161.2 L862 161.2 L863 161.2 L863.9 161.1 L864.8 160.9 L865.7 160.7 L866.5 160.4 L867.2 160 L867.9 159.6 L868.4 159.2 L868.8 158.7 L869.1 158.2 L869.3 157.7 L869.4 157.2 L869.4 155.3" fill="#fff" stroke="#202020" stroke-width="1.38" stroke-linejoin="round"/>
<ellipse cx="862" cy="155.3" rx="7.4" ry="4" fill="#fff" stroke="#202020" stroke-width="1.38"/>
<ellipse cx="862" cy="155.3" rx="3.6" ry="1.9" fill="#fff" stroke="#202020" stroke-width="1.25"/>
<path d="M479.8 112 L479.8 295 L479.7 295 L480.1 295.7 L481.1 296.3 L482.6 296.7 L484.4 296.8 L486.2 296.7 L487.7 296.3 L488.7 295.7 L489.1 295 L489.1 295 L489.1 112" fill="#fff" stroke="#202020" stroke-width="1.38" stroke-linejoin="round"/>
<path d="M479.7 273.5 L480.1 274.1 L481.1 274.6 L482.6 275 L484.4 275.1 L486.2 275 L487.7 274.6 L488.7 274.1 L489.1 273.5" fill="none" stroke="#202020" stroke-width="1.25" stroke-linejoin="round"/>
<path d="M479.7 276.4 L480.1 277 L481.1 277.5 L482.6 277.9 L484.4 278 L486.2 277.9 L487.7 277.5 L488.7 277 L489.1 276.4" fill="none" stroke="#202020" stroke-width="1.25" stroke-linejoin="round"/>
<path d="M479.7 279.3 L480.1 279.9 L481.1 280.4 L482.6 280.8 L484.4 280.9 L486.2 280.8 L487.7 280.4 L488.7 279.9 L489.1 279.3" fill="none" stroke="#202020" stroke-width="1.25" stroke-linejoin="round"/>
<path d="M479.7 282.2 L480.1 282.8 L481.1 283.3 L482.6 283.7 L484.4 283.8 L486.2 283.7 L487.7 283.3 L488.7 282.8 L489.1 282.2" fill="none" stroke="#202020" stroke-width="1.25" stroke-linejoin="round"/>
<path d="M479.7 285.1 L480.1 285.7 L481.1 286.2 L482.6 286.6 L484.4 286.7 L486.2 286.6 L487.7 286.2 L488.7 285.7 L489.1 285.1" fill="none" stroke="#202020" stroke-width="1.25" stroke-linejoin="round"/>
<path d="M479.7 288 L480.1 288.6 L481.1 289.1 L482.6 289.5 L484.4 289.6 L486.2 289.5 L487.7 289.1 L488.7 288.6 L489.1 288" fill="none" stroke="#202020" stroke-width="1.25" stroke-linejoin="round"/>
<path d="M479.7 290.9 L480.1 291.5 L481.1 292 L482.6 292.4 L484.4 292.5 L486.2 292.4 L487.7 292 L488.7 291.5 L489.1 290.9" fill="none" stroke="#202020" stroke-width="1.25" stroke-linejoin="round"/>
<path d="M479.7 293.8 L480.1 294.4 L481.1 294.9 L482.6 295.3 L484.4 295.4 L486.2 295.3 L487.7 294.9 L488.7 294.4 L489.1 293.8" fill="none" stroke="#202020" stroke-width="1.25" stroke-linejoin="round"/>
<path d="M478.4 54 L478.4 112.5 L478.5 112.5 L478.9 113.3 L480.2 113.9 L482.1 114.3 L484.4 114.5 L486.7 114.3 L488.6 113.9 L489.9 113.3 L490.3 112.5 L490.2 112.5 L490.2 54" fill="#fff" stroke="#202020" stroke-width="1.38" stroke-linejoin="round"/>
<ellipse cx="484.4" cy="53.5" rx="5.9" ry="2.3" fill="#fff" stroke="#202020" stroke-width="1.38"/>
<line x1="482.3" y1="55.5" x2="482.3" y2="66" stroke="#202020" stroke-width="1.12"/>
<line x1="487" y1="55.5" x2="487" y2="66" stroke="#202020" stroke-width="1.12"/>
<path d="M478.5 66 L478.9 66.8 L480.2 67.4 L482.1 67.8 L484.4 68 L486.7 67.8 L488.6 67.4 L489.9 66.8 L490.3 66" fill="none" stroke="#202020" stroke-width="1.12" stroke-linejoin="round"/>
<path d="M479.7 116.5 L480.1 117.2 L481.1 117.8 L482.6 118.2 L484.4 118.3 L486.2 118.2 L487.7 117.8 L488.7 117.2 L489.1 116.5" fill="none" stroke="#202020" stroke-width="1.12" stroke-linejoin="round"/>
<line x1="481.6" y1="118" x2="481.6" y2="272" stroke="#777" stroke-width="0.7"/>
<path d="M475.5 311.2 L475.5 314.4 L475.6 315 L475.8 315.6 L476.2 316.1 L476.7 316.6 L477.4 317.1 L478.2 317.6 L479.1 318 L480.1 318.3 L481.1 318.6 L482.2 318.7 L483.4 318.9 L484.6 318.9 L485.8 318.9 L487 318.7 L488.1 318.6 L489.2 318.3 L490.1 318 L491 317.6 L491.8 317.1 L492.5 316.6 L493 316.1 L493.4 315.6 L493.6 315 L493.7 314.4 L493.7 311.2" fill="#fff" stroke="#202020" stroke-width="1.38" stroke-linejoin="round"/>
<ellipse cx="484.6" cy="311.2" rx="9.1" ry="4.5" fill="#fff" stroke="#202020" stroke-width="1.38"/>
<ellipse cx="484.6" cy="311.2" rx="6.2" ry="2.9" fill="#fff" stroke="#202020" stroke-width="1.38"/>
<path d="M478.8 311.9 L479 311.6 L479.3 311.4 L479.7 311.2 L480.1 310.9 L480.5 310.8 L481 310.6 L481.6 310.4 L482.1 310.3 L482.7 310.2 L483.3 310.2 L484 310.1 L484.6 310.1 L485.2 310.1 L485.9 310.2 L486.5 310.2 L487.1 310.3 L487.6 310.4 L488.2 310.6 L488.7 310.8 L489.1 310.9 L489.5 311.2 L489.9 311.4 L490.2 311.6 L490.4 311.9" fill="none" stroke="#202020" stroke-width="1" stroke-linejoin="round"/>
<path d="M541.4 191.2 L541.4 197.2 L541.7 199.8 L542.7 202.3 L544.3 204.7 L546.5 207 L549.2 209.1 L552.5 211.1 L556.2 212.7 L560.3 214.2 L564.7 215.3 L569.4 216.1 L574.3 216.6 L579.2 216.8 L584.1 216.6 L589 216.1 L593.7 215.3 L598.1 214.2 L602.2 212.7 L605.9 211.1 L609.2 209.1 L611.9 207 L614.1 204.7 L615.7 202.3 L616.7 199.8 L617 197.2 L617 191.2" fill="#fff" stroke="#202020" stroke-width="1.38" stroke-linejoin="round"/>
<ellipse cx="579.2" cy="191.2" rx="37.8" ry="19.6" fill="#fff" stroke="#202020" stroke-width="1.38"/>
<path d="M569.4 191.5 L569.4 193 L569.5 193.7 L569.7 194.4 L570.1 195.1 L570.7 195.8 L571.4 196.4 L572.3 197 L573.2 197.4 L574.3 197.8 L575.4 198.2 L576.7 198.4 L577.9 198.6 L579.2 198.6 L580.5 198.6 L581.7 198.4 L583 198.2 L584.1 197.8 L585.2 197.4 L586.1 197 L587 196.4 L587.7 195.8 L588.3 195.1 L588.7 194.4 L588.9 193.7 L589 193 L589 191.5" fill="#fff" stroke="#202020" stroke-width="1.38" stroke-linejoin="round"/>
<ellipse cx="579.2" cy="191.5" rx="9.8" ry="5.6" fill="#fff" stroke="#202020" stroke-width="1.38"/>
<path d="M570 191.8 L570.4 191.3 L570.9 190.9 L571.4 190.4 L572.1 190 L572.8 189.7 L573.6 189.3 L574.4 189.1 L575.3 188.8 L576.3 188.6 L577.2 188.5 L578.2 188.4 L579.2 188.4 L580.2 188.4 L581.2 188.5 L582.1 188.6 L583.1 188.8 L584 189.1 L584.8 189.3 L585.6 189.7 L586.3 190 L587 190.4 L587.5 190.9 L588 191.3 L588.4 191.8" fill="none" stroke="#202020" stroke-width="1.12" stroke-linejoin="round"/>
<ellipse cx="580" cy="173.8" rx="3" ry="1.8" fill="#fff" stroke="#202020" stroke-width="1.25"/>
<ellipse cx="556.8" cy="203.2" rx="3" ry="1.8" fill="#fff" stroke="#202020" stroke-width="1.25"/>
<ellipse cx="603" cy="203.2" rx="3" ry="1.8" fill="#fff" stroke="#202020" stroke-width="1.25"/>
<path d="M601 155 L601 162.5 L603.6 162.5 L603.6 155" fill="#222" stroke="#202020" stroke-width="1" stroke-linejoin="round"/>
<path d="M599.4 151.5 L599.4 154.5 L599.4 154.7 L599.5 154.9 L599.6 155 L599.8 155.2 L600 155.4 L600.2 155.5 L600.5 155.6 L600.8 155.7 L601.2 155.8 L601.5 155.9 L601.9 155.9 L602.3 155.9 L602.7 155.9 L603.1 155.9 L603.4 155.8 L603.8 155.7 L604.1 155.6 L604.4 155.5 L604.6 155.4 L604.8 155.2 L605 155 L605.1 154.9 L605.2 154.7 L605.2 154.5 L605.2 151.5" fill="#333" stroke="#202020" stroke-width="1.38" stroke-linejoin="round"/>
<ellipse cx="602.3" cy="151.5" rx="2.9" ry="1.4" fill="#333" stroke="#202020" stroke-width="1.38"/>
<line x1="602.6" y1="163" x2="602.6" y2="202.5" stroke="#333" stroke-width="1.1"/>
<path d="M561.8 237.2 L561.8 246 L562 247.2 L562.4 248.3 L563.2 249.4 L564.2 250.5 L565.6 251.5 L567.1 252.4 L568.9 253.1 L570.9 253.8 L573 254.3 L575.3 254.7 L577.6 254.9 L580 255 L582.4 254.9 L584.7 254.7 L587 254.3 L589.1 253.8 L591.1 253.1 L592.9 252.4 L594.4 251.5 L595.8 250.5 L596.8 249.4 L597.6 248.3 L598 247.2 L598.2 246 L598.2 237.2" fill="#fff" stroke="#202020" stroke-width="1.38" stroke-linejoin="round"/>
<ellipse cx="580" cy="237.2" rx="18.2" ry="9" fill="#fff" stroke="#202020" stroke-width="1.38"/>
<ellipse cx="580" cy="237.2" rx="15.3" ry="7.6" fill="#fff" stroke="#202020" stroke-width="1.25"/>
<ellipse cx="592.9" cy="238.3" rx="2.2" ry="1.7" fill="#fff" stroke="#202020" stroke-width="1.12"/>
<ellipse cx="587.5" cy="242.5" rx="2.2" ry="1.7" fill="#fff" stroke="#202020" stroke-width="1.12"/>
<ellipse cx="577.7" cy="243.6" rx="2.2" ry="1.7" fill="#fff" stroke="#202020" stroke-width="1.12"/>
<ellipse cx="569.3" cy="240.9" rx="2.2" ry="1.7" fill="#fff" stroke="#202020" stroke-width="1.12"/>
<ellipse cx="567.1" cy="236.1" rx="2.2" ry="1.7" fill="#fff" stroke="#202020" stroke-width="1.12"/>
<ellipse cx="572.5" cy="231.9" rx="2.2" ry="1.7" fill="#fff" stroke="#202020" stroke-width="1.12"/>
<ellipse cx="582.3" cy="230.8" rx="2.2" ry="1.7" fill="#fff" stroke="#202020" stroke-width="1.12"/>
<ellipse cx="590.7" cy="233.5" rx="2.2" ry="1.7" fill="#fff" stroke="#202020" stroke-width="1.12"/>
<ellipse cx="580" cy="237.2" rx="10.9" ry="5.4" fill="#fff" stroke="#202020" stroke-width="1.25"/>
<ellipse cx="580" cy="237.2" rx="9.1" ry="4.5" fill="#fff" stroke="#202020" stroke-width="1.25"/>
<path d="M571.4 239.6 L571.8 239.2 L572.3 238.8 L572.8 238.4 L573.4 238.1 L574 237.8 L574.8 237.5 L575.6 237.2 L576.4 237 L577.3 236.9 L578.2 236.8 L579.1 236.7 L580 236.7 L580.9 236.7 L581.8 236.8 L582.7 236.9 L583.6 237 L584.4 237.2 L585.2 237.5 L586 237.8 L586.6 238.1 L587.2 238.4 L587.7 238.8 L588.2 239.2 L588.6 239.6" fill="none" stroke="#202020" stroke-width="1.12" stroke-linejoin="round"/>
<path d="M658.9 551.8 L658.9 557.2 L658.9 557.4 L658.9 557.6 L658.9 557.8 L658.8 558 L658.8 558.2 L658.8 558.4 L658.7 558.6 L658.7 558.8 L658.6 559 L658.6 559.1 L658.5 559.3 L658.4 559.5 L658.4 559.7 L658.3 559.9 L658.2 560.1 L658.1 560.3 L658 560.5 L657.9 560.7 L657.8 560.8 L657.7 561 L657.5 561.2 L657.4 561.4 L657.3 561.6 L657.1 561.8 L657 561.9 L656.8 562.1 L656.7 562.3 L656.5 562.5 L656.3 562.6 L656.1 562.8 L656 563 L655.8 563.1 L655.6 563.3 L655.4 563.5 L655.2 563.6 L651.6 562.5 L651.5 562.6 L651.3 562.7 L651.1 562.8 L650.9 563 L650.7 563.1 L650.5 563.2 L650.4 563.3 L650.2 563.4 L650 563.5 L649.7 563.6 L649.5 563.8 L649.3 563.9 L649.1 564 L648.9 564.1 L648.7 564.2 L648.4 564.3 L648.2 564.4 L648 564.4 L647.8 564.5 L647.5 564.6 L647.3 564.7 L647 564.8 L646.8 564.9 L646.5 565 L646.3 565 L646 565.1 L647.7 567.2 L647.3 567.3 L647 567.4 L646.7 567.4 L646.3 567.5 L646 567.6 L645.7 567.7 L645.3 567.7 L645 567.8 L644.7 567.9 L644.3 567.9 L644 568 L643.6 568 L643.3 568.1 L642.9 568.1 L642.6 568.2 L642.2 568.2 L641.9 568.2 L641.5 568.3 L641.2 568.3 L640.8 568.3 L640.5 568.3 L640.1 568.4 L639.7 568.4 L639.4 568.4 L639 568.4 L638.7 568.4 L638.3 568.4 L637.9 568.4 L637.6 568.4 L637.2 568.4 L636.9 568.4 L636.5 568.4 L636.1 568.3 L635.8 568.3 L635.4 568.3 L635.1 568.3 L634.7 568.2 L634.4 568.2 L634 568.2 L633.7 568.1 L633.3 568.1 L633 568 L632.6 568 L632.3 567.9 L631.9 567.9 L631.6 567.8 L631.3 567.7 L630.9 567.7 L630.6 567.6 L630.3 567.5 L629.9 567.4 L629.6 567.4 L629.3 567.3 L628.9 567.2 L630.6 565.1 L630.3 565 L630.1 565 L629.8 564.9 L629.6 564.8 L629.3 564.7 L629.1 564.6 L628.8 564.5 L628.6 564.4 L628.4 564.4 L628.2 564.3 L627.9 564.2 L627.7 564.1 L627.5 564 L627.3 563.9 L627.1 563.8 L626.9 563.6 L626.6 563.5 L626.4 563.4 L626.2 563.3 L626.1 563.2 L625.9 563.1 L625.7 563 L625.5 562.8 L625.3 562.7 L625.1 562.6 L625 562.5 L621.4 563.6 L621.2 563.5 L621 563.3 L620.8 563.1 L620.6 563 L620.5 562.8 L620.3 562.6 L620.1 562.5 L619.9 562.3 L619.8 562.1 L619.6 561.9 L619.5 561.8 L619.3 561.6 L619.2 561.4 L619.1 561.2 L618.9 561 L618.8 560.8 L618.7 560.7 L618.6 560.5 L618.5 560.3 L618.4 560.1 L618.3 559.9 L618.2 559.7 L618.2 559.5 L618.1 559.3 L618 559.1 L618 559 L617.9 558.8 L617.9 558.6 L617.8 558.4 L617.8 558.2 L617.8 558 L617.7 557.8 L617.7 557.6 L617.7 557.4 L617.7 557.2 L617.7 551.8 Z" fill="#fff" stroke="#202020" stroke-width="1.38" stroke-linejoin="round"/>
<path d="M658.9 551.8 L658.9 552 L658.9 552.2 L658.9 552.4 L658.8 552.6 L658.8 552.8 L658.8 553 L658.7 553.2 L658.7 553.4 L658.6 553.6 L658.6 553.7 L658.5 553.9 L658.4 554.1 L658.4 554.3 L658.3 554.5 L658.2 554.7 L658.1 554.9 L658 555.1 L657.9 555.3 L657.8 555.4 L657.7 555.6 L657.5 555.8 L657.4 556 L657.3 556.2 L657.1 556.4 L657 556.5 L656.8 556.7 L656.7 556.9 L656.5 557.1 L656.3 557.2 L656.1 557.4 L656 557.6 L655.8 557.7 L655.6 557.9 L655.4 558.1 L655.2 558.2 L651.6 557.1 L651.5 557.2 L651.3 557.3 L651.1 557.4 L650.9 557.6 L650.7 557.7 L650.5 557.8 L650.4 557.9 L650.2 558 L650 558.1 L649.7 558.2 L649.5 558.4 L649.3 558.5 L649.1 558.6 L648.9 558.7 L648.7 558.8 L648.4 558.9 L648.2 559 L648 559 L647.8 559.1 L647.5 559.2 L647.3 559.3 L647 559.4 L646.8 559.5 L646.5 559.6 L646.3 559.6 L646 559.7 L647.7 561.8 L647.3 561.9 L647 562 L646.7 562 L646.3 562.1 L646 562.2 L645.7 562.3 L645.3 562.3 L645 562.4 L644.7 562.5 L644.3 562.5 L644 562.6 L643.6 562.6 L643.3 562.7 L642.9 562.7 L642.6 562.8 L642.2 562.8 L641.9 562.8 L641.5 562.9 L641.2 562.9 L640.8 562.9 L640.5 562.9 L640.1 563 L639.7 563 L639.4 563 L639 563 L638.7 563 L638.3 563 L637.9 563 L637.6 563 L637.2 563 L636.9 563 L636.5 563 L636.1 562.9 L635.8 562.9 L635.4 562.9 L635.1 562.9 L634.7 562.8 L634.4 562.8 L634 562.8 L633.7 562.7 L633.3 562.7 L633 562.6 L632.6 562.6 L632.3 562.5 L631.9 562.5 L631.6 562.4 L631.3 562.3 L630.9 562.3 L630.6 562.2 L630.3 562.1 L629.9 562 L629.6 562 L629.3 561.9 L628.9 561.8 L630.6 559.7 L630.3 559.6 L630.1 559.6 L629.8 559.5 L629.6 559.4 L629.3 559.3 L629.1 559.2 L628.8 559.1 L628.6 559 L628.4 559 L628.2 558.9 L627.9 558.8 L627.7 558.7 L627.5 558.6 L627.3 558.5 L627.1 558.4 L626.9 558.2 L626.6 558.1 L626.4 558 L626.2 557.9 L626.1 557.8 L625.9 557.7 L625.7 557.6 L625.5 557.4 L625.3 557.3 L625.1 557.2 L625 557.1 L621.4 558.2 L621.2 558.1 L621 557.9 L620.8 557.7 L620.6 557.6 L620.5 557.4 L620.3 557.2 L620.1 557.1 L619.9 556.9 L619.8 556.7 L619.6 556.5 L619.5 556.4 L619.3 556.2 L619.2 556 L619.1 555.8 L618.9 555.6 L618.8 555.4 L618.7 555.3 L618.6 555.1 L618.5 554.9 L618.4 554.7 L618.3 554.5 L618.2 554.3 L618.2 554.1 L618.1 553.9 L618 553.7 L618 553.6 L617.9 553.4 L617.9 553.2 L617.8 553 L617.8 552.8 L617.8 552.6 L617.7 552.4 L617.7 552.2 L617.7 552 L617.7 551.8 L617.7 551.6 L617.7 551.4 L617.7 551.2 L617.8 551 L617.8 550.8 L617.8 550.6 L617.9 550.4 L617.9 550.2 L618 550 L618 549.9 L618.1 549.7 L618.2 549.5 L618.2 549.3 L618.3 549.1 L618.4 548.9 L618.5 548.7 L618.6 548.5 L618.7 548.3 L618.8 548.2 L618.9 548 L619.1 547.8 L619.2 547.6 L619.3 547.4 L619.5 547.2 L619.6 547.1 L619.8 546.9 L619.9 546.7 L620.1 546.5 L620.3 546.4 L620.5 546.2 L620.6 546 L620.8 545.9 L621 545.7 L621.2 545.5 L621.4 545.4 L625 546.5 L625.1 546.4 L625.3 546.3 L625.5 546.2 L625.7 546 L625.9 545.9 L626.1 545.8 L626.2 545.7 L626.4 545.6 L626.6 545.5 L626.9 545.4 L627.1 545.2 L627.3 545.1 L627.5 545 L627.7 544.9 L627.9 544.8 L628.2 544.7 L628.4 544.6 L628.6 544.6 L628.8 544.5 L629.1 544.4 L629.3 544.3 L629.6 544.2 L629.8 544.1 L630.1 544 L630.3 544 L630.6 543.9 L628.9 541.8 L629.3 541.7 L629.6 541.6 L629.9 541.6 L630.3 541.5 L630.6 541.4 L630.9 541.3 L631.3 541.3 L631.6 541.2 L631.9 541.1 L632.3 541.1 L632.6 541 L633 541 L633.3 540.9 L633.7 540.9 L634 540.8 L634.4 540.8 L634.7 540.8 L635.1 540.7 L635.4 540.7 L635.8 540.7 L636.1 540.7 L636.5 540.6 L636.9 540.6 L637.2 540.6 L637.6 540.6 L637.9 540.6 L638.3 540.6 L638.7 540.6 L639 540.6 L639.4 540.6 L639.7 540.6 L640.1 540.6 L640.5 540.7 L640.8 540.7 L641.2 540.7 L641.5 540.7 L641.9 540.8 L642.2 540.8 L642.6 540.8 L642.9 540.9 L643.3 540.9 L643.6 541 L644 541 L644.3 541.1 L644.7 541.1 L645 541.2 L645.3 541.3 L645.7 541.3 L646 541.4 L646.3 541.5 L646.7 541.6 L647 541.6 L647.3 541.7 L647.7 541.8 L646 543.9 L646.3 544 L646.5 544 L646.8 544.1 L647 544.2 L647.3 544.3 L647.5 544.4 L647.8 544.5 L648 544.6 L648.2 544.6 L648.4 544.7 L648.7 544.8 L648.9 544.9 L649.1 545 L649.3 545.1 L649.5 545.2 L649.7 545.4 L650 545.5 L650.2 545.6 L650.4 545.7 L650.5 545.8 L650.7 545.9 L650.9 546 L651.1 546.2 L651.3 546.3 L651.5 546.4 L651.6 546.5 L655.2 545.4 L655.4 545.5 L655.6 545.7 L655.8 545.9 L656 546 L656.1 546.2 L656.3 546.4 L656.5 546.5 L656.7 546.7 L656.8 546.9 L657 547.1 L657.1 547.2 L657.3 547.4 L657.4 547.6 L657.5 547.8 L657.7 548 L657.8 548.2 L657.9 548.3 L658 548.5 L658.1 548.7 L658.2 548.9 L658.3 549.1 L658.4 549.3 L658.4 549.5 L658.5 549.7 L658.6 549.9 L658.6 550 L658.7 550.2 L658.7 550.4 L658.8 550.6 L658.8 550.8 L658.8 551 L658.9 551.2 L658.9 551.4 L658.9 551.6 Z" fill="#fff" stroke="#202020" stroke-width="1.38" stroke-linejoin="round"/>
<line x1="655" y1="558.4" x2="655" y2="563.8" stroke="#202020" stroke-width="1.12"/>
<line x1="651.6" y1="557.1" x2="651.6" y2="562.5" stroke="#202020" stroke-width="1.12"/>
<line x1="648" y1="561.7" x2="648" y2="567.1" stroke="#202020" stroke-width="1.12"/>
<line x1="646" y1="559.7" x2="646" y2="565.1" stroke="#202020" stroke-width="1.12"/>
<line x1="628.6" y1="561.7" x2="628.6" y2="567.1" stroke="#202020" stroke-width="1.12"/>
<line x1="630.6" y1="559.7" x2="630.6" y2="565.1" stroke="#202020" stroke-width="1.12"/>
<line x1="621.6" y1="558.4" x2="621.6" y2="563.8" stroke="#202020" stroke-width="1.12"/>
<line x1="625" y1="557.1" x2="625" y2="562.5" stroke="#202020" stroke-width="1.12"/>
<ellipse cx="638.3" cy="551.5" rx="14" ry="7.5" fill="#fff" stroke="#202020" stroke-width="1.38"/>
<ellipse cx="638.3" cy="551.8" rx="12.3" ry="6.5" fill="#fff" stroke="#202020" stroke-width="1.25"/>
<path d="M626.7 552.1 L627.2 551.6 L627.8 551 L628.5 550.5 L629.4 550.1 L630.3 549.6 L631.2 549.2 L632.3 548.9 L633.4 548.6 L634.6 548.4 L635.8 548.3 L637 548.2 L638.3 548.2 L639.6 548.2 L640.8 548.3 L642 548.4 L643.2 548.6 L644.3 548.9 L645.4 549.2 L646.3 549.6 L647.2 550.1 L648.1 550.5 L648.8 551 L649.4 551.6 L649.9 552.1" fill="none" stroke="#202020" stroke-width="1" stroke-linejoin="round"/>
<path d="M629.2 552.8 L629.8 552.5 L630.4 552.2 L631 551.9 L631.7 551.7 L632.4 551.5 L633.2 551.3 L634 551.1 L634.8 551 L635.7 550.9 L636.5 550.8 L637.4 550.7 L638.3 550.7 L639.2 550.7 L640.1 550.8 L640.9 550.9 L641.8 551 L642.6 551.1 L643.4 551.3 L644.2 551.5 L644.9 551.7 L645.6 551.9 L646.2 552.2 L646.8 552.5 L647.4 552.8" fill="none" stroke="#202020" stroke-width="1" stroke-linejoin="round"/>
<path d="M658.9 590.2 L658.9 595.6 L658.9 595.8 L658.9 596 L658.9 596.2 L658.8 596.4 L658.8 596.6 L658.8 596.8 L658.7 597 L658.7 597.2 L658.6 597.4 L658.6 597.5 L658.5 597.7 L658.4 597.9 L658.4 598.1 L658.3 598.3 L658.2 598.5 L658.1 598.7 L658 598.9 L657.9 599.1 L657.8 599.2 L657.7 599.4 L657.5 599.6 L657.4 599.8 L657.3 600 L657.1 600.2 L657 600.3 L656.8 600.5 L656.7 600.7 L656.5 600.9 L656.3 601 L656.1 601.2 L656 601.4 L655.8 601.5 L655.6 601.7 L655.4 601.9 L655.2 602 L651.6 600.9 L651.5 601 L651.3 601.1 L651.1 601.2 L650.9 601.4 L650.7 601.5 L650.5 601.6 L650.4 601.7 L650.2 601.8 L650 601.9 L649.7 602 L649.5 602.2 L649.3 602.3 L649.1 602.4 L648.9 602.5 L648.7 602.6 L648.4 602.7 L648.2 602.8 L648 602.8 L647.8 602.9 L647.5 603 L647.3 603.1 L647 603.2 L646.8 603.3 L646.5 603.4 L646.3 603.4 L646 603.5 L647.7 605.6 L647.3 605.7 L647 605.8 L646.7 605.8 L646.3 605.9 L646 606 L645.7 606.1 L645.3 606.1 L645 606.2 L644.7 606.3 L644.3 606.3 L644 606.4 L643.6 606.4 L643.3 606.5 L642.9 606.5 L642.6 606.6 L642.2 606.6 L641.9 606.6 L641.5 606.7 L641.2 606.7 L640.8 606.7 L640.5 606.7 L640.1 606.8 L639.7 606.8 L639.4 606.8 L639 606.8 L638.7 606.8 L638.3 606.8 L637.9 606.8 L637.6 606.8 L637.2 606.8 L636.9 606.8 L636.5 606.8 L636.1 606.7 L635.8 606.7 L635.4 606.7 L635.1 606.7 L634.7 606.6 L634.4 606.6 L634 606.6 L633.7 606.5 L633.3 606.5 L633 606.4 L632.6 606.4 L632.3 606.3 L631.9 606.3 L631.6 606.2 L631.3 606.1 L630.9 606.1 L630.6 606 L630.3 605.9 L629.9 605.8 L629.6 605.8 L629.3 605.7 L628.9 605.6 L630.6 603.5 L630.3 603.4 L630.1 603.4 L629.8 603.3 L629.6 603.2 L629.3 603.1 L629.1 603 L628.8 602.9 L628.6 602.8 L628.4 602.8 L628.2 602.7 L627.9 602.6 L627.7 602.5 L627.5 602.4 L627.3 602.3 L627.1 602.2 L626.9 602 L626.6 601.9 L626.4 601.8 L626.2 601.7 L626.1 601.6 L625.9 601.5 L625.7 601.4 L625.5 601.2 L625.3 601.1 L625.1 601 L625 600.9 L621.4 602 L621.2 601.9 L621 601.7 L620.8 601.5 L620.6 601.4 L620.5 601.2 L620.3 601 L620.1 600.9 L619.9 600.7 L619.8 600.5 L619.6 600.3 L619.5 600.2 L619.3 600 L619.2 599.8 L619.1 599.6 L618.9 599.4 L618.8 599.2 L618.7 599.1 L618.6 598.9 L618.5 598.7 L618.4 598.5 L618.3 598.3 L618.2 598.1 L618.2 597.9 L618.1 597.7 L618 597.5 L618 597.4 L617.9 597.2 L617.9 597 L617.8 596.8 L617.8 596.6 L617.8 596.4 L617.7 596.2 L617.7 596 L617.7 595.8 L617.7 595.6 L617.7 590.2 Z" fill="#fff" stroke="#202020" stroke-width="1.38" stroke-linejoin="round"/>
<path d="M658.9 590.2 L658.9 590.4 L658.9 590.6 L658.9 590.8 L658.8 591 L658.8 591.2 L658.8 591.4 L658.7 591.6 L658.7 591.8 L658.6 592 L658.6 592.1 L658.5 592.3 L658.4 592.5 L658.4 592.7 L658.3 592.9 L658.2 593.1 L658.1 593.3 L658 593.5 L657.9 593.7 L657.8 593.8 L657.7 594 L657.5 594.2 L657.4 594.4 L657.3 594.6 L657.1 594.8 L657 594.9 L656.8 595.1 L656.7 595.3 L656.5 595.5 L656.3 595.6 L656.1 595.8 L656 596 L655.8 596.1 L655.6 596.3 L655.4 596.5 L655.2 596.6 L651.6 595.5 L651.5 595.6 L651.3 595.7 L651.1 595.8 L650.9 596 L650.7 596.1 L650.5 596.2 L650.4 596.3 L650.2 596.4 L650 596.5 L649.7 596.6 L649.5 596.8 L649.3 596.9 L649.1 597 L648.9 597.1 L648.7 597.2 L648.4 597.3 L648.2 597.4 L648 597.4 L647.8 597.5 L647.5 597.6 L647.3 597.7 L647 597.8 L646.8 597.9 L646.5 598 L646.3 598 L646 598.1 L647.7 600.2 L647.3 600.3 L647 600.4 L646.7 600.4 L646.3 600.5 L646 600.6 L645.7 600.7 L645.3 600.7 L645 600.8 L644.7 600.9 L644.3 600.9 L644 601 L643.6 601 L643.3 601.1 L642.9 601.1 L642.6 601.2 L642.2 601.2 L641.9 601.2 L641.5 601.3 L641.2 601.3 L640.8 601.3 L640.5 601.3 L640.1 601.4 L639.7 601.4 L639.4 601.4 L639 601.4 L638.7 601.4 L638.3 601.4 L637.9 601.4 L637.6 601.4 L637.2 601.4 L636.9 601.4 L636.5 601.4 L636.1 601.3 L635.8 601.3 L635.4 601.3 L635.1 601.3 L634.7 601.2 L634.4 601.2 L634 601.2 L633.7 601.1 L633.3 601.1 L633 601 L632.6 601 L632.3 600.9 L631.9 600.9 L631.6 600.8 L631.3 600.7 L630.9 600.7 L630.6 600.6 L630.3 600.5 L629.9 600.4 L629.6 600.4 L629.3 600.3 L628.9 600.2 L630.6 598.1 L630.3 598 L630.1 598 L629.8 597.9 L629.6 597.8 L629.3 597.7 L629.1 597.6 L628.8 597.5 L628.6 597.4 L628.4 597.4 L628.2 597.3 L627.9 597.2 L627.7 597.1 L627.5 597 L627.3 596.9 L627.1 596.8 L626.9 596.6 L626.6 596.5 L626.4 596.4 L626.2 596.3 L626.1 596.2 L625.9 596.1 L625.7 596 L625.5 595.8 L625.3 595.7 L625.1 595.6 L625 595.5 L621.4 596.6 L621.2 596.5 L621 596.3 L620.8 596.1 L620.6 596 L620.5 595.8 L620.3 595.6 L620.1 595.5 L619.9 595.3 L619.8 595.1 L619.6 594.9 L619.5 594.8 L619.3 594.6 L619.2 594.4 L619.1 594.2 L618.9 594 L618.8 593.8 L618.7 593.7 L618.6 593.5 L618.5 593.3 L618.4 593.1 L618.3 592.9 L618.2 592.7 L618.2 592.5 L618.1 592.3 L618 592.1 L618 592 L617.9 591.8 L617.9 591.6 L617.8 591.4 L617.8 591.2 L617.8 591 L617.7 590.8 L617.7 590.6 L617.7 590.4 L617.7 590.2 L617.7 590 L617.7 589.8 L617.7 589.6 L617.8 589.4 L617.8 589.2 L617.8 589 L617.9 588.8 L617.9 588.6 L618 588.4 L618 588.3 L618.1 588.1 L618.2 587.9 L618.2 587.7 L618.3 587.5 L618.4 587.3 L618.5 587.1 L618.6 586.9 L618.7 586.7 L618.8 586.6 L618.9 586.4 L619.1 586.2 L619.2 586 L619.3 585.8 L619.5 585.6 L619.6 585.5 L619.8 585.3 L619.9 585.1 L620.1 584.9 L620.3 584.8 L620.5 584.6 L620.6 584.4 L620.8 584.3 L621 584.1 L621.2 583.9 L621.4 583.8 L625 584.9 L625.1 584.8 L625.3 584.7 L625.5 584.6 L625.7 584.4 L625.9 584.3 L626.1 584.2 L626.2 584.1 L626.4 584 L626.6 583.9 L626.9 583.8 L627.1 583.6 L627.3 583.5 L627.5 583.4 L627.7 583.3 L627.9 583.2 L628.2 583.1 L628.4 583 L628.6 583 L628.8 582.9 L629.1 582.8 L629.3 582.7 L629.6 582.6 L629.8 582.5 L630.1 582.4 L630.3 582.4 L630.6 582.3 L628.9 580.2 L629.3 580.1 L629.6 580 L629.9 580 L630.3 579.9 L630.6 579.8 L630.9 579.7 L631.3 579.7 L631.6 579.6 L631.9 579.5 L632.3 579.5 L632.6 579.4 L633 579.4 L633.3 579.3 L633.7 579.3 L634 579.2 L634.4 579.2 L634.7 579.2 L635.1 579.1 L635.4 579.1 L635.8 579.1 L636.1 579.1 L636.5 579 L636.9 579 L637.2 579 L637.6 579 L637.9 579 L638.3 579 L638.7 579 L639 579 L639.4 579 L639.7 579 L640.1 579 L640.5 579.1 L640.8 579.1 L641.2 579.1 L641.5 579.1 L641.9 579.2 L642.2 579.2 L642.6 579.2 L642.9 579.3 L643.3 579.3 L643.6 579.4 L644 579.4 L644.3 579.5 L644.7 579.5 L645 579.6 L645.3 579.7 L645.7 579.7 L646 579.8 L646.3 579.9 L646.7 580 L647 580 L647.3 580.1 L647.7 580.2 L646 582.3 L646.3 582.4 L646.5 582.4 L646.8 582.5 L647 582.6 L647.3 582.7 L647.5 582.8 L647.8 582.9 L648 583 L648.2 583 L648.4 583.1 L648.7 583.2 L648.9 583.3 L649.1 583.4 L649.3 583.5 L649.5 583.6 L649.7 583.8 L650 583.9 L650.2 584 L650.4 584.1 L650.5 584.2 L650.7 584.3 L650.9 584.4 L651.1 584.6 L651.3 584.7 L651.5 584.8 L651.6 584.9 L655.2 583.8 L655.4 583.9 L655.6 584.1 L655.8 584.3 L656 584.4 L656.1 584.6 L656.3 584.8 L656.5 584.9 L656.7 585.1 L656.8 585.3 L657 585.5 L657.1 585.6 L657.3 585.8 L657.4 586 L657.5 586.2 L657.7 586.4 L657.8 586.6 L657.9 586.7 L658 586.9 L658.1 587.1 L658.2 587.3 L658.3 587.5 L658.4 587.7 L658.4 587.9 L658.5 588.1 L658.6 588.3 L658.6 588.4 L658.7 588.6 L658.7 588.8 L658.8 589 L658.8 589.2 L658.8 589.4 L658.9 589.6 L658.9 589.8 L658.9 590 Z" fill="#fff" stroke="#202020" stroke-width="1.38" stroke-linejoin="round"/>
<line x1="655" y1="596.8" x2="655" y2="602.2" stroke="#202020" stroke-width="1.12"/>
<line x1="651.6" y1="595.5" x2="651.6" y2="600.9" stroke="#202020" stroke-width="1.12"/>
<line x1="648" y1="600.1" x2="648" y2="605.5" stroke="#202020" stroke-width="1.12"/>
<line x1="646" y1="598.1" x2="646" y2="603.5" stroke="#202020" stroke-width="1.12"/>
<line x1="628.6" y1="600.1" x2="628.6" y2="605.5" stroke="#202020" stroke-width="1.12"/>
<line x1="630.6" y1="598.1" x2="630.6" y2="603.5" stroke="#202020" stroke-width="1.12"/>
<line x1="621.6" y1="596.8" x2="621.6" y2="602.2" stroke="#202020" stroke-width="1.12"/>
<line x1="625" y1="595.5" x2="625" y2="600.9" stroke="#202020" stroke-width="1.12"/>
<ellipse cx="638.3" cy="589.9" rx="14" ry="7.5" fill="#fff" stroke="#202020" stroke-width="1.38"/>
<ellipse cx="638.3" cy="590.2" rx="12.3" ry="6.5" fill="#fff" stroke="#202020" stroke-width="1.25"/>
<path d="M626.7 590.5 L627.2 590 L627.8 589.4 L628.5 588.9 L629.4 588.5 L630.3 588 L631.2 587.6 L632.3 587.3 L633.4 587 L634.6 586.8 L635.8 586.7 L637 586.6 L638.3 586.6 L639.6 586.6 L640.8 586.7 L642 586.8 L643.2 587 L644.3 587.3 L645.4 587.6 L646.3 588 L647.2 588.5 L648.1 588.9 L648.8 589.4 L649.4 590 L649.9 590.5" fill="none" stroke="#202020" stroke-width="1" stroke-linejoin="round"/>
<path d="M629.2 591.2 L629.8 590.9 L630.4 590.6 L631 590.3 L631.7 590.1 L632.4 589.9 L633.2 589.7 L634 589.5 L634.8 589.4 L635.7 589.3 L636.5 589.2 L637.4 589.1 L638.3 589.1 L639.2 589.1 L640.1 589.2 L640.9 589.3 L641.8 589.4 L642.6 589.5 L643.4 589.7 L644.2 589.9 L644.9 590.1 L645.6 590.3 L646.2 590.6 L646.8 590.9 L647.4 591.2" fill="none" stroke="#202020" stroke-width="1" stroke-linejoin="round"/>
<path d="M599.4 666.5 L599.4 675.5 L599.7 678.2 L600.7 680.8 L602.4 683.3 L604.7 685.8 L607.5 688 L610.9 690 L614.8 691.8 L619.1 693.3 L623.7 694.4 L628.6 695.3 L633.7 695.8 L638.8 696 L643.9 695.8 L649 695.3 L653.9 694.4 L658.5 693.3 L662.8 691.8 L666.7 690 L670.1 688 L672.9 685.8 L675.2 683.3 L676.9 680.8 L677.9 678.2 L678.2 675.5 L678.2 666.5" fill="#fff" stroke="#202020" stroke-width="1.38" stroke-linejoin="round"/>
<ellipse cx="638.8" cy="666.5" rx="39.4" ry="20.5" fill="#fff" stroke="#202020" stroke-width="1.38"/>
<path d="M613.8 641.8 L613.8 665.7 L614 667.2 L614.7 668.6 L615.7 670 L617.1 671.4 L619 672.6 L621.1 673.7 L623.6 674.7 L626.3 675.5 L629.2 676.1 L632.3 676.6 L635.5 676.9 L638.8 677 L642.1 676.9 L645.3 676.6 L648.4 676.1 L651.3 675.5 L654 674.7 L656.5 673.7 L658.6 672.6 L660.5 671.4 L661.9 670 L662.9 668.6 L663.6 667.2 L663.8 665.7 L663.8 641.8" fill="#fff" stroke="#202020" stroke-width="1.38" stroke-linejoin="round"/>
<path d="M613.8 646.6 L613.9 647.8 L614.3 648.9 L615 650.1 L616 651.2 L617.1 652.2 L618.6 653.2 L620.2 654.2 L622.1 655 L624.1 655.7 L626.3 656.4 L628.6 656.9 L631.1 657.3 L633.6 657.7 L636.2 657.8 L638.8 657.9 L641.4 657.8 L644 657.7 L646.5 657.3 L649 656.9 L651.3 656.4 L653.5 655.7 L655.5 655 L657.4 654.2 L659 653.2 L660.5 652.2 L661.6 651.2 L662.6 650.1 L663.3 648.9 L663.7 647.8 L663.8 646.6" fill="none" stroke="#202020" stroke-width="2.12" stroke-linejoin="round"/>
<path d="M613.8 651.4 L613.9 652.6 L614.3 653.7 L615 654.9 L616 656 L617.1 657 L618.6 658 L620.2 659 L622.1 659.8 L624.1 660.5 L626.3 661.2 L628.6 661.7 L631.1 662.1 L633.6 662.5 L636.2 662.6 L638.8 662.7 L641.4 662.6 L644 662.5 L646.5 662.1 L649 661.7 L651.3 661.2 L653.5 660.5 L655.5 659.8 L657.4 659 L659 658 L660.5 657 L661.6 656 L662.6 654.9 L663.3 653.7 L663.7 652.6 L663.8 651.4" fill="none" stroke="#202020" stroke-width="1.25" stroke-linejoin="round"/>
<path d="M613.8 656.2 L613.9 657.4 L614.3 658.5 L615 659.7 L616 660.8 L617.1 661.9 L618.6 662.8 L620.2 663.8 L622.1 664.6 L624.1 665.3 L626.3 666 L628.6 666.5 L631.1 666.9 L633.6 667.3 L636.2 667.4 L638.8 667.5 L641.4 667.4 L644 667.3 L646.5 666.9 L649 666.5 L651.3 666 L653.5 665.3 L655.5 664.6 L657.4 663.8 L659 662.8 L660.5 661.9 L661.6 660.8 L662.6 659.7 L663.3 658.5 L663.7 657.4 L663.8 656.2" fill="none" stroke="#202020" stroke-width="2.12" stroke-linejoin="round"/>
<path d="M613.8 661 L613.9 662.2 L614.3 663.3 L615 664.5 L616 665.6 L617.1 666.6 L618.6 667.6 L620.2 668.6 L622.1 669.4 L624.1 670.1 L626.3 670.8 L628.6 671.3 L631.1 671.7 L633.6 672.1 L636.2 672.2 L638.8 672.3 L641.4 672.2 L644 672.1 L646.5 671.7 L649 671.3 L651.3 670.8 L653.5 670.1 L655.5 669.4 L657.4 668.6 L659 667.6 L660.5 666.6 L661.6 665.6 L662.6 664.5 L663.3 663.3 L663.7 662.2 L663.8 661" fill="none" stroke="#202020" stroke-width="1.25" stroke-linejoin="round"/>
<ellipse cx="638.8" cy="641.8" rx="25" ry="11.3" fill="#fff" stroke="#202020" stroke-width="1.38"/>
<ellipse cx="638.8" cy="641.5" rx="19.2" ry="8.6" fill="#fff" stroke="#202020" stroke-width="1.25"/>
<ellipse cx="638.8" cy="641.8" rx="11.3" ry="5.6" fill="#fff" stroke="#202020" stroke-width="1.38"/>
<path d="M628.2 642 L628.6 641.5 L629.2 641.1 L629.8 640.6 L630.6 640.2 L631.4 639.9 L632.3 639.5 L633.3 639.3 L634.3 639 L635.4 638.8 L636.5 638.7 L637.7 638.6 L638.8 638.6 L639.9 638.6 L641.1 638.7 L642.2 638.8 L643.3 639 L644.3 639.3 L645.3 639.5 L646.2 639.9 L647 640.2 L647.8 640.6 L648.4 641.1 L649 641.5 L649.4 642" fill="none" stroke="#202020" stroke-width="1" stroke-linejoin="round"/>
<path d="M613.3 751.6 L613.3 764.6 L613.5 766.2 L614.2 767.7 L615.2 769.2 L616.7 770.6 L618.5 771.9 L620.7 773.1 L623.2 774.1 L626 775 L628.9 775.7 L632.1 776.2 L635.3 776.5 L638.6 776.6 L641.9 776.5 L645.1 776.2 L648.3 775.7 L651.2 775 L654 774.1 L656.5 773.1 L658.7 771.9 L660.5 770.6 L662 769.2 L663 767.7 L663.7 766.2 L663.9 764.6 L663.9 751.6" fill="#fff" stroke="#202020" stroke-width="1.38" stroke-linejoin="round"/>
<ellipse cx="638.6" cy="751.6" rx="25.3" ry="12" fill="#fff" stroke="#202020" stroke-width="1.38"/>
<ellipse cx="638.6" cy="751.6" rx="21.3" ry="10.1" fill="#fff" stroke="#202020" stroke-width="1.25"/>
<ellipse cx="656.5" cy="753.1" rx="3" ry="2.2" fill="#fff" stroke="#202020" stroke-width="1.12"/>
<ellipse cx="652" cy="757.5" rx="3" ry="2.2" fill="#fff" stroke="#202020" stroke-width="1.12"/>
<ellipse cx="643.2" cy="760" rx="3" ry="2.2" fill="#fff" stroke="#202020" stroke-width="1.12"/>
<ellipse cx="632.9" cy="759.8" rx="3" ry="2.2" fill="#fff" stroke="#202020" stroke-width="1.12"/>
<ellipse cx="624.5" cy="757" rx="3" ry="2.2" fill="#fff" stroke="#202020" stroke-width="1.12"/>
<ellipse cx="620.5" cy="752.6" rx="3" ry="2.2" fill="#fff" stroke="#202020" stroke-width="1.12"/>
<ellipse cx="622.3" cy="747.8" rx="3" ry="2.2" fill="#fff" stroke="#202020" stroke-width="1.12"/>
<ellipse cx="629.2" cy="744.2" rx="3" ry="2.2" fill="#fff" stroke="#202020" stroke-width="1.12"/>
<ellipse cx="639.2" cy="743" rx="3" ry="2.2" fill="#fff" stroke="#202020" stroke-width="1.12"/>
<ellipse cx="648.9" cy="744.5" rx="3" ry="2.2" fill="#fff" stroke="#202020" stroke-width="1.12"/>
<ellipse cx="655.4" cy="748.3" rx="3" ry="2.2" fill="#fff" stroke="#202020" stroke-width="1.12"/>
<ellipse cx="638.6" cy="751.6" rx="15.2" ry="7.2" fill="#fff" stroke="#202020" stroke-width="1.25"/>
<ellipse cx="638.6" cy="751.6" rx="12.7" ry="6" fill="#fff" stroke="#202020" stroke-width="1.25"/>
<path d="M626.7 755.4 L627.2 754.8 L627.8 754.3 L628.6 753.8 L629.4 753.3 L630.3 752.9 L631.3 752.5 L632.4 752.2 L633.6 751.9 L634.8 751.7 L636 751.6 L637.3 751.5 L638.6 751.5 L639.9 751.5 L641.2 751.6 L642.4 751.7 L643.6 751.9 L644.8 752.2 L645.9 752.5 L646.9 752.9 L647.8 753.3 L648.6 753.8 L649.4 754.3 L650 754.8 L650.5 755.4" fill="none" stroke="#202020" stroke-width="1.12" stroke-linejoin="round"/>
<path d="M440.6 451.5 L440.8 450.4 L441.2 449.6 L441.9 449 L442.9 448.8 L443.9 448.9 L445.1 449.4 L531.1 495.4 L532.3 496.2 L533.4 497.2 L534.3 498.4 L535 499.8 L535.4 501.1 L535.6 502.3 L535.6 524.3 L535.4 525.4 L535 526.3 L534.3 526.8 L533.4 527 L532.3 526.9 L531.1 526.4 L445.1 480.4 L443.9 479.6 L442.9 478.6 L441.9 477.4 L441.2 476.1 L440.8 474.7 L440.6 473.5 Z" fill="#fff" stroke="#202020" stroke-width="1.38" stroke-linejoin="round"/>
<path d="M440.6 453 L440.8 451.9 L441.2 451.1 L441.9 450.5 L442.9 450.3 L443.9 450.4 L445.1 450.9 L529.9 496.3 L531.1 497.1 L532.1 498.1 L533.1 499.3 L533.8 500.6 L534.2 501.9 L534.4 503.2 L534.4 525.2 L534.2 526.3 L533.8 527.1 L533.1 527.7 L532.1 527.9 L531.1 527.7 L529.9 527.3 L445.1 481.9 L443.9 481.1 L442.9 480.1 L441.9 478.9 L441.2 477.6 L440.8 476.2 L440.6 475 Z" fill="#fff" stroke="#202020" stroke-width="1.38" stroke-linejoin="round"/>
<path d="M449.8 456.6 L522.4 495.5 L522.4 500.7 L449.8 461.8 Z" fill="#fff" stroke="#202020" stroke-width="1.25" stroke-linejoin="round"/>
<path d="M460.6 471.4 L466.6 474.6 L466.6 485.9 L463.6 488.1 L455.1 483.6 L450.6 477.9 L450.6 473.4 L455.6 476 L455.6 478.3 L457.4 480.5 L459.1 481.4 L460.6 481 Z" fill="#fff" stroke="#202020" stroke-width="1.25" stroke-linejoin="round"/>
<path d="M476.6 480.1 L495.1 490 L495.1 493.1 L482.1 486.1 L482.1 488.9 L493.1 494.8 L493.1 497.9 L482.1 492 L482.1 495.3 L495.1 502.3 L495.1 505.5 L476.6 495.6 Z" fill="#fff" stroke="#202020" stroke-width="1.25" stroke-linejoin="round"/>
<path d="M504.4 492.8 L523 502.8 L523 508 L517.1 504.8 L517.1 517.4 L511.1 514.2 L511.1 501.6 L504.4 498 Z" fill="#fff" stroke="#202020" stroke-width="1.25" stroke-linejoin="round"/>
<path d="M202.4 905.4 L202.4 911.8 L202.4 912 L202.4 912.2 L202.4 912.4 L202.3 912.6 L202.3 912.8 L202.3 912.9 L202.2 913.1 L202.2 913.3 L202.1 913.5 L202.1 913.7 L202 913.9 L201.9 914.1 L201.9 914.3 L201.8 914.5 L201.7 914.6 L201.6 914.8 L201.5 915 L201.4 915.2 L201.3 915.4 L201.2 915.6 L201 915.7 L200.9 915.9 L200.8 916.1 L200.6 916.3 L200.5 916.4 L200.3 916.6 L200.1 916.8 L200 917 L199.8 917.1 L199.6 917.3 L199.4 917.5 L199.3 917.6 L199.1 917.8 L198.9 918 L198.7 918.1 L195.1 917 L194.9 917.1 L194.7 917.2 L194.6 917.3 L194.4 917.5 L194.2 917.6 L194 917.7 L193.8 917.8 L193.6 917.9 L193.4 918 L193.2 918.1 L193 918.2 L192.8 918.3 L192.6 918.4 L192.3 918.5 L192.1 918.6 L191.9 918.7 L191.7 918.8 L191.4 918.9 L191.2 919 L191 919.1 L190.7 919.2 L190.5 919.3 L190.2 919.3 L190 919.4 L189.7 919.5 L189.5 919.6 L191.1 921.6 L190.8 921.7 L190.4 921.8 L190.1 921.8 L189.8 921.9 L189.5 922 L189.1 922.1 L188.8 922.1 L188.4 922.2 L188.1 922.3 L187.8 922.3 L187.4 922.4 L187.1 922.4 L186.7 922.5 L186.4 922.5 L186 922.6 L185.6 922.6 L185.3 922.6 L184.9 922.7 L184.6 922.7 L184.2 922.7 L183.9 922.7 L183.5 922.8 L183.1 922.8 L182.8 922.8 L182.4 922.8 L182.1 922.8 L181.7 922.8 L181.3 922.8 L181 922.8 L180.6 922.8 L180.3 922.8 L179.9 922.8 L179.5 922.7 L179.2 922.7 L178.8 922.7 L178.5 922.7 L178.1 922.6 L177.8 922.6 L177.4 922.6 L177 922.5 L176.7 922.5 L176.3 922.4 L176 922.4 L175.6 922.3 L175.3 922.3 L175 922.2 L174.6 922.1 L174.3 922.1 L173.9 922 L173.6 921.9 L173.3 921.8 L173 921.8 L172.6 921.7 L172.3 921.6 L173.9 919.6 L173.7 919.5 L173.4 919.4 L173.2 919.3 L172.9 919.3 L172.7 919.2 L172.4 919.1 L172.2 919 L172 918.9 L171.7 918.8 L171.5 918.7 L171.3 918.6 L171.1 918.5 L170.8 918.4 L170.6 918.3 L170.4 918.2 L170.2 918.1 L170 918 L169.8 917.9 L169.6 917.8 L169.4 917.7 L169.2 917.6 L169 917.5 L168.8 917.3 L168.7 917.2 L168.5 917.1 L168.3 917 L164.7 918.1 L164.5 918 L164.3 917.8 L164.1 917.6 L164 917.5 L163.8 917.3 L163.6 917.1 L163.4 917 L163.3 916.8 L163.1 916.6 L162.9 916.4 L162.8 916.3 L162.6 916.1 L162.5 915.9 L162.4 915.7 L162.2 915.6 L162.1 915.4 L162 915.2 L161.9 915 L161.8 914.8 L161.7 914.6 L161.6 914.5 L161.5 914.3 L161.5 914.1 L161.4 913.9 L161.3 913.7 L161.3 913.5 L161.2 913.3 L161.2 913.1 L161.1 912.9 L161.1 912.8 L161.1 912.6 L161 912.4 L161 912.2 L161 912 L161 911.8 L161 905.4 Z" fill="#fff" stroke="#202020" stroke-width="1.38" stroke-linejoin="round"/>
<path d="M202.4 905.4 L202.4 905.6 L202.4 905.8 L202.4 906 L202.3 906.2 L202.3 906.4 L202.3 906.5 L202.2 906.7 L202.2 906.9 L202.1 907.1 L202.1 907.3 L202 907.5 L201.9 907.7 L201.9 907.9 L201.8 908.1 L201.7 908.2 L201.6 908.4 L201.5 908.6 L201.4 908.8 L201.3 909 L201.2 909.2 L201 909.3 L200.9 909.5 L200.8 909.7 L200.6 909.9 L200.5 910 L200.3 910.2 L200.1 910.4 L200 910.6 L199.8 910.7 L199.6 910.9 L199.4 911.1 L199.3 911.2 L199.1 911.4 L198.9 911.6 L198.7 911.7 L195.1 910.6 L194.9 910.7 L194.7 910.8 L194.6 910.9 L194.4 911.1 L194.2 911.2 L194 911.3 L193.8 911.4 L193.6 911.5 L193.4 911.6 L193.2 911.7 L193 911.8 L192.8 911.9 L192.6 912 L192.3 912.1 L192.1 912.2 L191.9 912.3 L191.7 912.4 L191.4 912.5 L191.2 912.6 L191 912.7 L190.7 912.8 L190.5 912.9 L190.2 912.9 L190 913 L189.7 913.1 L189.5 913.2 L191.1 915.2 L190.8 915.3 L190.4 915.4 L190.1 915.4 L189.8 915.5 L189.5 915.6 L189.1 915.7 L188.8 915.7 L188.4 915.8 L188.1 915.9 L187.8 915.9 L187.4 916 L187.1 916 L186.7 916.1 L186.4 916.1 L186 916.2 L185.6 916.2 L185.3 916.2 L184.9 916.3 L184.6 916.3 L184.2 916.3 L183.9 916.3 L183.5 916.4 L183.1 916.4 L182.8 916.4 L182.4 916.4 L182.1 916.4 L181.7 916.4 L181.3 916.4 L181 916.4 L180.6 916.4 L180.3 916.4 L179.9 916.4 L179.5 916.3 L179.2 916.3 L178.8 916.3 L178.5 916.3 L178.1 916.2 L177.8 916.2 L177.4 916.2 L177 916.1 L176.7 916.1 L176.3 916 L176 916 L175.6 915.9 L175.3 915.9 L175 915.8 L174.6 915.7 L174.3 915.7 L173.9 915.6 L173.6 915.5 L173.3 915.4 L173 915.4 L172.6 915.3 L172.3 915.2 L173.9 913.2 L173.7 913.1 L173.4 913 L173.2 912.9 L172.9 912.9 L172.7 912.8 L172.4 912.7 L172.2 912.6 L172 912.5 L171.7 912.4 L171.5 912.3 L171.3 912.2 L171.1 912.1 L170.8 912 L170.6 911.9 L170.4 911.8 L170.2 911.7 L170 911.6 L169.8 911.5 L169.6 911.4 L169.4 911.3 L169.2 911.2 L169 911.1 L168.8 910.9 L168.7 910.8 L168.5 910.7 L168.3 910.6 L164.7 911.7 L164.5 911.6 L164.3 911.4 L164.1 911.2 L164 911.1 L163.8 910.9 L163.6 910.7 L163.4 910.6 L163.3 910.4 L163.1 910.2 L162.9 910 L162.8 909.9 L162.6 909.7 L162.5 909.5 L162.4 909.3 L162.2 909.2 L162.1 909 L162 908.8 L161.9 908.6 L161.8 908.4 L161.7 908.2 L161.6 908.1 L161.5 907.9 L161.5 907.7 L161.4 907.5 L161.3 907.3 L161.3 907.1 L161.2 906.9 L161.2 906.7 L161.1 906.5 L161.1 906.4 L161.1 906.2 L161 906 L161 905.8 L161 905.6 L161 905.4 L161 905.2 L161 905 L161 904.8 L161.1 904.6 L161.1 904.4 L161.1 904.3 L161.2 904.1 L161.2 903.9 L161.3 903.7 L161.3 903.5 L161.4 903.3 L161.5 903.1 L161.5 902.9 L161.6 902.7 L161.7 902.6 L161.8 902.4 L161.9 902.2 L162 902 L162.1 901.8 L162.2 901.6 L162.4 901.5 L162.5 901.3 L162.6 901.1 L162.8 900.9 L162.9 900.8 L163.1 900.6 L163.3 900.4 L163.4 900.2 L163.6 900.1 L163.8 899.9 L164 899.7 L164.1 899.6 L164.3 899.4 L164.5 899.2 L164.7 899.1 L168.3 900.2 L168.5 900.1 L168.7 900 L168.8 899.9 L169 899.7 L169.2 899.6 L169.4 899.5 L169.6 899.4 L169.8 899.3 L170 899.2 L170.2 899.1 L170.4 899 L170.6 898.9 L170.8 898.8 L171.1 898.7 L171.3 898.6 L171.5 898.5 L171.7 898.4 L172 898.3 L172.2 898.2 L172.4 898.1 L172.7 898 L172.9 897.9 L173.2 897.9 L173.4 897.8 L173.7 897.7 L173.9 897.6 L172.3 895.6 L172.6 895.5 L173 895.4 L173.3 895.4 L173.6 895.3 L173.9 895.2 L174.3 895.1 L174.6 895.1 L175 895 L175.3 894.9 L175.6 894.9 L176 894.8 L176.3 894.8 L176.7 894.7 L177 894.7 L177.4 894.6 L177.8 894.6 L178.1 894.6 L178.5 894.5 L178.8 894.5 L179.2 894.5 L179.5 894.5 L179.9 894.4 L180.3 894.4 L180.6 894.4 L181 894.4 L181.3 894.4 L181.7 894.4 L182.1 894.4 L182.4 894.4 L182.8 894.4 L183.1 894.4 L183.5 894.4 L183.9 894.5 L184.2 894.5 L184.6 894.5 L184.9 894.5 L185.3 894.6 L185.6 894.6 L186 894.6 L186.4 894.7 L186.7 894.7 L187.1 894.8 L187.4 894.8 L187.8 894.9 L188.1 894.9 L188.4 895 L188.8 895.1 L189.1 895.1 L189.5 895.2 L189.8 895.3 L190.1 895.4 L190.4 895.4 L190.8 895.5 L191.1 895.6 L189.5 897.6 L189.7 897.7 L190 897.8 L190.2 897.9 L190.5 897.9 L190.7 898 L191 898.1 L191.2 898.2 L191.4 898.3 L191.7 898.4 L191.9 898.5 L192.1 898.6 L192.3 898.7 L192.6 898.8 L192.8 898.9 L193 899 L193.2 899.1 L193.4 899.2 L193.6 899.3 L193.8 899.4 L194 899.5 L194.2 899.6 L194.4 899.7 L194.6 899.9 L194.7 900 L194.9 900.1 L195.1 900.2 L198.7 899.1 L198.9 899.2 L199.1 899.4 L199.3 899.6 L199.4 899.7 L199.6 899.9 L199.8 900.1 L200 900.2 L200.1 900.4 L200.3 900.6 L200.5 900.8 L200.6 900.9 L200.8 901.1 L200.9 901.3 L201 901.5 L201.2 901.6 L201.3 901.8 L201.4 902 L201.5 902.2 L201.6 902.4 L201.7 902.6 L201.8 902.7 L201.9 902.9 L201.9 903.1 L202 903.3 L202.1 903.5 L202.1 903.7 L202.2 903.9 L202.2 904.1 L202.3 904.3 L202.3 904.4 L202.3 904.6 L202.4 904.8 L202.4 905 L202.4 905.2 Z" fill="#fff" stroke="#202020" stroke-width="1.38" stroke-linejoin="round"/>
<line x1="198.4" y1="911.9" x2="198.4" y2="918.3" stroke="#202020" stroke-width="1.12"/>
<line x1="195.1" y1="910.6" x2="195.1" y2="917" stroke="#202020" stroke-width="1.12"/>
<line x1="191.4" y1="915.1" x2="191.4" y2="921.5" stroke="#202020" stroke-width="1.12"/>
<line x1="189.5" y1="913.2" x2="189.5" y2="919.6" stroke="#202020" stroke-width="1.12"/>
<line x1="172" y1="915.1" x2="172" y2="921.5" stroke="#202020" stroke-width="1.12"/>
<line x1="173.9" y1="913.2" x2="173.9" y2="919.6" stroke="#202020" stroke-width="1.12"/>
<line x1="165" y1="911.9" x2="165" y2="918.3" stroke="#202020" stroke-width="1.12"/>
<line x1="168.3" y1="910.6" x2="168.3" y2="917" stroke="#202020" stroke-width="1.12"/>
<ellipse cx="181.7" cy="905.1" rx="14" ry="7.7" fill="#fff" stroke="#202020" stroke-width="1.38"/>
<ellipse cx="181.7" cy="905.4" rx="12.3" ry="6.6" fill="#fff" stroke="#202020" stroke-width="1.25"/>
<path d="M170.1 905.7 L170.6 905.1 L171.2 904.6 L171.9 904.1 L172.8 903.6 L173.7 903.2 L174.6 902.8 L175.7 902.4 L176.8 902.2 L178 901.9 L179.2 901.8 L180.4 901.7 L181.7 901.7 L183 901.7 L184.2 901.8 L185.4 901.9 L186.6 902.2 L187.7 902.4 L188.8 902.8 L189.7 903.2 L190.6 903.6 L191.5 904.1 L192.2 904.6 L192.8 905.1 L193.3 905.7" fill="none" stroke="#202020" stroke-width="1" stroke-linejoin="round"/>
<path d="M172.6 906.4 L173.2 906 L173.8 905.8 L174.4 905.5 L175.1 905.2 L175.8 905 L176.6 904.8 L177.4 904.6 L178.2 904.5 L179.1 904.4 L179.9 904.3 L180.8 904.3 L181.7 904.2 L182.6 904.3 L183.5 904.3 L184.3 904.4 L185.2 904.5 L186 904.6 L186.8 904.8 L187.6 905 L188.3 905.2 L189 905.5 L189.6 905.8 L190.2 906 L190.8 906.4" fill="none" stroke="#202020" stroke-width="1" stroke-linejoin="round"/>
<path d="M765.2 476.5 Q765.2 474 767.5 473 L868 420.2 Q870 419.3 870 421.5 L870.8 451.5 Q870.8 454 868.8 455 L768.5 508.5 Q766 509.6 766 507 Z" fill="#fff" stroke="#202020" stroke-width="1.38" stroke-linejoin="round"/>
<ellipse cx="768" cy="476.5" rx="1.2" ry="1.2" fill="#fff" stroke="#202020" stroke-width="1.12"/>
<ellipse cx="867.8" cy="423" rx="1.2" ry="1.2" fill="#fff" stroke="#202020" stroke-width="1.12"/>
<ellipse cx="868.6" cy="451.8" rx="1.2" ry="1.2" fill="#fff" stroke="#202020" stroke-width="1.12"/>
<ellipse cx="768.4" cy="505.6" rx="1.2" ry="1.2" fill="#fff" stroke="#202020" stroke-width="1.12"/>
<path d="M832.7 452.2 L831.7 452.5 L830.7 452.4 L829.8 451.9 L829.1 451 L828.8 450 L828.9 449 L829.4 448.1 L830.3 447.4 L853.3 435.4 L854.3 435.1 L855.3 435.2 L856.2 435.7 L856.9 436.6 L857.2 437.6 L857.1 438.6 L856.6 439.5 L855.7 440.2 Z" fill="#fff" stroke="#202020" stroke-width="1.5" stroke-linejoin="round"/>
<path d="M787.3 477.4 L786.2 477.7 L785.2 477.6 L784.3 477.1 L783.6 476.3 L783.3 475.2 L783.4 474.2 L783.9 473.3 L784.7 472.6 L807.2 460.8 L808.3 460.5 L809.3 460.6 L810.2 461.1 L810.9 461.9 L811.2 463 L811.1 464 L810.6 464.9 L809.8 465.6 Z" fill="#fff" stroke="#202020" stroke-width="1.5" stroke-linejoin="round"/>
<path d="M832.7 461.3 L831.7 461.6 L830.7 461.5 L829.8 461 L829.1 460.1 L828.8 459.1 L828.9 458.1 L829.4 457.2 L830.3 456.5 L853.3 444.5 L854.3 444.2 L855.3 444.3 L856.2 444.8 L856.9 445.7 L857.2 446.7 L857.1 447.7 L856.6 448.6 L855.7 449.3 Z" fill="#fff" stroke="#202020" stroke-width="1.5" stroke-linejoin="round"/>
<path d="M787.3 486.5 L786.2 486.8 L785.2 486.7 L784.3 486.2 L783.6 485.4 L783.3 484.3 L783.4 483.3 L783.9 482.4 L784.7 481.7 L807.2 469.9 L808.3 469.6 L809.3 469.7 L810.2 470.2 L810.9 471 L811.2 472.1 L811.1 473.1 L810.6 474 L809.8 474.7 Z" fill="#fff" stroke="#202020" stroke-width="1.5" stroke-linejoin="round"/>
<path d="M832.7 470.4 L831.7 470.7 L830.7 470.6 L829.8 470.1 L829.1 469.2 L828.8 468.2 L828.9 467.2 L829.4 466.3 L830.3 465.6 L853.3 453.6 L854.3 453.3 L855.3 453.4 L856.2 453.9 L856.9 454.8 L857.2 455.8 L857.1 456.8 L856.6 457.7 L855.7 458.4 Z" fill="#fff" stroke="#202020" stroke-width="1.5" stroke-linejoin="round"/>
<path d="M787.3 495.6 L786.2 495.9 L785.2 495.8 L784.3 495.3 L783.6 494.5 L783.3 493.4 L783.4 492.4 L783.9 491.5 L784.7 490.8 L807.2 479 L808.3 478.7 L809.3 478.8 L810.2 479.3 L810.9 480.1 L811.2 481.2 L811.1 482.2 L810.6 483.1 L809.8 483.8 Z" fill="#fff" stroke="#202020" stroke-width="1.5" stroke-linejoin="round"/>
<path d="M879.3 431.5 L879.1 431.3 L879 431.1 L878.9 430.7 L878.9 430.3 L879 429.8 L879.2 429.3 L879.4 428.8 L879.6 428.4 L879.9 428.1 L880.2 427.8 L880.4 427.7 L880.7 427.7 L889.7 430.9 L889.9 431.1 L890 431.3 L890.1 431.7 L890.1 432.1 L890 432.6 L889.8 433.1 L889.6 433.6 L889.4 434 L889.1 434.3 L888.8 434.6 L888.6 434.7 L888.3 434.7 Z" fill="#fff" stroke="#202020" stroke-width="1.38" stroke-linejoin="round"/>
<line x1="882.1" y1="428.2" x2="880.6" y2="432" stroke="#202020" stroke-width="1.12"/>
<line x1="884.8" y1="429.1" x2="883.3" y2="432.9" stroke="#202020" stroke-width="1.12"/>
<line x1="887.5" y1="430.1" x2="886" y2="433.9" stroke="#202020" stroke-width="1.12"/>
<ellipse cx="891.5" cy="433.6" rx="3.6" ry="3.8" fill="#fff" stroke="#202020" stroke-width="1.38"/>
<path d="M889.7 436.8 L888.8 436.5 L888 435.9 L887.4 435.2 L887 434.2 L886.9 433.2 L887 432.2 L887.4 431.2 L888 430.5 L888.8 429.9 L889.7 429.6" fill="none" stroke="#202020" stroke-width="1.12" stroke-linejoin="round"/>
<path d="M844.3 532.5 Q844.3 528.6 847.5 529.3 Q851 530.2 851 534 L851 540.5 Q851 544.4 847.8 543.7 Q844.3 542.8 844.3 539 Z" fill="#fff" stroke="#202020" stroke-width="1.25" stroke-linejoin="round"/>
<path d="M846 533 Q846 531 847.6 531.4 Q849.3 531.9 849.3 534 L849.3 540 Q849.3 542 847.7 541.6 Q846 541.1 846 539 Z" fill="none" stroke="#202020" stroke-width="1" stroke-linejoin="round"/>
<path d="M815.8 570.5 L815.8 592.3 L816 594 L816.7 595.7 L817.7 597.4 L819.2 598.9 L821 600.4 L823.2 601.7 L825.7 602.9 L828.4 603.8 L831.4 604.6 L834.5 605.1 L837.7 605.5 L841 605.6 L844.3 605.5 L847.5 605.1 L850.6 604.6 L853.6 603.8 L856.3 602.9 L858.8 601.7 L861 600.4 L862.8 598.9 L864.3 597.4 L865.3 595.7 L866 594 L866.2 592.3 L866.2 570.5" fill="#fff" stroke="#202020" stroke-width="1.38" stroke-linejoin="round"/>
<path d="M815.8 574.8 L815.9 576.2 L816.4 577.6 L817 578.9 L818 580.2 L819.2 581.4 L820.6 582.6 L822.3 583.7 L824.1 584.7 L826.2 585.6 L828.4 586.3 L830.8 587 L833.2 587.4 L835.8 587.8 L838.4 588 L841 588.1 L843.6 588 L846.2 587.8 L848.8 587.4 L851.2 587 L853.6 586.3 L855.8 585.6 L857.9 584.7 L859.7 583.7 L861.4 582.6 L862.8 581.4 L864 580.2 L865 578.9 L865.6 577.6 L866.1 576.2 L866.2 574.8" fill="none" stroke="#202020" stroke-width="2.12" stroke-linejoin="round"/>
<path d="M815.8 579.3 L815.9 580.7 L816.4 582.1 L817 583.4 L818 584.7 L819.2 585.9 L820.6 587.1 L822.3 588.2 L824.1 589.2 L826.2 590.1 L828.4 590.8 L830.8 591.5 L833.2 591.9 L835.8 592.3 L838.4 592.5 L841 592.6 L843.6 592.5 L846.2 592.3 L848.8 591.9 L851.2 591.5 L853.6 590.8 L855.8 590.1 L857.9 589.2 L859.7 588.2 L861.4 587.1 L862.8 585.9 L864 584.7 L865 583.4 L865.6 582.1 L866.1 580.7 L866.2 579.3" fill="none" stroke="#202020" stroke-width="1.25" stroke-linejoin="round"/>
<path d="M815.8 583.8 L815.9 585.2 L816.4 586.6 L817 587.9 L818 589.2 L819.2 590.4 L820.6 591.6 L822.3 592.7 L824.1 593.7 L826.2 594.6 L828.4 595.3 L830.8 596 L833.2 596.4 L835.8 596.8 L838.4 597 L841 597.1 L843.6 597 L846.2 596.8 L848.8 596.4 L851.2 596 L853.6 595.3 L855.8 594.6 L857.9 593.7 L859.7 592.7 L861.4 591.6 L862.8 590.4 L864 589.2 L865 587.9 L865.6 586.6 L866.1 585.2 L866.2 583.8" fill="none" stroke="#202020" stroke-width="2.12" stroke-linejoin="round"/>
<path d="M815.8 588.2 L815.9 589.6 L816.4 591 L817 592.3 L818 593.6 L819.2 594.9 L820.6 596 L822.3 597.1 L824.1 598.1 L826.2 599 L828.4 599.7 L830.8 600.4 L833.2 600.8 L835.8 601.2 L838.4 601.4 L841 601.5 L843.6 601.4 L846.2 601.2 L848.8 600.8 L851.2 600.4 L853.6 599.7 L855.8 599 L857.9 598.1 L859.7 597.1 L861.4 596 L862.8 594.9 L864 593.6 L865 592.3 L865.6 591 L866.1 589.6 L866.2 588.2" fill="none" stroke="#202020" stroke-width="1.25" stroke-linejoin="round"/>
<ellipse cx="841" cy="570.5" rx="25.2" ry="13.3" fill="#fff" stroke="#202020" stroke-width="1.38"/>
<path d="M828 570.3 L828 571.8 L828.1 572.7 L828.4 573.6 L829 574.5 L829.7 575.3 L830.7 576.1 L831.8 576.7 L833.1 577.4 L834.5 577.9 L836 578.3 L837.6 578.6 L839.3 578.7 L841 578.8 L842.7 578.7 L844.4 578.6 L846 578.3 L847.5 577.9 L848.9 577.4 L850.2 576.7 L851.3 576.1 L852.3 575.3 L853 574.5 L853.6 573.6 L853.9 572.7 L854 571.8 L854 570.3" fill="#fff" stroke="#202020" stroke-width="1.38" stroke-linejoin="round"/>
<ellipse cx="841" cy="570.3" rx="13" ry="7" fill="#fff" stroke="#202020" stroke-width="1.38"/>
<ellipse cx="841" cy="570.5" rx="7.4" ry="4" fill="#fff" stroke="#202020" stroke-width="1.38"/>
<path d="M834 571.1 L834.3 570.7 L834.7 570.4 L835.1 570.1 L835.6 569.8 L836.2 569.6 L836.8 569.4 L837.4 569.2 L838.1 569 L838.8 568.9 L839.5 568.8 L840.2 568.7 L841 568.7 L841.8 568.7 L842.5 568.8 L843.2 568.9 L843.9 569 L844.6 569.2 L845.2 569.4 L845.8 569.6 L846.4 569.8 L846.9 570.1 L847.3 570.4 L847.7 570.7 L848 571.1" fill="none" stroke="#202020" stroke-width="1" stroke-linejoin="round"/>
<path d="M821.9 576.6 L823.2 577.6 L824.7 578.6 L826.3 579.4 L828.1 580.1 L830 580.8 L832.1 581.3 L834.2 581.7 L836.4 582.1 L838.7 582.2 L841 582.3 L843.3 582.2 L845.6 582.1 L847.8 581.7 L849.9 581.3 L852 580.8 L853.9 580.1 L855.7 579.4 L857.3 578.6 L858.8 577.6 L860.1 576.6" fill="none" stroke="#202020" stroke-width="1" stroke-linejoin="round"/>
<path d="M830.5 637 L830.5 639 L830.6 639.7 L830.8 640.4 L831.3 641 L831.8 641.6 L832.5 642.2 L833.4 642.7 L834.4 643.2 L835.4 643.6 L836.6 643.9 L837.8 644.1 L839.1 644.3 L840.4 644.3 L841.7 644.3 L843 644.1 L844.2 643.9 L845.4 643.6 L846.4 643.2 L847.4 642.7 L848.3 642.2 L849 641.6 L849.5 641 L850 640.4 L850.2 639.7 L850.3 639 L850.3 637" fill="#fff" stroke="#202020" stroke-width="1.38" stroke-linejoin="round"/>
<ellipse cx="840.4" cy="637" rx="9.9" ry="5.3" fill="#fff" stroke="#202020" stroke-width="1.38"/>
<ellipse cx="840.4" cy="637" rx="2" ry="1.1" fill="#fff" stroke="#202020" stroke-width="1.12"/>
<path d="M838.2 671.5 L838.2 680 L842.8 680 L842.8 671.5" fill="#fff" stroke="#202020" stroke-width="1.38" stroke-linejoin="round"/>
<ellipse cx="840.5" cy="671.5" rx="2.3" ry="1" fill="#fff" stroke="#202020" stroke-width="1.12"/>
<path d="M838.2 674 L838.5 674.5 L839.4 674.8 L840.5 674.9 L841.6 674.8 L842.5 674.5 L842.8 674" fill="none" stroke="#202020" stroke-width="1" stroke-linejoin="round"/>
<path d="M838.2 676.2 L838.5 676.7 L839.4 677 L840.5 677.1 L841.6 677 L842.5 676.7 L842.8 676.2" fill="none" stroke="#202020" stroke-width="1" stroke-linejoin="round"/>
<path d="M838.2 678.4 L838.5 678.9 L839.4 679.2 L840.5 679.3 L841.6 679.2 L842.5 678.9 L842.8 678.4" fill="none" stroke="#202020" stroke-width="1" stroke-linejoin="round"/>
<path d="M836.8 680 L836.8 684.5 L836.8 684.7 L836.9 685 L837.1 685.2 L837.3 685.4 L837.6 685.6 L837.9 685.8 L838.3 685.9 L838.7 686.1 L839.1 686.2 L839.6 686.2 L840.1 686.3 L840.6 686.3 L841.1 686.3 L841.6 686.2 L842.1 686.2 L842.5 686.1 L842.9 685.9 L843.3 685.8 L843.6 685.6 L843.9 685.4 L844.1 685.2 L844.3 685 L844.4 684.7 L844.4 684.5 L844.4 680" fill="#fff" stroke="#202020" stroke-width="1.38" stroke-linejoin="round"/>
<ellipse cx="840.6" cy="680" rx="3.8" ry="1.8" fill="#fff" stroke="#202020" stroke-width="1.38"/>
<path d="M827.7 714.2 L830.3 713.1 L833.1 712.1 L836.1 711.4 L839.2 710.9 L842.4 710.7 L845.6 710.8 L848.7 711.1 L851.8 711.6 L854.8 712.4 L857.5 713.5 L860 714.7 L862.2 716.2 L864.1 717.8 L865.6 719.5 L866.8 721.4 L867.5 723.3 L867.9 725.3 L867.8 727.3 L867.3 729.2 L866.4 731.1 L865.1 732.9 L863.4 734.6 L861.4 736.2 L859.1 737.6 L772.7 782.4 L770.1 783.5 L767.3 784.5 L764.3 785.2 L761.2 785.7 L758 785.9 L754.8 785.8 L751.7 785.5 L748.6 785 L745.6 784.2 L742.9 783.1 L740.4 781.9 L738.2 780.4 L736.3 778.8 L734.8 777.1 L733.6 775.2 L732.9 773.3 L732.5 771.3 L732.6 769.3 L733.1 767.4 L734 765.5 L735.3 763.7 L737 762 L739 760.4 L741.3 759 Z" fill="#fff" stroke="#202020" stroke-width="1.38" stroke-linejoin="round"/>
<path d="M827.7 698.7 L830.3 697.6 L833.1 696.6 L836.1 695.9 L839.2 695.4 L842.4 695.2 L845.6 695.3 L848.7 695.6 L851.8 696.1 L854.8 696.9 L857.5 698 L860 699.2 L862.2 700.7 L864.1 702.3 L865.6 704 L866.8 705.9 L867.5 707.8 L867.9 709.8 L867.8 711.8 L867.3 713.7 L866.4 715.6 L865.1 717.4 L863.4 719.1 L861.4 720.7 L859.1 722.1 L772.7 766.9 L770.1 768 L767.3 769 L764.3 769.7 L761.2 770.2 L758 770.4 L754.8 770.3 L751.7 770 L748.6 769.5 L745.6 768.7 L742.9 767.6 L740.4 766.4 L738.2 764.9 L736.3 763.3 L734.8 761.6 L733.6 759.7 L732.9 757.8 L732.5 755.8 L732.6 753.8 L733.1 751.9 L734 750 L735.3 748.2 L737 746.5 L739 744.9 L741.3 743.5 Z" fill="#fff" stroke="#202020" stroke-width="1.38" stroke-linejoin="round"/>
<line x1="867.9" y1="710.4" x2="867.9" y2="725.9" stroke="#202020" stroke-width="1.38"/>
<line x1="732.5" y1="755.2" x2="732.5" y2="770.7" stroke="#202020" stroke-width="1.38"/>
<clipPath id="b70"><path d="M829.4 700.4 L831.7 699.4 L834.2 698.6 L836.9 697.9 L839.6 697.5 L842.4 697.3 L845.3 697.4 L848.1 697.6 L850.8 698.1 L853.4 698.8 L855.8 699.7 L858.1 700.8 L860 702.1 L861.7 703.5 L863.1 705 L864.1 706.7 L864.8 708.4 L865.1 710.1 L865 711.9 L864.6 713.6 L863.8 715.3 L862.7 716.9 L861.2 718.4 L859.4 719.7 L857.4 721 L771 765.8 L768.7 766.8 L766.2 767.6 L763.5 768.3 L760.8 768.7 L758 768.9 L755.1 768.8 L752.3 768.6 L749.6 768.1 L747 767.4 L744.6 766.5 L742.3 765.4 L740.4 764.1 L738.7 762.7 L737.3 761.2 L736.3 759.5 L735.6 757.8 L735.3 756.1 L735.4 754.3 L735.8 752.6 L736.6 750.9 L737.7 749.3 L739.2 747.8 L741 746.5 L743 745.2 Z"/></clipPath>
<g clip-path="url(#b70)">
<path d="M829.6 702.5 L831.9 701.4 L834.3 700.6 L836.9 700 L839.7 699.6 L842.5 699.4 L845.3 699.4 L848 699.7 L850.7 700.1 L853.3 700.8 L855.7 701.7 L857.9 702.8 L859.8 704.1 L861.5 705.5 L862.8 707 L863.9 708.6 L864.5 710.3 L864.8 712 L864.8 713.8 L864.3 715.5 L863.6 717.1 L862.4 718.7 L861 720.2 L859.2 721.5 L857.2 722.7 L770.8 767.5 L768.5 768.6 L766.1 769.4 L763.5 770 L760.7 770.4 L757.9 770.6 L755.1 770.6 L752.4 770.3 L749.7 769.9 L747.1 769.2 L744.7 768.3 L742.5 767.2 L740.6 765.9 L738.9 764.5 L737.6 763 L736.5 761.4 L735.9 759.7 L735.6 758 L735.6 756.2 L736.1 754.5 L736.8 752.9 L738 751.3 L739.4 749.8 L741.2 748.5 L743.2 747.3 Z" fill="none" stroke="#202020" stroke-width="1.12" stroke-linejoin="round"/>
<path d="M829.8 704.5 L832 703.5 L834.4 702.6 L837 702 L839.7 701.6 L842.5 701.4 L845.2 701.4 L848 701.7 L850.7 702.2 L853.2 702.9 L855.6 703.8 L857.7 704.8 L859.6 706.1 L861.3 707.5 L862.6 709 L863.6 710.6 L864.3 712.2 L864.6 713.9 L864.5 715.6 L864.1 717.3 L863.3 719 L862.2 720.5 L860.8 722 L859 723.4 L857 724.5 L770.6 769.3 L768.4 770.3 L766 771.2 L763.4 771.8 L760.7 772.2 L757.9 772.4 L755.2 772.4 L752.4 772.1 L749.7 771.6 L747.2 770.9 L744.8 770 L742.7 769 L740.8 767.7 L739.1 766.3 L737.8 764.8 L736.8 763.2 L736.1 761.6 L735.8 759.9 L735.9 758.2 L736.3 756.5 L737.1 754.8 L738.2 753.3 L739.6 751.8 L741.4 750.4 L743.4 749.3 Z" fill="none" stroke="#202020" stroke-width="1.12" stroke-linejoin="round"/>
<path d="M829.9 706.5 L832.1 705.5 L834.5 704.7 L837.1 704 L839.8 703.6 L842.5 703.5 L845.2 703.5 L847.9 703.8 L850.6 704.2 L853.1 704.9 L855.4 705.8 L857.6 706.9 L859.5 708.1 L861.1 709.4 L862.4 710.9 L863.4 712.5 L864 714.2 L864.3 715.8 L864.3 717.5 L863.9 719.2 L863.1 720.8 L862 722.4 L860.6 723.8 L858.8 725.2 L856.9 726.3 L770.5 771.1 L768.3 772.1 L765.9 772.9 L763.3 773.6 L760.6 774 L757.9 774.1 L755.2 774.1 L752.5 773.8 L749.8 773.4 L747.3 772.7 L745 771.8 L742.8 770.7 L740.9 769.5 L739.3 768.2 L738 766.7 L737 765.1 L736.4 763.4 L736.1 761.8 L736.1 760.1 L736.5 758.4 L737.3 756.8 L738.4 755.2 L739.8 753.8 L741.6 752.4 L743.5 751.3 Z" fill="none" stroke="#202020" stroke-width="1.12" stroke-linejoin="round"/>
<path d="M830.1 708.5 L832.3 707.5 L834.7 706.7 L837.2 706.1 L839.8 705.7 L842.5 705.5 L845.2 705.5 L847.9 705.8 L850.5 706.3 L853 706.9 L855.3 707.8 L857.4 708.9 L859.3 710.1 L860.9 711.4 L862.2 712.9 L863.1 714.5 L863.8 716.1 L864.1 717.7 L864 719.4 L863.6 721.1 L862.8 722.7 L861.8 724.2 L860.4 725.6 L858.7 727 L856.7 728.1 L770.3 772.9 L768.1 773.9 L765.7 774.7 L763.2 775.3 L760.6 775.7 L757.9 775.9 L755.2 775.9 L752.5 775.6 L749.9 775.1 L747.4 774.5 L745.1 773.6 L743 772.5 L741.1 771.3 L739.5 770 L738.2 768.5 L737.3 766.9 L736.6 765.3 L736.3 763.7 L736.4 762 L736.8 760.3 L737.6 758.7 L738.6 757.2 L740 755.8 L741.7 754.4 L743.7 753.3 Z" fill="none" stroke="#202020" stroke-width="1.12" stroke-linejoin="round"/>
<path d="M830.3 710.5 L832.4 709.5 L834.8 708.7 L837.3 708.1 L839.9 707.7 L842.5 707.6 L845.2 707.6 L847.8 707.9 L850.4 708.3 L852.9 709 L855.1 709.8 L857.2 710.9 L859.1 712.1 L860.7 713.4 L861.9 714.9 L862.9 716.4 L863.5 718 L863.8 719.7 L863.8 721.3 L863.4 722.9 L862.6 724.5 L861.5 726 L860.1 727.5 L858.5 728.8 L856.5 729.9 L770.1 774.7 L768 775.7 L765.6 776.5 L763.1 777.1 L760.5 777.5 L757.9 777.6 L755.2 777.6 L752.6 777.3 L750 776.9 L747.5 776.2 L745.3 775.4 L743.2 774.3 L741.3 773.1 L739.7 771.8 L738.5 770.3 L737.5 768.8 L736.9 767.2 L736.6 765.5 L736.6 763.9 L737 762.3 L737.8 760.7 L738.9 759.2 L740.3 757.7 L741.9 756.4 L743.9 755.3 Z" fill="none" stroke="#202020" stroke-width="1.38" stroke-linejoin="round"/>
</g>
<path d="M829.4 700.4 L831.7 699.4 L834.2 698.6 L836.9 697.9 L839.6 697.5 L842.4 697.3 L845.3 697.4 L848.1 697.6 L850.8 698.1 L853.4 698.8 L855.8 699.7 L858.1 700.8 L860 702.1 L861.7 703.5 L863.1 705 L864.1 706.7 L864.8 708.4 L865.1 710.1 L865 711.9 L864.6 713.6 L863.8 715.3 L862.7 716.9 L861.2 718.4 L859.4 719.7 L857.4 721 L771 765.8 L768.7 766.8 L766.2 767.6 L763.5 768.3 L760.8 768.7 L758 768.9 L755.1 768.8 L752.3 768.6 L749.6 768.1 L747 767.4 L744.6 766.5 L742.3 765.4 L740.4 764.1 L738.7 762.7 L737.3 761.2 L736.3 759.5 L735.6 757.8 L735.3 756.1 L735.4 754.3 L735.8 752.6 L736.6 750.9 L737.7 749.3 L739.2 747.8 L741 746.5 L743 745.2 Z" fill="none" stroke="#202020" stroke-width="1.38" stroke-linejoin="round"/>
<path d="M774.6 808.1 C775.3 807.6 773.9 807.3 779 805 C784.1 802.7 794.2 796.9 805 794.1 C815.8 791.3 832.3 788.3 844 788.1 C855.7 787.9 867.3 790.5 875.2 792.8 C883.1 795.1 887.3 797.7 891.3 801.9 C895.3 806.1 898.3 813.1 899.1 818 C899.9 822.9 898.3 827 896 831 C893.8 835 890.9 838 885.6 841.9 C880.3 845.8 867.8 852.3 864.3 854.4 L864.3 860.4 L864.3 860.4 C867.8 858.3 880.3 851.8 885.6 847.9 C890.9 844 893.8 841 896 837 C898.3 833 899.9 828.9 899.1 824 C898.3 819.1 892.6 810.6 891.3 807.9 L891.3 801.9" fill="#fff" stroke="#202020" stroke-width="1.38" stroke-linejoin="round"/>
<path d="M774.6 808.1 L774.6 814.1 L864.3 860.4" fill="#fff" stroke="#202020" stroke-width="1.38" stroke-linejoin="round"/>
<path d="M774.6 808.1 C775.3 807.6 773.9 807.3 779 805 C784.1 802.7 794.2 796.9 805 794.1 C815.8 791.3 832.3 788.3 844 788.1 C855.7 787.9 867.3 790.5 875.2 792.8 C883.1 795.1 887.3 797.7 891.3 801.9 C895.3 806.1 898.3 813.1 899.1 818 C899.9 822.9 898.3 827 896 831 C893.8 835 890.9 838 885.6 841.9 C880.3 845.8 867.8 852.3 864.3 854.4 Z" fill="#fff" stroke="#202020" stroke-width="1.38" stroke-linejoin="round"/>
<line x1="864.3" y1="854.4" x2="864.3" y2="860.4" stroke="#202020" stroke-width="1.38"/>
<path d="M788.1 814.1 C789 813.1 790.1 810.4 793.3 808.1 C796.6 805.8 799.2 802.6 807.6 800.3 C816.1 798.1 834 794.9 844 794.6 C854 794.3 863.1 797 867.4 798.5 C871.7 800 868.1 802.6 870 803.7 C872 804.8 875.9 802.6 879.1 805 C882.4 807.4 888.4 813.7 889.5 818 C890.6 822.3 888 827.3 885.6 831 C883.2 834.7 879.1 837.9 875.2 840.1 C871.3 842.3 865.7 842.8 862.2 844 C858.7 845.2 855.7 846.6 854.4 847.1" fill="none" stroke="#202020" stroke-width="1.25" stroke-linejoin="round"/>
<ellipse cx="840.9" cy="819.3" rx="19.9" ry="10.7" fill="#fff" stroke="#202020" stroke-width="1.38"/>
<path d="M822.2 818.5 L823 817.6 L824 816.6 L825.1 815.8 L826.4 815 L827.9 814.3 L829.5 813.6 L831.2 813.1 L833 812.6 L834.9 812.3 L836.9 812 L838.9 811.9 L840.9 811.8 L842.9 811.9 L844.9 812 L846.9 812.3 L848.8 812.6 L850.6 813.1 L852.3 813.6 L853.9 814.3 L855.4 815 L856.7 815.8 L857.8 816.6 L858.8 817.6 L859.6 818.5" fill="none" stroke="#202020" stroke-width="1" stroke-linejoin="round"/>
<ellipse cx="783.7" cy="808.9" rx="2.6" ry="1.6" fill="#fff" stroke="#202020" stroke-width="1.25"/>
<ellipse cx="877.3" cy="797.7" rx="2.6" ry="1.6" fill="#fff" stroke="#202020" stroke-width="1.25"/>
<ellipse cx="860.1" cy="849.2" rx="2.6" ry="1.6" fill="#fff" stroke="#202020" stroke-width="1.25"/>
<path d="M858.6 875 L858.6 886 L863.4 886 L863.4 875" fill="#fff" stroke="#202020" stroke-width="1.38" stroke-linejoin="round"/>
<ellipse cx="861" cy="875" rx="2.4" ry="1" fill="#fff" stroke="#202020" stroke-width="1.12"/>
<path d="M858.6 878 L858.9 878.5 L859.8 878.8 L861 878.9 L862.2 878.8 L863.1 878.5 L863.4 878" fill="none" stroke="#202020" stroke-width="1" stroke-linejoin="round"/>
<path d="M858.6 880.4 L858.9 880.9 L859.8 881.2 L861 881.3 L862.2 881.2 L863.1 880.9 L863.4 880.4" fill="none" stroke="#202020" stroke-width="1" stroke-linejoin="round"/>
<path d="M858.6 882.8 L858.9 883.2 L859.8 883.6 L861 883.7 L862.2 883.6 L863.1 883.2 L863.4 882.8" fill="none" stroke="#202020" stroke-width="1" stroke-linejoin="round"/>
<path d="M855.4 886.5 L855.4 892 L855.4 892.3 L855.6 892.7 L855.8 893 L856.2 893.3 L856.6 893.6 L857 893.8 L857.6 894.1 L858.2 894.3 L858.9 894.4 L859.6 894.5 L860.3 894.6 L861 894.6 L861.7 894.6 L862.4 894.5 L863.1 894.4 L863.8 894.3 L864.4 894.1 L865 893.8 L865.4 893.6 L865.8 893.3 L866.2 893 L866.4 892.7 L866.6 892.3 L866.6 892 L866.6 886.5" fill="#fff" stroke="#202020" stroke-width="1.38" stroke-linejoin="round"/>
<ellipse cx="861" cy="886.5" rx="5.6" ry="2.6" fill="#fff" stroke="#202020" stroke-width="1.38"/>
<path d="M684.4 901.1 L684.4 904.1 L684.2 906.2 L683.7 908.2 L682.9 910.2 L681.8 912.2 L680.3 914.1 L678.6 915.9 L676.6 917.7 L674.2 919.3 L671.7 920.9 L668.9 922.3 L665.8 923.6 L662.6 924.8 L659.2 925.8 L655.7 926.6 L655.7 931.4 L652.9 932 L650 932.4 L647.1 932.8 L644.1 933 L641.2 933.2 L638.2 933.2 L635.2 933.1 L632.2 933 L629.3 932.7 L626.4 932.3 L623.5 931.9 L620.7 931.3 L618 930.6 L615.4 929.9 L612.8 929 L610.4 928.1 L608.1 927.1 L605.9 926 L603.9 924.9 L602 923.6 L600.3 922.3 L598.7 921 L597.3 919.6 L596.1 918.2 L595 916.7 L594.2 915.2 L593.5 913.6 L593 912.1 L592.7 910.5 L592.6 908.9 L592.6 901.1 Z" fill="#fff" stroke="#202020" stroke-width="1.38" stroke-linejoin="round"/>
<ellipse cx="638.5" cy="901.1" rx="45.9" ry="24.3" fill="#fff" stroke="#202020" stroke-width="1.38"/>
<ellipse cx="638.5" cy="901.7" rx="43.7" ry="22.7" fill="#fff" stroke="#202020" stroke-width="1.25"/>
<path d="M607.6 901 Q608 893 620.5 888.5 L625.5 890.5 L628 887 Q650 884 663 892 Q670.5 897.5 669.8 904 Q668.5 911 661 915 Q640 922 620 916 Q607 911 607.6 901 Z" fill="#fff" stroke="#202020" stroke-width="1.38" stroke-linejoin="round"/>
<path d="M668.3 909.7 L667.2 911.3 L665.7 912.9 L663.9 914.3 L661.7 915.7 L659.3 916.9 L656.6 918 L653.6 918.9 L650.5 919.6 L647.2 920.2 L643.8 920.6 L640.3 920.8 L636.8 920.8 L633.4 920.6 L630 920.2 L626.7 919.6 L623.6 918.8 L620.6 917.9 L617.9 916.8 L615.5 915.6 L613.4 914.2 L611.6 912.8 L610.1 911.2 L609.1 909.6 L608.4 907.9" fill="none" stroke="#202020" stroke-width="1.12" stroke-linejoin="round"/>
<path d="M606 896.5 L620 888.5" fill="none" stroke="#202020" stroke-width="1.25" stroke-linejoin="round"/>
<path d="M606 896.5 L607 899.5 L609.5 899" fill="none" stroke="#202020" stroke-width="1.12" stroke-linejoin="round"/>
<line x1="618.4" y1="900" x2="619.6" y2="904" stroke="#202020" stroke-width="2.12"/>
<line x1="620.7" y1="899.1" x2="621.9" y2="903.1" stroke="#202020" stroke-width="2.12"/>
<line x1="623" y1="898.2" x2="624.2" y2="902.2" stroke="#202020" stroke-width="2.12"/>
<line x1="625.3" y1="897.3" x2="626.5" y2="901.3" stroke="#202020" stroke-width="2.12"/>
<line x1="627.6" y1="896.4" x2="628.8" y2="900.4" stroke="#202020" stroke-width="2.12"/>
<line x1="629.9" y1="895.5" x2="631.1" y2="899.5" stroke="#202020" stroke-width="2.12"/>
<path d="M617.5 900.5 L631.5 895 Q633.5 896.3 632.5 898.5 L618.5 904 Q616.5 902.7 617.5 900.5 Z" fill="none" stroke="#202020" stroke-width="1.12" stroke-linejoin="round"/>
<path d="M661.5 914.5 L666.5 916.5 L671.5 922.5" fill="none" stroke="#202020" stroke-width="1.25" stroke-linejoin="round"/>
<path d="M664 913.2 L669 915.5 L673.5 921" fill="none" stroke="#202020" stroke-width="1.12" stroke-linejoin="round"/>
<path d="M672 922.2 Q680 917 683.5 909" fill="none" stroke="#202020" stroke-width="1.12" stroke-linejoin="round"/>
<ellipse cx="627.5" cy="887" rx="0.9" ry="0.7" fill="#fff" stroke="#202020" stroke-width="1"/>
<path d="M603.8 840.7 L603.8 852.7 L603.8 852.7 L604.1 853.2 L605 853.6 L606.3 853.7 L607.5 853.6 L608.5 853.2 L608.8 852.7 L608.8 852.7 L608.8 840.7" fill="#fff" stroke="#202020" stroke-width="1.38" stroke-linejoin="round"/>
<path d="M603.8 842.7 L604.1 843.2 L605 843.5 L606.3 843.6 L607.5 843.5 L608.5 843.2 L608.8 842.7" fill="none" stroke="#202020" stroke-width="1" stroke-linejoin="round"/>
<path d="M603.8 845.3 L604.1 845.8 L605 846.1 L606.3 846.2 L607.5 846.1 L608.5 845.8 L608.8 845.3" fill="none" stroke="#202020" stroke-width="1" stroke-linejoin="round"/>
<path d="M603.8 847.9 L604.1 848.4 L605 848.7 L606.3 848.8 L607.5 848.7 L608.5 848.4 L608.8 847.9" fill="none" stroke="#202020" stroke-width="1" stroke-linejoin="round"/>
<path d="M603.8 850.5 L604.1 851 L605 851.3 L606.3 851.4 L607.5 851.3 L608.5 851 L608.8 850.5" fill="none" stroke="#202020" stroke-width="1" stroke-linejoin="round"/>
<path d="M600.8 838.7 L600.8 840.7 L600.8 841 L601 841.3 L601.2 841.6 L601.5 841.9 L601.9 842.2 L602.4 842.4 L603 842.6 L603.5 842.8 L604.2 842.9 L604.9 843 L605.6 843.1 L606.3 843.1 L607 843.1 L607.7 843 L608.4 842.9 L609 842.8 L609.6 842.6 L610.2 842.4 L610.7 842.2 L611.1 841.9 L611.4 841.6 L611.6 841.3 L611.8 841 L611.8 840.7 L611.8 838.7" fill="#fff" stroke="#202020" stroke-width="1.38" stroke-linejoin="round"/>
<ellipse cx="606.3" cy="838.7" rx="5.5" ry="2.4" fill="#fff" stroke="#202020" stroke-width="1.38"/>
<ellipse cx="606.3" cy="838.7" rx="2.8" ry="1.1" fill="#fff" stroke="#202020" stroke-width="1"/>
<path d="M679.1 822.5 L679.1 837.5 L679.1 837.5 L679.5 838 L680.4 838.4 L681.8 838.5 L683.1 838.4 L684.1 838 L684.5 837.5 L684.5 837.5 L684.5 822.5" fill="#fff" stroke="#202020" stroke-width="1.38" stroke-linejoin="round"/>
<path d="M679.1 824.5 L679.5 825 L680.4 825.3 L681.8 825.4 L683.1 825.3 L684.1 825 L684.5 824.5" fill="none" stroke="#202020" stroke-width="1" stroke-linejoin="round"/>
<path d="M679.1 827.1 L679.5 827.6 L680.4 827.9 L681.8 828 L683.1 827.9 L684.1 827.6 L684.5 827.1" fill="none" stroke="#202020" stroke-width="1" stroke-linejoin="round"/>
<path d="M679.1 829.7 L679.5 830.2 L680.4 830.5 L681.8 830.6 L683.1 830.5 L684.1 830.2 L684.5 829.7" fill="none" stroke="#202020" stroke-width="1" stroke-linejoin="round"/>
<path d="M679.1 832.3 L679.5 832.8 L680.4 833.1 L681.8 833.2 L683.1 833.1 L684.1 832.8 L684.5 832.3" fill="none" stroke="#202020" stroke-width="1" stroke-linejoin="round"/>
<path d="M679.1 834.9 L679.5 835.4 L680.4 835.7 L681.8 835.8 L683.1 835.7 L684.1 835.4 L684.5 834.9" fill="none" stroke="#202020" stroke-width="1" stroke-linejoin="round"/>
<path d="M676.2 819.7 L676.2 822.5 L676.2 822.8 L676.4 823.1 L676.6 823.4 L677 823.7 L677.4 824 L677.8 824.2 L678.4 824.4 L679 824.6 L679.7 824.7 L680.4 824.8 L681.1 824.9 L681.8 824.9 L682.5 824.9 L683.2 824.8 L683.9 824.7 L684.6 824.6 L685.2 824.4 L685.8 824.2 L686.2 824 L686.6 823.7 L687 823.4 L687.2 823.1 L687.4 822.8 L687.4 822.5 L687.4 819.7" fill="#fff" stroke="#202020" stroke-width="1.38" stroke-linejoin="round"/>
<ellipse cx="681.8" cy="819.7" rx="5.6" ry="2.4" fill="#fff" stroke="#202020" stroke-width="1.38"/>
<ellipse cx="681.8" cy="819.7" rx="2.8" ry="1.1" fill="#fff" stroke="#202020" stroke-width="1"/>
<path d="M678 852 L678 862.5 L678 862.5 L678.5 863.2 L679.9 863.7 L681.8 863.9 L683.7 863.7 L685.1 863.2 L685.6 862.5 L685.6 862.5 L685.6 852" fill="#fff" stroke="#202020" stroke-width="1.38" stroke-linejoin="round"/>
<path d="M675 849.6 L675 852 L675.1 852.4 L675.2 852.8 L675.5 853.2 L675.9 853.6 L676.4 853.9 L677 854.3 L677.7 854.5 L678.4 854.8 L679.2 855 L680 855.1 L680.9 855.2 L681.8 855.2 L682.7 855.2 L683.6 855.1 L684.4 855 L685.2 854.8 L685.9 854.5 L686.6 854.3 L687.2 853.9 L687.7 853.6 L688.1 853.2 L688.4 852.8 L688.5 852.4 L688.6 852 L688.6 849.6" fill="#fff" stroke="#202020" stroke-width="1.38" stroke-linejoin="round"/>
<ellipse cx="681.8" cy="849.6" rx="6.8" ry="3.2" fill="#fff" stroke="#202020" stroke-width="1.38"/>
<ellipse cx="681.8" cy="849.6" rx="3.2" ry="1.5" fill="#fff" stroke="#202020" stroke-width="1.25"/>
<path d="M577.2 1022 Q577 1005 592 990 L588.2 990.6 L591 980.1 L602.2 974.5 L611.5 979 L608 984 Q640 970 676 984 L688 996 L689 1012 L699.5 1013.2 Q700.5 1021 696 1028 Q686 1042 650 1046 Q600 1048 582 1028 Q577.5 1023 577.2 1017 Z" fill="#fff" stroke="#202020" stroke-width="1.38" stroke-linejoin="round"/>
<path d="M577.2 1017 L577.2 1022 Q578 1030 590 1038 Q610 1050.5 640 1050.5 Q672 1050 690 1038 Q698 1031 699.5 1018" fill="#fff" stroke="#202020" stroke-width="1.38" stroke-linejoin="round"/>
<path d="M577.2 1017 Q577 1000 592 990 L588.2 990.6 L591 980.1 L602.2 974.5 L611.5 979 L608 984 Q640 970 676 984 L688 996 L689 1012 L699.5 1013.2 Q700.5 1021 696 1028 Q686 1042 650 1046 Q600 1048 582 1028 Q577.5 1023 577.2 1017 Z" fill="#fff" stroke="#202020" stroke-width="1.38" stroke-linejoin="round"/>
<ellipse cx="586.8" cy="1023.6" rx="2" ry="1.3" fill="#fff" stroke="#202020" stroke-width="1.12"/>
<ellipse cx="689.5" cy="1023.6" rx="2" ry="1.3" fill="#fff" stroke="#202020" stroke-width="1.12"/>
<ellipse cx="616.7" cy="1040" rx="2" ry="1.3" fill="#fff" stroke="#202020" stroke-width="1.12"/>
<path d="M591 980.1 L595 986 L589.5 991.5" fill="none" stroke="#202020" stroke-width="1.25" stroke-linejoin="round"/>
<path d="M586.8 1003 L586.8 1010.5 L587.2 1013.9 L588.6 1017.2 L590.7 1020.4 L593.7 1023.5 L597.5 1026.3 L601.9 1028.9 L607 1031.1 L612.6 1033 L618.7 1034.5 L625.1 1035.6 L631.8 1036.3 L638.5 1036.5 L645.2 1036.3 L651.9 1035.6 L658.3 1034.5 L664.4 1033 L670 1031.1 L675.1 1028.9 L679.5 1026.3 L683.3 1023.5 L686.3 1020.4 L688.4 1017.2 L689.8 1013.9 L690.2 1010.5 L690.2 1003" fill="#fff" stroke="#202020" stroke-width="1.38" stroke-linejoin="round"/>
<ellipse cx="638.5" cy="1003" rx="51.7" ry="26" fill="#fff" stroke="#202020" stroke-width="1.38"/>
<path d="M689.4 1017 L688.7 1018.8 L687.7 1020.5 L686.4 1022.2 L685 1023.9 L683.3 1025.5 L681.4 1027 L679.2 1028.5 L676.9 1029.9 L674.4 1031.2 L671.7 1032.4 L668.9 1033.5 L665.9 1034.5 L662.8 1035.5 L659.5 1036.3 L656.2 1036.9 L652.8 1037.5 L649.2 1037.9 L645.7 1038.2 L642.1 1038.4 L638.5 1038.5 L634.9 1038.4 L631.3 1038.2 L627.8 1037.9 L624.2 1037.5 L620.8 1036.9 L617.5 1036.3 L614.2 1035.5 L611.1 1034.5 L608.1 1033.5 L605.3 1032.4 L602.6 1031.2 L600.1 1029.9 L597.8 1028.5 L595.6 1027 L593.7 1025.5 L592 1023.9 L590.6 1022.2 L589.3 1020.5 L588.3 1018.8 L587.6 1017" fill="none" stroke="#202020" stroke-width="1.25" stroke-linejoin="round"/>
<ellipse cx="638.5" cy="1002.5" rx="47.5" ry="23" fill="#fff" stroke="#202020" stroke-width="1.25"/>
<path d="M684.3 1007.9 L683.9 1009.5 L683.2 1011.1 L682.3 1012.7 L681.2 1014.2 L679.8 1015.7 L678.1 1017.2 L676.3 1018.5 L674.2 1019.8 L672 1021.1 L669.6 1022.2 L667 1023.3 L664.2 1024.2 L661.3 1025.1 L658.3 1025.9 L655.2 1026.5 L651.9 1027 L648.7 1027.5 L645.3 1027.8 L641.9 1027.9 L638.5 1028 L635.1 1027.9 L631.7 1027.8 L628.3 1027.5 L625.1 1027 L621.8 1026.5 L618.7 1025.9 L615.7 1025.1 L612.8 1024.2 L610 1023.3 L607.4 1022.2 L605 1021.1 L602.8 1019.8 L600.7 1018.5 L598.9 1017.2 L597.2 1015.7 L595.8 1014.2 L594.7 1012.7 L593.8 1011.1 L593.1 1009.5 L592.7 1007.9" fill="none" stroke="#202020" stroke-width="1.25" stroke-linejoin="round"/>
<ellipse cx="613.6" cy="1016" rx="3.2" ry="1.2" fill="#fff" stroke="#202020" stroke-width="1.12" transform="rotate(25 613.6 1016)"/>
<ellipse cx="637.5" cy="1021.8" rx="3.6" ry="1.1" fill="#fff" stroke="#202020" stroke-width="1.12"/>
<path d="M598.5 1000.5 L598.5 1005 L601.3 1005 L601.3 1000.5" fill="#fff" stroke="#202020" stroke-width="1.12" stroke-linejoin="round"/>
<ellipse cx="599.9" cy="1000.5" rx="1.4" ry="0.8" fill="#fff" stroke="#202020" stroke-width="1.12"/>
<path d="M605 995.5 L605 1001 L605.3 1003.1 L606.1 1005.2 L607.5 1007.3 L609.4 1009.2 L611.7 1011 L614.5 1012.6 L617.7 1014 L621.2 1015.2 L625.1 1016.2 L629.1 1016.8 L633.3 1017.3 L637.5 1017.4 L641.7 1017.3 L645.9 1016.8 L649.9 1016.2 L653.8 1015.2 L657.3 1014 L660.5 1012.6 L663.3 1011 L665.6 1009.2 L667.5 1007.3 L668.9 1005.2 L669.7 1003.1 L670 1001 L670 995.5" fill="#fff" stroke="#202020" stroke-width="1.38" stroke-linejoin="round"/>
<ellipse cx="637.5" cy="995.5" rx="32.5" ry="16.4" fill="#fff" stroke="#202020" stroke-width="1.38"/>
<path d="M663.8 1007.6 L662.9 1008.6 L661.7 1009.5 L660.4 1010.4 L658.9 1011.2 L657.3 1012 L655.5 1012.7 L653.6 1013.3 L651.5 1013.9 L649.3 1014.4 L647.1 1014.8 L644.7 1015.1 L642.4 1015.3 L639.9 1015.5 L637.5 1015.5 L635.1 1015.5 L632.6 1015.3 L630.3 1015.1 L627.9 1014.8 L625.7 1014.4 L623.5 1013.9" fill="none" stroke="#202020" stroke-width="1.25" stroke-linejoin="round"/>
<ellipse cx="638.5" cy="996" rx="17.6" ry="9" fill="#fff" stroke="#202020" stroke-width="1.38"/>
<path d="M621.5 996.8 L622.1 995.9 L622.9 995 L623.9 994.2 L625 993.5 L626.3 992.8 L627.8 992.2 L629.4 991.6 L631.1 991.2 L632.8 990.9 L634.7 990.6 L636.6 990.5 L638.5 990.4 L640.4 990.5 L642.3 990.6 L644.2 990.9 L645.9 991.2 L647.6 991.6 L649.2 992.2 L650.7 992.8 L652 993.5 L653.1 994.2 L654.1 995 L654.9 995.9 L655.5 996.8" fill="none" stroke="#202020" stroke-width="1.25" stroke-linejoin="round"/>
<path d="M624 998.5 L624.7 998 L625.5 997.4 L626.5 996.9 L627.5 996.4 L628.7 996 L629.9 995.6 L631.2 995.3 L632.6 995 L634 994.8 L635.5 994.6 L637 994.5 L638.5 994.5 L640 994.5 L641.5 994.6 L643 994.8 L644.4 995 L645.8 995.3 L647.1 995.6 L648.3 996 L649.5 996.4 L650.5 996.9 L651.5 997.4 L652.3 998 L653 998.5" fill="none" stroke="#202020" stroke-width="1" stroke-linejoin="round"/>
<path d="M603 986.5 L612 982.5 L614 984.5 L605.5 989 Z" fill="#fff" stroke="#202020" stroke-width="1.12" stroke-linejoin="round"/>
<path d="M686.9 970.8 L686.9 984.8 L686.9 984.8 L687.3 985.3 L688.2 985.7 L689.6 985.8 L691 985.7 L691.9 985.3 L692.3 984.8 L692.3 984.8 L692.3 970.8" fill="#fff" stroke="#202020" stroke-width="1.38" stroke-linejoin="round"/>
<path d="M686.9 972.8 L687.3 973.2 L688.2 973.6 L689.6 973.7 L691 973.6 L691.9 973.2 L692.3 972.8" fill="none" stroke="#202020" stroke-width="1" stroke-linejoin="round"/>
<path d="M686.9 975.4 L687.3 975.9 L688.2 976.2 L689.6 976.3 L691 976.2 L691.9 975.9 L692.3 975.4" fill="none" stroke="#202020" stroke-width="1" stroke-linejoin="round"/>
<path d="M686.9 978 L687.3 978.5 L688.2 978.8 L689.6 978.9 L691 978.8 L691.9 978.5 L692.3 978" fill="none" stroke="#202020" stroke-width="1" stroke-linejoin="round"/>
<path d="M686.9 980.6 L687.3 981 L688.2 981.4 L689.6 981.5 L691 981.4 L691.9 981 L692.3 980.6" fill="none" stroke="#202020" stroke-width="1" stroke-linejoin="round"/>
<path d="M686.9 983.2 L687.3 983.6 L688.2 984 L689.6 984.1 L691 984 L691.9 983.6 L692.3 983.2" fill="none" stroke="#202020" stroke-width="1" stroke-linejoin="round"/>
<path d="M684 968 L684 970.8 L684 971.1 L684.2 971.4 L684.4 971.7 L684.8 972 L685.2 972.3 L685.6 972.5 L686.2 972.7 L686.8 972.9 L687.5 973 L688.2 973.1 L688.9 973.2 L689.6 973.2 L690.3 973.2 L691 973.1 L691.7 973 L692.4 972.9 L693 972.7 L693.6 972.5 L694 972.3 L694.4 972 L694.8 971.7 L695 971.4 L695.2 971.1 L695.2 970.8 L695.2 968" fill="#fff" stroke="#202020" stroke-width="1.38" stroke-linejoin="round"/>
<ellipse cx="689.6" cy="968" rx="5.6" ry="2.4" fill="#fff" stroke="#202020" stroke-width="1.38"/>
<ellipse cx="689.6" cy="968" rx="2.8" ry="1.1" fill="#fff" stroke="#202020" stroke-width="1"/>
<path d="M618.6 972.6 L618.1 972.7 L617.5 972.6 L616.9 972.2 L616.3 971.7 L615.8 970.9 L615.3 970.1 L615 969.2 L614.8 968.3 L614.7 967.5 L614.8 966.8 L615 966.3 L615.4 966 L623.9 962 L624.4 961.9 L625 962 L625.6 962.4 L626.2 962.9 L626.7 963.7 L627.2 964.5 L627.5 965.4 L627.7 966.3 L627.8 967.1 L627.7 967.8 L627.5 968.3 L627.1 968.6 Z" fill="#fff" stroke="#202020" stroke-width="1.38" stroke-linejoin="round"/>
<ellipse cx="625.5" cy="965.3" rx="1.9" ry="3.7" fill="#fff" stroke="#202020" stroke-width="1.38" transform="rotate(-25.2 625.5 965.3)"/>
<line x1="616.2" y1="965.5" x2="619.6" y2="972.1" stroke="#202020" stroke-width="1.12"/>
<line x1="618.6" y1="964.4" x2="622" y2="971" stroke="#202020" stroke-width="1.12"/>
<line x1="621" y1="963.3" x2="624.4" y2="969.9" stroke="#202020" stroke-width="1.12"/>
<path d="M583.8 1068.5 L583.8 1078.5 L583.8 1078.8 L584 1079 L584.2 1079.3 L584.5 1079.5 L584.8 1079.7 L585.2 1079.9 L585.7 1080.1 L586.2 1080.2 L586.8 1080.3 L587.4 1080.4 L588.1 1080.5 L588.7 1080.5 L589.3 1080.5 L590 1080.4 L590.6 1080.3 L591.2 1080.2 L591.7 1080.1 L592.2 1079.9 L592.6 1079.7 L592.9 1079.5 L593.2 1079.3 L593.4 1079 L593.6 1078.8 L593.6 1078.5 L593.6 1068.5" fill="#fff" stroke="#202020" stroke-width="1.38" stroke-linejoin="round"/>
<ellipse cx="588.7" cy="1068.5" rx="4.9" ry="2" fill="#fff" stroke="#202020" stroke-width="1.38"/>
<path d="M583.8 1071 L584.2 1071.7 L585.2 1072.3 L586.8 1072.7 L588.7 1072.8 L590.6 1072.7 L592.2 1072.3 L593.2 1071.7 L593.6 1071" fill="none" stroke="#202020" stroke-width="1.12" stroke-linejoin="round"/>
<path d="M583.8 1073.6 L584.2 1074.3 L585.2 1074.9 L586.8 1075.3 L588.7 1075.4 L590.6 1075.3 L592.2 1074.9 L593.2 1074.3 L593.6 1073.6" fill="none" stroke="#202020" stroke-width="1.12" stroke-linejoin="round"/>
<path d="M583.8 1076.2 L584.2 1076.9 L585.2 1077.5 L586.8 1077.9 L588.7 1078 L590.6 1077.9 L592.2 1077.5 L593.2 1076.9 L593.6 1076.2" fill="none" stroke="#202020" stroke-width="1.12" stroke-linejoin="round"/>
<path d="M452.8 795 L452.8 805.5 L456.2 805.5 L456.2 795" fill="#333" stroke="#202020" stroke-width="1" stroke-linejoin="round"/>
<path d="M451.4 790.8 L451.4 794.5 L451.4 794.7 L451.5 794.9 L451.6 795 L451.8 795.2 L452 795.4 L452.3 795.5 L452.6 795.6 L452.9 795.7 L453.3 795.8 L453.7 795.9 L454.1 795.9 L454.5 795.9 L454.9 795.9 L455.3 795.9 L455.7 795.8 L456.1 795.7 L456.4 795.6 L456.7 795.5 L457 795.4 L457.2 795.2 L457.4 795 L457.5 794.9 L457.6 794.7 L457.6 794.5 L457.6 790.8" fill="#444" stroke="#202020" stroke-width="1.38" stroke-linejoin="round"/>
<ellipse cx="454.5" cy="790.8" rx="3.1" ry="1.4" fill="#444" stroke="#202020" stroke-width="1.38"/>
<path d="M444.5 822 L454.4 817.5 L464.6 823.5 L467 831 L463.4 833.4 L458 828 L447.5 826.5 Z" fill="#fff" stroke="#202020" stroke-width="1.38" stroke-linejoin="round"/>
<path d="M464.6 823.5 L461 825.5 L463.4 833.4" fill="none" stroke="#202020" stroke-width="1.12" stroke-linejoin="round"/>
<line x1="461" y1="825.5" x2="458" y2="828" stroke="#202020" stroke-width="1.12"/>
<ellipse cx="454.5" cy="821.5" rx="1.6" ry="1" fill="#fff" stroke="#202020" stroke-width="1"/>
<path d="M441.5 846 L455 839 L461.6 842 L461.6 850.5 L448 857 L441.5 854 Z" fill="#fff" stroke="#202020" stroke-width="1.38" stroke-linejoin="round"/>
<path d="M441.5 846 L448 849 L461.6 842" fill="none" stroke="#202020" stroke-width="1.25" stroke-linejoin="round"/>
<line x1="448" y1="849" x2="448" y2="857" stroke="#202020" stroke-width="1.25"/>
<path d="M450.5 847.5 L450.5 851.5 L457 848.5 L457 844.5" fill="none" stroke="#202020" stroke-width="1.12" stroke-linejoin="round"/>
<ellipse cx="444.8" cy="850.5" rx="1.6" ry="1.9" fill="#fff" stroke="#202020" stroke-width="1.12"/>
<ellipse cx="454.5" cy="842.3" rx="1.6" ry="1" fill="#fff" stroke="#202020" stroke-width="1"/>
<path d="M449.9 864.6 L449.9 866.8 L449.9 867 L450 867.3 L450.2 867.5 L450.4 867.8 L450.7 868 L451 868.1 L451.3 868.3 L451.8 868.4 L452.2 868.6 L452.6 868.6 L453.1 868.7 L453.6 868.7 L454.1 868.7 L454.6 868.6 L455 868.6 L455.5 868.4 L455.9 868.3 L456.2 868.1 L456.5 868 L456.8 867.8 L457 867.5 L457.2 867.3 L457.3 867 L457.3 866.8 L457.3 864.6" fill="#fff" stroke="#202020" stroke-width="1.38" stroke-linejoin="round"/>
<ellipse cx="453.6" cy="864.6" rx="3.7" ry="1.9" fill="#fff" stroke="#202020" stroke-width="1.38"/>
<ellipse cx="453.6" cy="864.6" rx="2" ry="1" fill="#444" stroke="#202020" stroke-width="1"/>
<path d="M424 858 L426.5 855.6 L430.5 855.8 L432.5 858.5 L432.5 861.5 L430 864 L426 863.8 L424 861.3 Z" fill="#555" stroke="#202020" stroke-width="1.25" stroke-linejoin="round"/>
<ellipse cx="428.3" cy="858.3" rx="2.2" ry="1.3" fill="#fff" stroke="#202020" stroke-width="1"/>
<path d="M414.8 865.2 L405 868.5 Q400 870.5 397 875 L392.5 882.5 Q391 885 388 886.5 L364 896 L365.6 899.8 L390 890 Q394 888 396 884.5 L400.5 877 Q402.5 873.8 406.5 872.3 L416 869 Z" fill="#fff" stroke="#202020" stroke-width="1.38" stroke-linejoin="round"/>
<ellipse cx="415.4" cy="867.1" rx="1" ry="2" fill="#fff" stroke="#202020" stroke-width="1.12" transform="rotate(-20 415.4 867.1)"/>
<ellipse cx="364.8" cy="897.9" rx="1" ry="2.1" fill="#fff" stroke="#202020" stroke-width="1.12" transform="rotate(-22 364.8 897.9)"/>
<line x1="407.6" y1="867.8" x2="408.6" y2="871.4" stroke="#202020" stroke-width="0.88"/>
<line x1="410.5" y1="866.9" x2="411.5" y2="870.5" stroke="#202020" stroke-width="0.88"/>
<line x1="413.4" y1="865.9" x2="414.4" y2="869.5" stroke="#202020" stroke-width="0.88"/>
<path d="M357 898 L330.5 910 Q326.5 912.5 328.5 917 Q331 922 335.5 920.8 L359.6 904.8 Q360.5 900 357 898 Z" fill="#fff" stroke="#202020" stroke-width="1.38" stroke-linejoin="round"/>
<ellipse cx="331.8" cy="915.6" rx="3.6" ry="5.6" fill="#fff" stroke="#202020" stroke-width="1.38" transform="rotate(-25 331.8 915.6)"/>
<ellipse cx="358.4" cy="901.4" rx="2" ry="3.5" fill="#fff" stroke="#202020" stroke-width="1.12" transform="rotate(-25 358.4 901.4)"/>
<path d="M462.3 856.2 L462.1 856 L462 855.7 L462 855.2 L462.1 854.6 L462.3 854 L462.5 853.3 L462.9 852.7 L463.3 852.2 L463.7 851.8 L464.1 851.5 L464.4 851.3 L464.7 851.4 L505.2 871.4 L505.4 871.6 L505.5 871.9 L505.5 872.4 L505.4 873 L505.2 873.6 L505 874.3 L504.6 874.9 L504.2 875.4 L503.8 875.8 L503.4 876.1 L503.1 876.3 L502.8 876.2 Z" fill="#fff" stroke="#202020" stroke-width="1.38" stroke-linejoin="round"/>
<ellipse cx="504" cy="873.8" rx="1.1" ry="2.7" fill="#fff" stroke="#202020" stroke-width="1.38" transform="rotate(26.3 504 873.8)"/>
<path d="M462 851.2 L470 855 L470 858.5" fill="none" stroke="#202020" stroke-width="1.12" stroke-linejoin="round"/>
<line x1="462" y1="851.2" x2="461.8" y2="854.5" stroke="#202020" stroke-width="1.12"/>
<path d="M496 867.3 L503 870.7" fill="none" stroke="#202020" stroke-width="1.12" stroke-linejoin="round"/>
<path d="M515.1 885.1 L514.6 884.7 L514.3 884 L514.2 883.2 L514.3 882.2 L514.5 881.1 L515 880 L515.5 879 L516.2 878.1 L516.9 877.4 L517.7 877 L518.3 876.8 L518.9 876.9 L547.4 890.5 L547.9 890.9 L548.2 891.6 L548.3 892.4 L548.2 893.4 L548 894.5 L547.5 895.6 L547 896.6 L546.3 897.5 L545.6 898.2 L544.8 898.6 L544.2 898.8 L543.6 898.7 Z" fill="#fff" stroke="#202020" stroke-width="1.38" stroke-linejoin="round"/>
<ellipse cx="545.5" cy="894.6" rx="2.2" ry="4.5" fill="#fff" stroke="#202020" stroke-width="1.38" transform="rotate(25.5 545.5 894.6)"/>
<ellipse cx="545.5" cy="894.6" rx="1.3" ry="2.7" fill="#fff" stroke="#202020" stroke-width="1.12" transform="rotate(25 545.5 894.6)"/>
<path d="M497.5 797 L513.5 789.5 L520 793.5 L520 803.5 L504 811 L497.5 807.5 Z" fill="#fff" stroke="#202020" stroke-width="1.38" stroke-linejoin="round"/>
<path d="M497.5 797 L504 801 L520 793.5" fill="none" stroke="#202020" stroke-width="1.25" stroke-linejoin="round"/>
<line x1="504" y1="801" x2="504" y2="811" stroke="#202020" stroke-width="1.25"/>
<path d="M513.5 789.5 L522 785.5 L528 789 L520 793.5 Z" fill="#fff" stroke="#202020" stroke-width="1.38" stroke-linejoin="round"/>
<path d="M528 789 L528 797 L520 801" fill="none" stroke="#202020" stroke-width="1.25" stroke-linejoin="round"/>
<path d="M525.6 790.9 L525.2 790.9 L524.8 790.8 L524.4 790.6 L524 790.1 L523.6 789.6 L523.3 789 L523.1 788.4 L522.9 787.8 L522.9 787.2 L523 786.7 L523.2 786.4 L523.4 786.1 L528.9 783.6 L529.3 783.6 L529.7 783.7 L530.1 783.9 L530.5 784.4 L530.9 784.9 L531.2 785.5 L531.4 786.1 L531.6 786.7 L531.6 787.3 L531.5 787.8 L531.3 788.1 L531.1 788.4 Z" fill="#fff" stroke="#202020" stroke-width="1.38" stroke-linejoin="round"/>
<ellipse cx="530" cy="786" rx="1.3" ry="2.6" fill="#fff" stroke="#202020" stroke-width="1.38" transform="rotate(-24.4 530 786)"/>
<path d="M524.5 785.8 L526 784.5 L531 785" fill="none" stroke="#202020" stroke-width="1" stroke-linejoin="round"/>
<path d="M497.5 802 L492.5 804.5 L489.5 807.5 L488 806 M492.5 804.5 L492.5 808 L497.5 806" fill="none" stroke="#202020" stroke-width="1.5" stroke-linejoin="round"/>
<ellipse cx="489.3" cy="807.8" rx="1.5" ry="1.3" fill="#444" stroke="#202020" stroke-width="1.25"/>
<path d="M476.8 931.9 L476.6 931.8 L476.5 931.6 L476.5 931.3 L476.5 930.9 L476.6 930.5 L476.8 930.1 L477 929.8 L477.2 929.5 L477.5 929.2 L477.8 929.1 L478 929 L478.2 929.1 L500.2 940.1 L500.4 940.2 L500.5 940.4 L500.5 940.7 L500.5 941.1 L500.4 941.5 L500.2 941.9 L500 942.2 L499.8 942.5 L499.5 942.8 L499.2 942.9 L499 943 L498.8 942.9 Z" fill="#fff" stroke="#202020" stroke-width="1.38" stroke-linejoin="round"/>
<ellipse cx="499.5" cy="941.5" rx="0.8" ry="1.6" fill="#fff" stroke="#202020" stroke-width="1.38" transform="rotate(26.6 499.5 941.5)"/>
<line x1="494" y1="937" x2="495.5" y2="941.2" stroke="#202020" stroke-width="1"/>
<path d="M506 928.5 L510.5 926 L518.6 930 L518.6 936 L514.8 938 L514.8 953 L510.2 955.4 L506 953.2 Z" fill="#fff" stroke="#202020" stroke-width="1.38" stroke-linejoin="round"/>
<path d="M506 928.5 L514 932.5 L518.6 930" fill="none" stroke="#202020" stroke-width="1.25" stroke-linejoin="round"/>
<line x1="514" y1="932.5" x2="514" y2="938.4" stroke="#202020" stroke-width="1.25"/>
<path d="M510.2 930.6 L510.2 955.4" fill="none" stroke="#202020" stroke-width="1.25" stroke-linejoin="round"/>
<ellipse cx="512.5" cy="948" rx="1.3" ry="1.5" fill="#fff" stroke="#202020" stroke-width="1"/>
<path d="M524 938.1 L528.5 935.6 L536.6 939.6 L536.6 945.6 L532.8 947.6 L532.8 962.6 L528.2 965 L524 962.8 Z" fill="#fff" stroke="#202020" stroke-width="1.38" stroke-linejoin="round"/>
<path d="M524 938.1 L532 942.1 L536.6 939.6" fill="none" stroke="#202020" stroke-width="1.25" stroke-linejoin="round"/>
<line x1="532" y1="942.1" x2="532" y2="948" stroke="#202020" stroke-width="1.25"/>
<path d="M528.2 940.2 L528.2 965" fill="none" stroke="#202020" stroke-width="1.25" stroke-linejoin="round"/>
<ellipse cx="530.5" cy="957.6" rx="1.3" ry="1.5" fill="#fff" stroke="#202020" stroke-width="1"/>
<ellipse cx="543.5" cy="963.9" rx="2.6" ry="2.1" fill="#fff" stroke="#202020" stroke-width="1.25" transform="rotate(-30 543.5 963.9)"/>
<ellipse cx="297.1" cy="1064.9" rx="1.9" ry="1.9" fill="#444" stroke="#202020" stroke-width="1"/>
<path d="M309.1 1067.9 L309.1 1082 L314.5 1082 L315.4 1074 L322 1074.5" fill="#fff" stroke="#202020" stroke-width="1.38" stroke-linejoin="round"/>
<path d="M309.1 1067.9 L328 1057.4 L341.5 1063.4 L322 1074.5 L315.4 1071.2 Z" fill="#fff" stroke="#202020" stroke-width="1.38" stroke-linejoin="round"/>
<line x1="312.5" y1="1069.6" x2="312.5" y2="1081.5" stroke="#202020" stroke-width="1"/>
<ellipse cx="323.5" cy="1071" rx="2.8" ry="1.2" fill="#fff" stroke="#202020" stroke-width="1.12" transform="rotate(-28 323.5 1071)"/>
<ellipse cx="333.4" cy="1065" rx="2.8" ry="1.2" fill="#fff" stroke="#202020" stroke-width="1.12" transform="rotate(-28 333.4 1065)"/>
<path d="M332 1079 L332 1082.6 L334.8 1082.6 L334.8 1079" fill="#444" stroke="#202020" stroke-width="1" stroke-linejoin="round"/>
<ellipse cx="333.4" cy="1077.5" rx="2.2" ry="1.6" fill="#444" stroke="#202020" stroke-width="1"/>
<path d="M354.5 1097.5 L353 1110 Q355 1113.8 359.5 1114 Q364 1113.6 365 1111.5 L367.8 1099.5 Z" fill="#fff" stroke="#202020" stroke-width="1.38" stroke-linejoin="round"/>
<ellipse cx="361.2" cy="1098.3" rx="6.7" ry="2.6" fill="#fff" stroke="#202020" stroke-width="1.38" transform="rotate(10 361.2 1098.3)"/>
<path d="M394.5 1115 L401.5 1118.2 Q402.8 1119.8 401.5 1121.3 L394.5 1118.3 Q393 1116.6 394.5 1115 Z" fill="#333" stroke="#202020" stroke-width="1" stroke-linejoin="round"/>
<path d="M358.8 1136.9 L358.4 1136.6 L358.2 1136.2 L358.2 1135.6 L358.2 1134.8 L358.3 1134.1 L358.6 1133.2 L359 1132.5 L359.4 1131.8 L359.9 1131.2 L360.4 1130.9 L360.8 1130.7 L361.2 1130.7 L379.7 1138.2 L380.1 1138.5 L380.3 1138.9 L380.3 1139.5 L380.3 1140.3 L380.2 1141 L379.9 1141.9 L379.5 1142.6 L379.1 1143.3 L378.6 1143.9 L378.1 1144.2 L377.7 1144.4 L377.3 1144.4 Z" fill="#fff" stroke="#202020" stroke-width="1.38" stroke-linejoin="round"/>
<ellipse cx="378.5" cy="1141.3" rx="1.5" ry="3.3" fill="#fff" stroke="#202020" stroke-width="1.38" transform="rotate(22.1 378.5 1141.3)"/>
<ellipse cx="378.5" cy="1141.3" rx="1.5" ry="3.3" fill="#fff" stroke="#202020" stroke-width="1.25" transform="rotate(22 378.5 1141.3)"/>
<path d="M318.6 1117.2 L318.2 1116.9 L318 1116.3 L318 1115.5 L318.1 1114.6 L318.4 1113.6 L318.8 1112.6 L319.4 1111.7 L320 1110.9 L320.7 1110.2 L321.3 1109.8 L321.9 1109.7 L322.4 1109.8 L361.9 1130.1 L362.3 1130.4 L362.5 1131 L362.5 1131.8 L362.4 1132.7 L362.1 1133.7 L361.7 1134.7 L361.1 1135.6 L360.5 1136.4 L359.8 1137.1 L359.2 1137.5 L358.6 1137.6 L358.1 1137.5 Z" fill="#fff" stroke="#202020" stroke-width="1.38" stroke-linejoin="round"/>
<ellipse cx="360" cy="1133.8" rx="1.9" ry="4.2" fill="#fff" stroke="#202020" stroke-width="1.38" transform="rotate(27.2 360 1133.8)"/>
<path d="M301.3 1107.7 L301 1107.4 L300.8 1106.9 L300.7 1106.2 L300.9 1105.4 L301.1 1104.5 L301.5 1103.6 L302 1102.8 L302.6 1102.1 L303.2 1101.5 L303.7 1101.2 L304.3 1101 L304.7 1101.1 L322.2 1110.2 L322.5 1110.5 L322.7 1111 L322.8 1111.7 L322.6 1112.5 L322.4 1113.4 L322 1114.3 L321.5 1115.1 L320.9 1115.8 L320.3 1116.4 L319.8 1116.7 L319.2 1116.9 L318.8 1116.8 Z" fill="#fff" stroke="#202020" stroke-width="1.38" stroke-linejoin="round"/>
<line x1="304.2" y1="1102.1" x2="321.7" y2="1111.2" stroke="#202020" stroke-width="1.81"/>
<line x1="303.6" y1="1103.2" x2="321.1" y2="1112.3" stroke="#202020" stroke-width="1.81"/>
<line x1="303" y1="1104.4" x2="320.5" y2="1113.5" stroke="#202020" stroke-width="1.81"/>
<line x1="302.4" y1="1105.6" x2="319.9" y2="1114.7" stroke="#202020" stroke-width="1.81"/>
<line x1="301.8" y1="1106.7" x2="319.3" y2="1115.8" stroke="#202020" stroke-width="1.81"/>
<path d="M379 1153.4 L406 1139 L411.1 1142 L411.1 1152.5 L384.1 1166.6 L379 1163 Z" fill="#fff" stroke="#202020" stroke-width="1.38" stroke-linejoin="round"/>
<path d="M379 1153.4 L384.1 1156.6 L411.1 1142" fill="none" stroke="#202020" stroke-width="1.25" stroke-linejoin="round"/>
<line x1="384.1" y1="1156.6" x2="384.1" y2="1166.6" stroke="#202020" stroke-width="1.25"/>
<ellipse cx="397" cy="1154.6" rx="2.6" ry="2.8" fill="#fff" stroke="#202020" stroke-width="1.25"/>
<ellipse cx="387.3" cy="1159.3" rx="1.2" ry="1.3" fill="#fff" stroke="#202020" stroke-width="1"/>
<ellipse cx="405.8" cy="1149.6" rx="1.2" ry="1.3" fill="#fff" stroke="#202020" stroke-width="1"/>
<path d="M418.2 1151.3 L418 1151.2 L418 1150.9 L418 1150.6 L418 1150.2 L418.2 1149.8 L418.4 1149.4 L418.6 1149 L418.8 1148.6 L419.1 1148.3 L419.4 1148.1 L419.6 1148.1 L419.8 1148.1 L428.3 1152.4 L428.5 1152.5 L428.5 1152.8 L428.5 1153.1 L428.5 1153.5 L428.3 1153.9 L428.1 1154.3 L427.9 1154.7 L427.7 1155.1 L427.4 1155.4 L427.1 1155.6 L426.9 1155.6 L426.7 1155.6 Z" fill="#333" stroke="#202020" stroke-width="1.38" stroke-linejoin="round"/>
<path d="M426 1156.8 L425.7 1156.6 L425.6 1156.1 L425.5 1155.5 L425.7 1154.8 L425.9 1154.1 L426.2 1153.3 L426.7 1152.6 L427.1 1152 L427.7 1151.5 L428.2 1151.2 L428.6 1151.1 L429 1151.2 L432.8 1153.2 L433.1 1153.4 L433.2 1153.9 L433.3 1154.5 L433.1 1155.2 L432.9 1155.9 L432.6 1156.7 L432.1 1157.4 L431.7 1158 L431.1 1158.5 L430.6 1158.8 L430.2 1158.9 L429.8 1158.8 Z" fill="#333" stroke="#202020" stroke-width="1.38" stroke-linejoin="round"/>
<ellipse cx="431.3" cy="1156" rx="1.4" ry="3.2" fill="#333" stroke="#202020" stroke-width="1.38" transform="rotate(27.8 431.3 1156)"/>
<path d="M394 1177 L394 1183 L397 1183 L397 1177" fill="#fff" stroke="#202020" stroke-width="1.12" stroke-linejoin="round"/>
<path d="M391.8 1183 L391.8 1185.5 L391.8 1185.7 L391.9 1185.9 L392.1 1186.2 L392.3 1186.3 L392.6 1186.5 L392.9 1186.7 L393.2 1186.8 L393.6 1187 L394.1 1187.1 L394.5 1187.1 L395 1187.2 L395.5 1187.2 L396 1187.2 L396.5 1187.1 L396.9 1187.1 L397.4 1187 L397.8 1186.8 L398.1 1186.7 L398.4 1186.5 L398.7 1186.3 L398.9 1186.2 L399.1 1185.9 L399.2 1185.7 L399.2 1185.5 L399.2 1183" fill="#fff" stroke="#202020" stroke-width="1.38" stroke-linejoin="round"/>
<ellipse cx="395.5" cy="1183" rx="3.7" ry="1.7" fill="#fff" stroke="#202020" stroke-width="1.38"/>
<ellipse cx="395.5" cy="1183" rx="1.8" ry="0.9" fill="#444" stroke="#202020" stroke-width="0.88"/>
<path d="M429.4 1175.5 L429 1175.2 L428.7 1174.7 L428.6 1173.9 L428.7 1173.1 L428.9 1172.1 L429.2 1171.2 L429.7 1170.3 L430.3 1169.5 L430.9 1168.9 L431.5 1168.5 L432.1 1168.4 L432.6 1168.5 L445.1 1174.2 L445.5 1174.5 L445.8 1175 L445.9 1175.8 L445.8 1176.6 L445.6 1177.6 L445.3 1178.5 L444.8 1179.4 L444.2 1180.2 L443.6 1180.8 L443 1181.2 L442.4 1181.3 L441.9 1181.2 Z" fill="#fff" stroke="#202020" stroke-width="1.38" stroke-linejoin="round"/>
<ellipse cx="443.5" cy="1177.7" rx="1.9" ry="3.9" fill="#fff" stroke="#202020" stroke-width="1.38" transform="rotate(24.5 443.5 1177.7)"/>
<ellipse cx="443.7" cy="1177.8" rx="1.2" ry="2.3" fill="#fff" stroke="#202020" stroke-width="1" transform="rotate(24 443.7 1177.8)"/>
<ellipse cx="453.5" cy="1183" rx="1.3" ry="2.9" fill="none" stroke="#202020" stroke-width="1.38" transform="rotate(24 453.5 1183)"/>
<ellipse cx="455.9" cy="1184.2" rx="1.3" ry="2.9" fill="none" stroke="#202020" stroke-width="1.38" transform="rotate(24 455.9 1184.2)"/>
<ellipse cx="458.3" cy="1185.4" rx="1.3" ry="2.9" fill="none" stroke="#202020" stroke-width="1.38" transform="rotate(24 458.3 1185.4)"/>
<ellipse cx="460.7" cy="1186.6" rx="1.3" ry="2.9" fill="none" stroke="#202020" stroke-width="1.38" transform="rotate(24 460.7 1186.6)"/>
<ellipse cx="463.1" cy="1187.8" rx="1.3" ry="2.9" fill="none" stroke="#202020" stroke-width="1.38" transform="rotate(24 463.1 1187.8)"/>
<ellipse cx="465.5" cy="1189" rx="1.3" ry="2.9" fill="none" stroke="#202020" stroke-width="1.38" transform="rotate(24 465.5 1189)"/>
<ellipse cx="467.9" cy="1190.2" rx="1.3" ry="2.9" fill="none" stroke="#202020" stroke-width="1.38" transform="rotate(24 467.9 1190.2)"/>
<path d="M468.1 1207 Q468 1203.5 471 1202 L487 1193 L494.5 1196 L494.5 1206.5 L475 1217.6 L468.1 1214 Z" fill="#fff" stroke="#202020" stroke-width="1.38" stroke-linejoin="round"/>
<path d="M468.5 1205 Q471 1204 475 1207.5 L494.5 1196" fill="none" stroke="#202020" stroke-width="1.25" stroke-linejoin="round"/>
<line x1="475" y1="1207.5" x2="475" y2="1217.6" stroke="#202020" stroke-width="1.25"/>
<ellipse cx="484.2" cy="1196.6" rx="1.2" ry="0.8" fill="#fff" stroke="#202020" stroke-width="1"/>
<ellipse cx="490" cy="1198.4" rx="1.2" ry="0.8" fill="#fff" stroke="#202020" stroke-width="1"/>
<path d="M487.4 1222 L487.4 1232 L491.4 1232 L491.4 1222" fill="#fff" stroke="#202020" stroke-width="1.25" stroke-linejoin="round"/>
<ellipse cx="489.4" cy="1222" rx="2" ry="0.9" fill="#fff" stroke="#202020" stroke-width="1.12"/>
<path d="M487.4 1224.5 L487.7 1224.9 L488.4 1225.2 L489.4 1225.3 L490.4 1225.2 L491.1 1224.9 L491.4 1224.5" fill="none" stroke="#202020" stroke-width="1" stroke-linejoin="round"/>
<path d="M487.4 1226.9 L487.7 1227.3 L488.4 1227.6 L489.4 1227.7 L490.4 1227.6 L491.1 1227.3 L491.4 1226.9" fill="none" stroke="#202020" stroke-width="1" stroke-linejoin="round"/>
<path d="M487.4 1229.3 L487.7 1229.7 L488.4 1230 L489.4 1230.1 L490.4 1230 L491.1 1229.7 L491.4 1229.3" fill="none" stroke="#202020" stroke-width="1" stroke-linejoin="round"/>
<path d="M485.1 1232.5 L485.1 1235.5 L485.1 1235.7 L485.2 1236 L485.4 1236.2 L485.7 1236.5 L486 1236.7 L486.4 1236.8 L486.8 1237 L487.3 1237.1 L487.8 1237.3 L488.4 1237.3 L488.9 1237.4 L489.5 1237.4 L490.1 1237.4 L490.6 1237.3 L491.2 1237.3 L491.7 1237.1 L492.2 1237 L492.6 1236.8 L493 1236.7 L493.3 1236.5 L493.6 1236.2 L493.8 1236 L493.9 1235.7 L493.9 1235.5 L493.9 1232.5" fill="#fff" stroke="#202020" stroke-width="1.38" stroke-linejoin="round"/>
<ellipse cx="489.5" cy="1232.5" rx="4.4" ry="1.9" fill="#fff" stroke="#202020" stroke-width="1.38"/>
<path d="M470 1238.5 L470 1247.5 L473.3 1247.5 L473.3 1238.5 Z" fill="#fff" stroke="#202020" stroke-width="1.12" stroke-linejoin="round"/>
<path d="M418.7 1251.9 L418.3 1252 L417.8 1252 L417.3 1251.9 L416.7 1251.5 L416 1251 L415.4 1250.5 L414.9 1249.8 L414.5 1249.2 L414.2 1248.5 L414.1 1247.9 L414.1 1247.5 L414.3 1247.1 L436.3 1227.1 L436.7 1227 L437.2 1227 L437.7 1227.1 L438.3 1227.5 L439 1228 L439.6 1228.5 L440.1 1229.2 L440.5 1229.8 L440.8 1230.5 L440.9 1231.1 L440.9 1231.5 L440.7 1231.9 Z" fill="#fff" stroke="#202020" stroke-width="1.38" stroke-linejoin="round"/>
<path d="M436.4 1227.2 L450.5 1218.5 L452.5 1220.5 L440.6 1231.9 Z" fill="#fff" stroke="#202020" stroke-width="1.38" stroke-linejoin="round"/>
<ellipse cx="453.6" cy="1217.8" rx="2.6" ry="2.6" fill="#fff" stroke="#202020" stroke-width="1.38"/>
<path d="M412.1 1256.5 L411.8 1256.7 L411.4 1256.7 L411 1256.5 L410.5 1256.2 L410 1255.8 L409.5 1255.3 L409.1 1254.8 L408.8 1254.2 L408.6 1253.7 L408.6 1253.2 L408.6 1252.8 L408.9 1252.5 L414.4 1248 L414.7 1247.8 L415.1 1247.8 L415.5 1248 L416 1248.3 L416.5 1248.7 L417 1249.2 L417.4 1249.7 L417.7 1250.3 L417.9 1250.8 L417.9 1251.3 L417.9 1251.7 L417.6 1252 Z" fill="#fff" stroke="#202020" stroke-width="1.38" stroke-linejoin="round"/>
<ellipse cx="410.3" cy="1254.7" rx="1.5" ry="2.6" fill="#fff" stroke="#202020" stroke-width="1.12" transform="rotate(-40 410.3 1254.7)"/>
<ellipse cx="416.6" cy="1249.5" rx="1.7" ry="3.2" fill="#fff" stroke="#202020" stroke-width="1.12" transform="rotate(-42 416.6 1249.5)"/>
<ellipse cx="390.4" cy="1270.4" rx="10.5" ry="10.5" fill="#fff" stroke="#202020" stroke-width="1.38"/>
<line x1="181.5" y1="70" x2="181.5" y2="177" stroke="#7c7c7c" stroke-width="0.9"/>
<line x1="181.5" y1="256.5" x2="181.5" y2="281" stroke="#7c7c7c" stroke-width="0.9"/>
<line x1="181.5" y1="287.5" x2="181.5" y2="299" stroke="#7c7c7c" stroke-width="0.9"/>
<line x1="181.5" y1="376" x2="181.5" y2="380" stroke="#7c7c7c" stroke-width="0.9"/>
<line x1="181.5" y1="409" x2="181.5" y2="419" stroke="#7c7c7c" stroke-width="0.9"/>
<line x1="181.5" y1="516" x2="181.5" y2="547" stroke="#7c7c7c" stroke-width="0.9"/>
<line x1="181.5" y1="586" x2="181.5" y2="619" stroke="#7c7c7c" stroke-width="0.9"/>
<line x1="181.5" y1="637" x2="181.5" y2="661" stroke="#7c7c7c" stroke-width="0.9"/>
<line x1="181.5" y1="677" x2="181.5" y2="700" stroke="#7c7c7c" stroke-width="0.9"/>
<line x1="181.5" y1="714" x2="181.5" y2="741" stroke="#7c7c7c" stroke-width="0.9"/>
<line x1="181.5" y1="756" x2="181.5" y2="779" stroke="#7c7c7c" stroke-width="0.9"/>
<line x1="181.5" y1="797" x2="181.5" y2="857" stroke="#7c7c7c" stroke-width="0.9"/>
<line x1="181.5" y1="862" x2="181.5" y2="882" stroke="#7c7c7c" stroke-width="0.9"/>
<line x1="181.5" y1="888" x2="181.5" y2="910" stroke="#7c7c7c" stroke-width="0.9"/>
<line x1="181.5" y1="923" x2="181.5" y2="1040" stroke="#7c7c7c" stroke-width="0.9"/>
<path d="M181.5 70 L395 179.8 L395 1017.5 L637.5 1146 L637.5 1051" fill="none" stroke="#7c7c7c" stroke-width="0.9" stroke-linejoin="round" stroke-dasharray="34 3 2 3"/>
<line x1="637.8" y1="510.5" x2="637.8" y2="541" stroke="#7c7c7c" stroke-width="0.9"/>
<line x1="637.8" y1="560" x2="637.8" y2="580" stroke="#7c7c7c" stroke-width="0.9"/>
<line x1="637.8" y1="598" x2="637.8" y2="629" stroke="#7c7c7c" stroke-width="0.9"/>
<line x1="637.8" y1="696" x2="637.8" y2="740" stroke="#7c7c7c" stroke-width="0.9"/>
<line x1="637.8" y1="743" x2="637.8" y2="757" stroke="#7c7c7c" stroke-width="0.9"/>
<line x1="637.8" y1="777" x2="637.8" y2="901.5" stroke="#7c7c7c" stroke-width="0.9"/>
<line x1="637.8" y1="933.5" x2="637.8" y2="979" stroke="#7c7c7c" stroke-width="0.9"/>
<line x1="637.8" y1="988" x2="637.8" y2="1000" stroke="#7c7c7c" stroke-width="0.9"/>
<line x1="284.4" y1="305" x2="284.4" y2="317" stroke="#7c7c7c" stroke-width="0.9"/>
<line x1="284.4" y1="326" x2="284.4" y2="358" stroke="#7c7c7c" stroke-width="0.9"/>
<line x1="284.4" y1="400" x2="284.4" y2="412" stroke="#7c7c7c" stroke-width="0.9"/>
<line x1="284.4" y1="412" x2="284.4" y2="537" stroke="#7c7c7c" stroke-width="0.9" stroke-dasharray="30 3 2 3"/>
<line x1="284.4" y1="545" x2="284.4" y2="556" stroke="#7c7c7c" stroke-width="0.9"/>
<line x1="284.4" y1="574" x2="284.4" y2="589" stroke="#7c7c7c" stroke-width="0.9"/>
<line x1="284.4" y1="590" x2="284.4" y2="601" stroke="#7c7c7c" stroke-width="0.9"/>
<line x1="284.4" y1="612" x2="284.4" y2="632" stroke="#7c7c7c" stroke-width="0.9"/>
<line x1="284.4" y1="633" x2="284.4" y2="642" stroke="#7c7c7c" stroke-width="0.9"/>
<line x1="284.4" y1="663" x2="284.4" y2="684" stroke="#7c7c7c" stroke-width="0.9"/>
<line x1="284.4" y1="731" x2="284.4" y2="749" stroke="#7c7c7c" stroke-width="0.9"/>
<line x1="284.4" y1="750" x2="284.4" y2="761" stroke="#7c7c7c" stroke-width="0.9"/>
<line x1="284.4" y1="772" x2="284.4" y2="927.5" stroke="#7c7c7c" stroke-width="0.9"/>
<path d="M284.4 927.5 L233 902.5 L233 992" fill="none" stroke="#7c7c7c" stroke-width="0.9" stroke-linejoin="round"/>
<line x1="219.6" y1="849" x2="219.6" y2="857" stroke="#7c7c7c" stroke-width="0.9"/>
<line x1="219.6" y1="885" x2="219.6" y2="930" stroke="#7c7c7c" stroke-width="0.9"/>
<path d="M219.6 930 L200 920 L200 1007" fill="none" stroke="#7c7c7c" stroke-width="0.9" stroke-linejoin="round"/>
<path d="M484.6 318.6 L484.6 328.4 L517 345 L517 120 L579.2 152 L579.2 186" fill="none" stroke="#7c7c7c" stroke-width="0.9" stroke-linejoin="round"/>
<line x1="579.2" y1="197" x2="579.2" y2="229" stroke="#7c7c7c" stroke-width="0.9"/>
<line x1="579.2" y1="232" x2="579.2" y2="240" stroke="#7c7c7c" stroke-width="0.9"/>
<line x1="579.2" y1="255" x2="579.2" y2="265.4" stroke="#7c7c7c" stroke-width="0.9"/>
<path d="M579.2 265.4 L638 294.8 L638 348" fill="none" stroke="#7c7c7c" stroke-width="0.9" stroke-linejoin="round"/>
<line x1="861.9" y1="139" x2="861.9" y2="151.5" stroke="#7c7c7c" stroke-width="0.9"/>
<line x1="861.9" y1="161.5" x2="861.9" y2="177" stroke="#7c7c7c" stroke-width="0.9"/>
<path d="M861.9 177 L831 161.6" fill="none" stroke="#7c7c7c" stroke-width="0.9" stroke-linejoin="round"/>
<line x1="830.5" y1="161.6" x2="830.5" y2="304" stroke="#7c7c7c" stroke-width="0.9" stroke-dasharray="40 3 2 3"/>
<line x1="756.2" y1="286" x2="756.2" y2="304" stroke="#7c7c7c" stroke-width="0.9"/>
<path d="M756.2 444 L756.2 541.8 L840.4 497" fill="none" stroke="#7c7c7c" stroke-width="0.9" stroke-linejoin="round" stroke-dasharray="34 3 2 3"/>
<line x1="840.4" y1="497" x2="840.4" y2="557" stroke="#7c7c7c" stroke-width="0.9"/>
<line x1="840.4" y1="566" x2="840.4" y2="574" stroke="#7c7c7c" stroke-width="0.9"/>
<line x1="840.4" y1="606" x2="840.4" y2="633" stroke="#7c7c7c" stroke-width="0.9"/>
<line x1="840.4" y1="641" x2="840.4" y2="670.5" stroke="#7c7c7c" stroke-width="0.9"/>
<line x1="840.4" y1="686" x2="840.4" y2="710.5" stroke="#7c7c7c" stroke-width="0.9"/>
<line x1="840.4" y1="746.5" x2="840.4" y2="819.5" stroke="#7c7c7c" stroke-width="0.9"/>
<path d="M777.5 374.6 L868.5 421.5" fill="none" stroke="#7c7c7c" stroke-width="0.9" stroke-linejoin="round" stroke-dasharray="26 3 2 3"/>
<path d="M869.5 422 L879 427" fill="none" stroke="#7c7c7c" stroke-width="0.9" stroke-linejoin="round"/>
<line x1="861" y1="860.5" x2="861" y2="874" stroke="#7c7c7c" stroke-width="0.9"/>
<line x1="689.6" y1="986" x2="689.6" y2="1023" stroke="#7c7c7c" stroke-width="0.9"/>
<line x1="588.7" y1="1037.5" x2="588.7" y2="1066.8" stroke="#7c7c7c" stroke-width="0.9"/>
<line x1="606.3" y1="853.5" x2="606.3" y2="894.5" stroke="#7c7c7c" stroke-width="0.9"/>
<path d="M681.8 864 L681.8 875.7 L665.6 867.9 L665.6 915.2" fill="none" stroke="#7c7c7c" stroke-width="0.9" stroke-linejoin="round"/>
<line x1="454.5" y1="805.5" x2="454.5" y2="818" stroke="#7c7c7c" stroke-width="0.9"/>
<line x1="454.5" y1="826" x2="454.5" y2="840" stroke="#7c7c7c" stroke-width="0.9"/>
<line x1="453.6" y1="857" x2="453.6" y2="862.5" stroke="#7c7c7c" stroke-width="0.9"/>
<path d="M432.5 858.5 L441.5 852.5" fill="none" stroke="#7c7c7c" stroke-width="0.9" stroke-linejoin="round"/>
<path d="M416.5 866.5 L424 861.5" fill="none" stroke="#7c7c7c" stroke-width="0.9" stroke-linejoin="round"/>
<path d="M505.8 875.2 L515.6 880" fill="none" stroke="#7c7c7c" stroke-width="0.9" stroke-linejoin="round"/>
<path d="M548.5 896.8 L555.5 900.5 L555.5 958.5 L592 977.6" fill="none" stroke="#7c7c7c" stroke-width="0.9" stroke-linejoin="round"/>
<path d="M501 942.6 L508 946" fill="none" stroke="#7c7c7c" stroke-width="0.9" stroke-linejoin="round"/>
<path d="M518.6 951.2 L526 955" fill="none" stroke="#7c7c7c" stroke-width="0.9" stroke-linejoin="round"/>
<path d="M536.6 960.3 L541 962.6" fill="none" stroke="#7c7c7c" stroke-width="0.9" stroke-linejoin="round"/>
<path d="M546 965.3 L586.8 988" fill="none" stroke="#7c7c7c" stroke-width="0.9" stroke-linejoin="round"/>
<path d="M299 1066 L309 1071.3" fill="none" stroke="#7c7c7c" stroke-width="0.9" stroke-linejoin="round"/>
<path d="M315.5 1074.7 L353 1094.6" fill="none" stroke="#7c7c7c" stroke-width="0.9" stroke-linejoin="round"/>
<path d="M367 1102 L393.5 1116" fill="none" stroke="#7c7c7c" stroke-width="0.9" stroke-linejoin="round"/>
<path d="M253 1076.5 L301 1102" fill="none" stroke="#7c7c7c" stroke-width="0.9" stroke-linejoin="round"/>
<path d="M380.5 1142.3 L393 1149" fill="none" stroke="#7c7c7c" stroke-width="0.9" stroke-linejoin="round"/>
<path d="M411.1 1158.5 L429 1170.2" fill="none" stroke="#7c7c7c" stroke-width="0.9" stroke-linejoin="round"/>
<path d="M445.5 1178.7 L452 1182" fill="none" stroke="#7c7c7c" stroke-width="0.9" stroke-linejoin="round"/>
<path d="M469.5 1191 L477 1195" fill="none" stroke="#7c7c7c" stroke-width="0.9" stroke-linejoin="round"/>
<path d="M411.1 1146 L418.6 1149.6" fill="none" stroke="#7c7c7c" stroke-width="0.9" stroke-linejoin="round"/>
<line x1="395.2" y1="1166.5" x2="395.2" y2="1176.5" stroke="#7c7c7c" stroke-width="0.9"/>
<line x1="489.4" y1="1209.5" x2="489.4" y2="1221.5" stroke="#7c7c7c" stroke-width="0.9"/>
<line x1="471.5" y1="1217" x2="471.5" y2="1238" stroke="#7c7c7c" stroke-width="0.9"/>
<path d="M407.8 1256 L400 1263" fill="none" stroke="#7c7c7c" stroke-width="0.9" stroke-linejoin="round"/>
<line x1="87.5" y1="1040" x2="87.5" y2="1098" stroke="#7c7c7c" stroke-width="0.9"/>
<line x1="203" y1="1096" x2="203" y2="1107.5" stroke="#7c7c7c" stroke-width="0.9"/>
<line x1="203" y1="1152.5" x2="203" y2="1167" stroke="#7c7c7c" stroke-width="0.9"/>
<line x1="203" y1="1176" x2="203" y2="1192" stroke="#7c7c7c" stroke-width="0.9"/>
<g transform="translate(104.9 112) scale(1.105 1)"><text x="0" y="0" font-size="20.0">42</text></g>
<g transform="translate(104.9 138.5) scale(1.105 1)"><text x="0" y="0" font-size="20.0">59</text></g>
<g transform="translate(104.9 168) scale(1.105 1)"><text x="0" y="0" font-size="20.0">4</text><path d="M16.02 -14.32 L17.42 -14.32 L17.42 0 L15.62 0 L15.62 -10.6 L12.52 -10.6 L12.52 -11.6 Q15.22 -12 16.02 -14.32 Z" fill="#111"/></g>
<g transform="translate(103.9 205.3) scale(1.105 1)"><text x="0" y="0" font-size="20.0">40</text></g>
<g transform="translate(88.4 248) scale(1.105 1)"><text x="0" y="0" font-size="20.0">39</text></g>
<g transform="translate(88.4 283.5) scale(1.105 1)"><text x="0" y="0" font-size="20.0">38</text></g>
<g transform="translate(88.4 310.8) scale(1.105 1)"><text x="0" y="0" font-size="20.0">37</text></g>
<g transform="translate(340.4 270.5) scale(1.105 1)"><text x="0" y="0" font-size="20.0">36</text></g>
<g transform="translate(340.4 299.5) scale(1.105 1)"><text x="0" y="0" font-size="20.0">35</text></g>
<g transform="translate(340.4 325.5) scale(1.105 1)"><text x="0" y="0" font-size="20.0">34</text></g>
<g transform="translate(64.4 381) scale(1.105 1)"><text x="0" y="0" font-size="20.0">33</text></g>
<g transform="translate(56.4 441) scale(1.105 1)"><text x="0" y="0" font-size="20.0">32</text></g>
<g transform="translate(349.4 501.5) scale(1.105 1)"><text x="0" y="0" font-size="20.0">20</text></g>
<g transform="translate(351.4 530.5) scale(1.105 1)"><path d="M4.9 -14.32 L6.3 -14.32 L6.3 0 L4.5 0 L4.5 -10.6 L1.4 -10.6 L1.4 -11.6 Q4.1 -12 4.9 -14.32 Z" fill="#111"/><text x="11.12" y="0" font-size="20.0">9</text></g>
<g transform="translate(351.4 580.5) scale(1.105 1)"><path d="M4.9 -14.32 L6.3 -14.32 L6.3 0 L4.5 0 L4.5 -10.6 L1.4 -10.6 L1.4 -11.6 Q4.1 -12 4.9 -14.32 Z" fill="#111"/><text x="11.12" y="0" font-size="20.0">3</text></g>
<g transform="translate(351.4 615.5) scale(1.105 1)"><path d="M4.9 -14.32 L6.3 -14.32 L6.3 0 L4.5 0 L4.5 -10.6 L1.4 -10.6 L1.4 -11.6 Q4.1 -12 4.9 -14.32 Z" fill="#111"/><text x="11.12" y="0" font-size="20.0">8</text></g>
<g transform="translate(351.4 640.5) scale(1.105 1)"><path d="M4.9 -14.32 L6.3 -14.32 L6.3 0 L4.5 0 L4.5 -10.6 L1.4 -10.6 L1.4 -11.6 Q4.1 -12 4.9 -14.32 Z" fill="#111"/><text x="11.12" y="0" font-size="20.0">7</text></g>
<g transform="translate(351.4 670.5) scale(1.105 1)"><path d="M4.9 -14.32 L6.3 -14.32 L6.3 0 L4.5 0 L4.5 -10.6 L1.4 -10.6 L1.4 -11.6 Q4.1 -12 4.9 -14.32 Z" fill="#111"/><text x="11.12" y="0" font-size="20.0">6</text></g>
<g transform="translate(351.4 689.5) scale(1.105 1)"><path d="M4.9 -14.32 L6.3 -14.32 L6.3 0 L4.5 0 L4.5 -10.6 L1.4 -10.6 L1.4 -11.6 Q4.1 -12 4.9 -14.32 Z" fill="#111"/><text x="11.12" y="0" font-size="20.0">5</text></g>
<g transform="translate(351.4 709.5) scale(1.105 1)"><path d="M4.9 -14.32 L6.3 -14.32 L6.3 0 L4.5 0 L4.5 -10.6 L1.4 -10.6 L1.4 -11.6 Q4.1 -12 4.9 -14.32 Z" fill="#111"/><text x="11.12" y="0" font-size="20.0">4</text></g>
<g transform="translate(347 738.5) scale(1.105 1)"><path d="M4.9 -14.32 L6.3 -14.32 L6.3 0 L4.5 0 L4.5 -10.6 L1.4 -10.6 L1.4 -11.6 Q4.1 -12 4.9 -14.32 Z" fill="#111"/><text x="11.12" y="0" font-size="20.0">3</text></g>
<g transform="translate(95.4 558) scale(1.105 1)"><text x="0" y="0" font-size="20.0">3</text><path d="M16.02 -14.32 L17.42 -14.32 L17.42 0 L15.62 0 L15.62 -10.6 L12.52 -10.6 L12.52 -11.6 Q15.22 -12 16.02 -14.32 Z" fill="#111"/></g>
<g transform="translate(95.4 602.5) scale(1.105 1)"><text x="0" y="0" font-size="20.0">30</text></g>
<g transform="translate(95.4 638.5) scale(1.105 1)"><text x="0" y="0" font-size="20.0">27</text></g>
<g transform="translate(95.4 676) scale(1.105 1)"><text x="0" y="0" font-size="20.0">29</text></g>
<g transform="translate(95.4 715) scale(1.105 1)"><text x="0" y="0" font-size="20.0">28</text></g>
<g transform="translate(95.4 756.5) scale(1.105 1)"><text x="0" y="0" font-size="20.0">27</text></g>
<g transform="translate(95.4 794.5) scale(1.105 1)"><text x="0" y="0" font-size="20.0">26</text></g>
<g transform="translate(95.4 828.5) scale(1.105 1)"><text x="0" y="0" font-size="20.0">25</text></g>
<g transform="translate(95.4 859.5) scale(1.105 1)"><text x="0" y="0" font-size="20.0">24</text></g>
<g transform="translate(95.4 888) scale(1.105 1)"><text x="0" y="0" font-size="20.0">23</text></g>
<g transform="translate(250.4 827.5) scale(1.105 1)"><text x="0" y="0" font-size="20.0">22</text></g>
<g transform="translate(250.4 864) scale(1.105 1)"><text x="0" y="0" font-size="20.0">2</text><path d="M16.02 -14.32 L17.42 -14.32 L17.42 0 L15.62 0 L15.62 -10.6 L12.52 -10.6 L12.52 -11.6 Q15.22 -12 16.02 -14.32 Z" fill="#111"/></g>
<g transform="translate(98.8 939.5) scale(1.105 1)"><path d="M4.9 -14.32 L6.3 -14.32 L6.3 0 L4.5 0 L4.5 -10.6 L1.4 -10.6 L1.4 -11.6 Q4.1 -12 4.9 -14.32 Z" fill="#111"/></g>
<g transform="translate(123.9 1124) scale(1.105 1)"><text x="0" y="0" font-size="20.0">2</text></g>
<g transform="translate(141.9 1151.5) scale(1.105 1)"><text x="0" y="0" font-size="20.0">88</text></g>
<g transform="translate(141.9 1198.2) scale(1.105 1)"><text x="0" y="0" font-size="20.0">89</text></g>
<g transform="translate(141.9 1226.5) scale(1.105 1)"><text x="0" y="0" font-size="20.0">90</text></g>
<g transform="translate(239.3 1182.5) scale(1.105 1)"><path d="M4.9 -14.32 L6.3 -14.32 L6.3 0 L4.5 0 L4.5 -10.6 L1.4 -10.6 L1.4 -11.6 Q4.1 -12 4.9 -14.32 Z" fill="#111"/><text x="11.12" y="0" font-size="20.0">03</text></g>
<g transform="translate(283.9 1162.5) scale(1.105 1)"><text x="0" y="0" font-size="20.0">3</text></g>
<g transform="translate(333.4 1189.5) scale(1.105 1)"><text x="0" y="0" font-size="20.0">4</text></g>
<g transform="translate(344.2 1207.5) scale(1.105 1)"><path d="M4.9 -14.32 L6.3 -14.32 L6.3 0 L4.5 0 L4.5 -10.6 L1.4 -10.6 L1.4 -11.6 Q4.1 -12 4.9 -14.32 Z" fill="#111"/><text x="11.12" y="0" font-size="20.0">2</text></g>
<g transform="translate(373.3 1229.4) scale(1.105 1)"><text x="0" y="0" font-size="20.0">9</text></g>
<g transform="translate(334.3 1253.4) scale(1.105 1)"><path d="M4.9 -14.32 L6.3 -14.32 L6.3 0 L4.5 0 L4.5 -10.6 L1.4 -10.6 L1.4 -11.6 Q4.1 -12 4.9 -14.32 Z" fill="#111"/><text x="11.12" y="0" font-size="20.0">0</text></g>
<g transform="translate(319.9 1040.4) scale(1.105 1)"><text x="0" y="0" font-size="20.0">93</text></g>
<g transform="translate(358.3 1048.5) scale(1.105 1)"><text x="0" y="0" font-size="20.0">94</text></g>
<g transform="translate(358.3 1069.5) scale(1.105 1)"><text x="0" y="0" font-size="20.0">95</text></g>
<g transform="translate(392.5 1086.9) scale(1.105 1)"><text x="0" y="0" font-size="20.0">96</text></g>
<g transform="translate(426.4 1104.9) scale(1.105 1)"><text x="0" y="0" font-size="20.0">97</text></g>
<g transform="translate(457.9 1139.4) scale(1.105 1)"><path d="M4.9 -14.32 L6.3 -14.32 L6.3 0 L4.5 0 L4.5 -10.6 L1.4 -10.6 L1.4 -11.6 Q4.1 -12 4.9 -14.32 Z" fill="#111"/><text x="11.12" y="0" font-size="20.0">2</text></g>
<g transform="translate(484.3 1152) scale(1.105 1)"><text x="0" y="0" font-size="20.0">5</text></g>
<g transform="translate(507.4 1164.6) scale(1.105 1)"><text x="0" y="0" font-size="20.0">6</text></g>
<g transform="translate(530.8 1177.5) scale(1.105 1)"><text x="0" y="0" font-size="20.0">8</text></g>
<g transform="translate(526 1258.5) scale(1.105 1)"><text x="0" y="0" font-size="20.0">7</text></g>
<g transform="translate(509.8 1279.5) scale(1.105 1)"><path d="M4.9 -14.32 L6.3 -14.32 L6.3 0 L4.5 0 L4.5 -10.6 L1.4 -10.6 L1.4 -11.6 Q4.1 -12 4.9 -14.32 Z" fill="#111"/><path d="M16.02 -14.32 L17.42 -14.32 L17.42 0 L15.62 0 L15.62 -10.6 L12.52 -10.6 L12.52 -11.6 Q15.22 -12 16.02 -14.32 Z" fill="#111"/></g>
<g transform="translate(417.6 81.1) scale(1.105 1)"><text x="0" y="0" font-size="20.0">87</text></g>
<g transform="translate(416.8 298.1) scale(1.105 1)"><text x="0" y="0" font-size="20.0">86</text></g>
<g transform="translate(583.6 74.7) scale(1.105 1)"><path d="M4.9 -14.32 L6.3 -14.32 L6.3 0 L4.5 0 L4.5 -10.6 L1.4 -10.6 L1.4 -11.6 Q4.1 -12 4.9 -14.32 Z" fill="#111"/><text x="11.12" y="0" font-size="20.0">00</text></g>
<g transform="translate(632.6 148.3) scale(1.105 1)"><text x="0" y="0" font-size="20.0">85</text></g>
<g transform="translate(633.4 169.3) scale(1.105 1)"><text x="0" y="0" font-size="20.0">84</text></g>
<g transform="translate(628.4 222.5) scale(1.105 1)"><text x="0" y="0" font-size="20.0">83</text></g>
<g transform="translate(870.4 76.3) scale(1.105 1)"><text x="0" y="0" font-size="20.0">82</text></g>
<g transform="translate(903.7 116.9) scale(1.105 1)"><text x="0" y="0" font-size="20.0">8</text><path d="M16.02 -14.32 L17.42 -14.32 L17.42 0 L15.62 0 L15.62 -10.6 L12.52 -10.6 L12.52 -11.6 Q15.22 -12 16.02 -14.32 Z" fill="#111"/></g>
<g transform="translate(903.7 143.5) scale(1.105 1)"><text x="0" y="0" font-size="20.0">80</text></g>
<g transform="translate(897 319.5) scale(1.105 1)"><text x="0" y="0" font-size="20.0">77</text></g>
<g transform="translate(901.9 396.5) scale(1.105 1)"><text x="0" y="0" font-size="20.0">76</text></g>
<g transform="translate(907.9 484.5) scale(1.105 1)"><text x="0" y="0" font-size="20.0">75</text></g>
<g transform="translate(891.6 519.5) scale(1.105 1)"><text x="0" y="0" font-size="20.0">74</text></g>
<g transform="translate(909.3 567.5) scale(1.105 1)"><text x="0" y="0" font-size="20.0">73</text></g>
<g transform="translate(886.6 622.1) scale(1.105 1)"><text x="0" y="0" font-size="20.0">72</text></g>
<g transform="translate(877.6 664.1) scale(1.105 1)"><text x="0" y="0" font-size="20.0">7</text><path d="M16.02 -14.32 L17.42 -14.32 L17.42 0 L15.62 0 L15.62 -10.6 L12.52 -10.6 L12.52 -11.6 Q15.22 -12 16.02 -14.32 Z" fill="#111"/></g>
<g transform="translate(902.3 697.7) scale(1.105 1)"><text x="0" y="0" font-size="20.0">70</text></g>
<g transform="translate(916.2 778.5) scale(1.105 1)"><text x="0" y="0" font-size="20.0">69</text></g>
<g transform="translate(907.1 864) scale(1.105 1)"><text x="0" y="0" font-size="20.0">68</text></g>
<g transform="translate(570.4 544.9) scale(1.105 1)"><text x="0" y="0" font-size="20.0">99</text></g>
<g transform="translate(692 538.5) scale(1.105 1)"><text x="0" y="0" font-size="20.0">67</text></g>
<g transform="translate(692 576.9) scale(1.105 1)"><text x="0" y="0" font-size="20.0">67</text></g>
<g transform="translate(718.6 637.7) scale(1.105 1)"><text x="0" y="0" font-size="20.0">65</text></g>
<g transform="translate(698.4 729.5) scale(1.105 1)"><text x="0" y="0" font-size="20.0">60</text></g>
<g transform="translate(722.1 816.6) scale(1.105 1)"><path d="M4.9 -14.32 L6.3 -14.32 L6.3 0 L4.5 0 L4.5 -10.6 L1.4 -10.6 L1.4 -11.6 Q4.1 -12 4.9 -14.32 Z" fill="#111"/><text x="11.12" y="0" font-size="20.0">2</text></g>
<g transform="translate(720.9 846) scale(1.105 1)"><text x="0" y="0" font-size="20.0">58</text></g>
<g transform="translate(720.9 886.8) scale(1.105 1)"><text x="0" y="0" font-size="20.0">48</text></g>
<g transform="translate(727.4 966.1) scale(1.105 1)"><text x="0" y="0" font-size="20.0">44</text></g>
<g transform="translate(727.9 1015) scale(1.105 1)"><text x="0" y="0" font-size="20.0">43</text></g>
<g transform="translate(552.4 829.5) scale(1.105 1)"><text x="0" y="0" font-size="20.0">5</text><path d="M16.02 -14.32 L17.42 -14.32 L17.42 0 L15.62 0 L15.62 -10.6 L12.52 -10.6 L12.52 -11.6 Q15.22 -12 16.02 -14.32 Z" fill="#111"/></g>
<g transform="translate(558.9 869.7) scale(1.105 1)"><text x="0" y="0" font-size="20.0">53</text></g>
<g transform="translate(560 896.7) scale(1.105 1)"><text x="0" y="0" font-size="20.0">62</text></g>
<g transform="translate(516.5 846.4) scale(1.105 1)"><text x="0" y="0" font-size="20.0">54</text></g>
<g transform="translate(458 776.5) scale(1.105 1)"><text x="0" y="0" font-size="20.0">92</text></g>
<g transform="translate(392 786.4) scale(1.105 1)"><text x="0" y="0" font-size="20.0">55</text></g>
<g transform="translate(398 808.9) scale(1.105 1)"><text x="0" y="0" font-size="20.0">9</text><path d="M16.02 -14.32 L17.42 -14.32 L17.42 0 L15.62 0 L15.62 -10.6 L12.52 -10.6 L12.52 -11.6 Q15.22 -12 16.02 -14.32 Z" fill="#111"/></g>
<g transform="translate(398 831.1) scale(1.105 1)"><text x="0" y="0" font-size="20.0">56</text></g>
<g transform="translate(372.8 848.5) scale(1.105 1)"><text x="0" y="0" font-size="20.0">64</text></g>
<g transform="translate(340.4 867.4) scale(1.105 1)"><text x="0" y="0" font-size="20.0">63</text></g>
<g transform="translate(297.5 889.9) scale(1.105 1)"><text x="0" y="0" font-size="20.0">50</text></g>
<g transform="translate(436.4 907.6) scale(1.105 1)"><text x="0" y="0" font-size="20.0">57</text></g>
<g transform="translate(445.4 975.4) scale(1.105 1)"><text x="0" y="0" font-size="20.0">49</text></g>
<g transform="translate(473 990.1) scale(1.105 1)"><text x="0" y="0" font-size="20.0">47</text></g>
<g transform="translate(505.4 1007.5) scale(1.105 1)"><text x="0" y="0" font-size="20.0">46</text></g>
<g transform="translate(575 954.4) scale(1.105 1)"><text x="0" y="0" font-size="20.0">45</text></g>
<g transform="translate(537.4 1060.5) scale(1.105 1)"><text x="0" y="0" font-size="20.0">45</text></g>
<line x1="134.5" y1="109.5" x2="158.5" y2="121" stroke="#808080" stroke-width="0.9"/>
<line x1="134.5" y1="136" x2="162" y2="149.5" stroke="#808080" stroke-width="0.9"/>
<line x1="134.5" y1="164" x2="162" y2="178" stroke="#808080" stroke-width="0.9"/>
<line x1="130" y1="203" x2="147" y2="211" stroke="#808080" stroke-width="0.9"/>
<line x1="117" y1="248" x2="155" y2="268" stroke="#808080" stroke-width="0.9"/>
<line x1="117" y1="283" x2="158" y2="304" stroke="#808080" stroke-width="0.9"/>
<line x1="117" y1="311" x2="146" y2="325" stroke="#808080" stroke-width="0.9"/>
<line x1="336" y1="265" x2="297" y2="289" stroke="#808080" stroke-width="0.9"/>
<line x1="336" y1="294" x2="295" y2="315" stroke="#808080" stroke-width="0.9"/>
<line x1="337" y1="320" x2="318" y2="332" stroke="#808080" stroke-width="0.9"/>
<line x1="93" y1="380" x2="118" y2="398" stroke="#808080" stroke-width="0.9"/>
<line x1="86" y1="441" x2="112" y2="456" stroke="#808080" stroke-width="0.9"/>
<line x1="343" y1="502" x2="298" y2="524" stroke="#808080" stroke-width="0.9"/>
<line x1="343" y1="530" x2="315" y2="545" stroke="#808080" stroke-width="0.9"/>
<line x1="343" y1="580" x2="304" y2="598" stroke="#808080" stroke-width="0.9"/>
<line x1="343" y1="614" x2="308" y2="632" stroke="#808080" stroke-width="0.9"/>
<line x1="343" y1="640" x2="316" y2="653" stroke="#808080" stroke-width="0.9"/>
<line x1="343" y1="668" x2="294" y2="693" stroke="#808080" stroke-width="0.9"/>
<line x1="343" y1="687" x2="309" y2="704" stroke="#808080" stroke-width="0.9"/>
<line x1="343" y1="708" x2="310" y2="725" stroke="#808080" stroke-width="0.9"/>
<line x1="340" y1="736" x2="303" y2="755" stroke="#808080" stroke-width="0.9"/>
<line x1="124" y1="557" x2="150" y2="573" stroke="#808080" stroke-width="0.9"/>
<line x1="124" y1="602" x2="142" y2="614" stroke="#808080" stroke-width="0.9"/>
<line x1="124" y1="638" x2="152" y2="654" stroke="#808080" stroke-width="0.9"/>
<line x1="124" y1="676" x2="158" y2="693" stroke="#808080" stroke-width="0.9"/>
<line x1="124" y1="714" x2="152" y2="730" stroke="#808080" stroke-width="0.9"/>
<line x1="124" y1="756" x2="152" y2="772" stroke="#808080" stroke-width="0.9"/>
<line x1="124" y1="794" x2="154" y2="810" stroke="#808080" stroke-width="0.9"/>
<line x1="124" y1="828" x2="158" y2="847" stroke="#808080" stroke-width="0.9"/>
<line x1="124" y1="859" x2="156" y2="877" stroke="#808080" stroke-width="0.9"/>
<line x1="124" y1="887" x2="156" y2="903" stroke="#808080" stroke-width="0.9"/>
<line x1="245" y1="826" x2="226" y2="835" stroke="#808080" stroke-width="0.9"/>
<line x1="245" y1="863" x2="226" y2="873" stroke="#808080" stroke-width="0.9"/>
<line x1="113" y1="936" x2="154" y2="956" stroke="#808080" stroke-width="0.9"/>
<line x1="119" y1="1117" x2="96" y2="1110" stroke="#808080" stroke-width="0.9"/>
<line x1="194" y1="1127" x2="171" y2="1138" stroke="#808080" stroke-width="0.9"/>
<line x1="194" y1="1174" x2="171" y2="1185" stroke="#808080" stroke-width="0.9"/>
<line x1="194" y1="1200" x2="171" y2="1212" stroke="#808080" stroke-width="0.9"/>
<line x1="255" y1="1137.5" x2="257.5" y2="1162" stroke="#808080" stroke-width="0.9"/>
<line x1="299.5" y1="1148.9" x2="334" y2="1131.5" stroke="#808080" stroke-width="0.9"/>
<line x1="349" y1="1175.9" x2="374.5" y2="1163" stroke="#808080" stroke-width="0.9"/>
<line x1="369.4" y1="1193.6" x2="389.5" y2="1183.4" stroke="#808080" stroke-width="0.9"/>
<line x1="388.6" y1="1228.4" x2="412" y2="1239.5" stroke="#808080" stroke-width="0.9"/>
<line x1="358.6" y1="1252.4" x2="377.5" y2="1262" stroke="#808080" stroke-width="0.9"/>
<line x1="319" y1="1043.6" x2="301" y2="1061" stroke="#808080" stroke-width="0.9"/>
<line x1="356.5" y1="1047.5" x2="337" y2="1058" stroke="#808080" stroke-width="0.9"/>
<line x1="356.5" y1="1068.5" x2="338.5" y2="1078.4" stroke="#808080" stroke-width="0.9"/>
<line x1="390.4" y1="1086.5" x2="370" y2="1097" stroke="#808080" stroke-width="0.9"/>
<line x1="423.4" y1="1104.5" x2="403" y2="1115" stroke="#808080" stroke-width="0.9"/>
<line x1="454" y1="1138.4" x2="434" y2="1148.4" stroke="#808080" stroke-width="0.9"/>
<line x1="480.4" y1="1151" x2="445" y2="1169" stroke="#808080" stroke-width="0.9"/>
<line x1="503.5" y1="1163.9" x2="467.5" y2="1181.9" stroke="#808080" stroke-width="0.9"/>
<line x1="526.6" y1="1176.5" x2="496" y2="1192.4" stroke="#808080" stroke-width="0.9"/>
<line x1="523" y1="1241" x2="498.4" y2="1229" stroke="#808080" stroke-width="0.9"/>
<line x1="508" y1="1263.5" x2="478" y2="1250" stroke="#808080" stroke-width="0.9"/>
<line x1="444.8" y1="77.8" x2="474.2" y2="92.6" stroke="#808080" stroke-width="0.9"/>
<line x1="444.8" y1="297" x2="475" y2="312.2" stroke="#808080" stroke-width="0.9"/>
<line x1="622.6" y1="74.2" x2="646.4" y2="86.2" stroke="#808080" stroke-width="0.9"/>
<line x1="630.2" y1="145.8" x2="608.6" y2="156.2" stroke="#808080" stroke-width="0.9"/>
<line x1="631" y1="167.4" x2="612.8" y2="176.6" stroke="#808080" stroke-width="0.9"/>
<line x1="625.4" y1="221.4" x2="601" y2="233.8" stroke="#808080" stroke-width="0.9"/>
<line x1="864" y1="76.8" x2="828.8" y2="94.4" stroke="#808080" stroke-width="0.9"/>
<line x1="899.8" y1="115.2" x2="869.8" y2="130.6" stroke="#808080" stroke-width="0.9"/>
<line x1="899.8" y1="141.8" x2="871" y2="156.8" stroke="#808080" stroke-width="0.9"/>
<line x1="892.8" y1="317.8" x2="849.6" y2="340.2" stroke="#808080" stroke-width="0.9"/>
<line x1="907" y1="402" x2="895" y2="426" stroke="#808080" stroke-width="0.9"/>
<line x1="905" y1="476" x2="874" y2="470" stroke="#808080" stroke-width="0.9"/>
<line x1="885.2" y1="518" x2="854.4" y2="534.2" stroke="#808080" stroke-width="0.9"/>
<line x1="902" y1="566.2" x2="872" y2="581.8" stroke="#808080" stroke-width="0.9"/>
<line x1="880.2" y1="621" x2="854.4" y2="634.2" stroke="#808080" stroke-width="0.9"/>
<line x1="871.2" y1="663.6" x2="846" y2="676.2" stroke="#808080" stroke-width="0.9"/>
<line x1="896.4" y1="696.6" x2="874.8" y2="707.8" stroke="#808080" stroke-width="0.9"/>
<line x1="911.6" y1="776.4" x2="884.3" y2="791.2" stroke="#808080" stroke-width="0.9"/>
<line x1="900.4" y1="864.3" x2="867.4" y2="881.2" stroke="#808080" stroke-width="0.9"/>
<line x1="540" y1="515.4" x2="565.6" y2="528.8" stroke="#808080" stroke-width="0.9"/>
<line x1="686" y1="536" x2="662" y2="548" stroke="#808080" stroke-width="0.9"/>
<line x1="686" y1="574" x2="662" y2="586" stroke="#808080" stroke-width="0.9"/>
<line x1="713" y1="635" x2="683" y2="651" stroke="#808080" stroke-width="0.9"/>
<line x1="692" y1="728" x2="666" y2="742" stroke="#808080" stroke-width="0.9"/>
<line x1="716.8" y1="813.8" x2="689.5" y2="826.8" stroke="#808080" stroke-width="0.9"/>
<line x1="716.8" y1="843.7" x2="690.8" y2="856.7" stroke="#808080" stroke-width="0.9"/>
<line x1="716.8" y1="884" x2="690.8" y2="896.5" stroke="#808080" stroke-width="0.9"/>
<line x1="724.6" y1="964.1" x2="699.9" y2="976.3" stroke="#808080" stroke-width="0.9"/>
<line x1="724.6" y1="1012.7" x2="700.7" y2="1024.4" stroke="#808080" stroke-width="0.9"/>
<line x1="576.4" y1="827.3" x2="598.5" y2="837.7" stroke="#808080" stroke-width="0.9"/>
<line x1="584.2" y1="892.3" x2="618" y2="901" stroke="#808080" stroke-width="0.9"/>
<line x1="554.3" y1="869.7" x2="533" y2="879.6" stroke="#808080" stroke-width="0.9"/>
<line x1="513.5" y1="846" x2="491.6" y2="858.6" stroke="#808080" stroke-width="0.9"/>
<line x1="486.5" y1="776.4" x2="506" y2="783.9" stroke="#808080" stroke-width="0.9"/>
<line x1="422" y1="785.4" x2="447.5" y2="795.6" stroke="#808080" stroke-width="0.9"/>
<line x1="422" y1="807.9" x2="446" y2="818.4" stroke="#808080" stroke-width="0.9"/>
<line x1="425" y1="830.4" x2="444.5" y2="839.4" stroke="#808080" stroke-width="0.9"/>
<line x1="401.6" y1="849" x2="422" y2="857.4" stroke="#808080" stroke-width="0.9"/>
<line x1="367.4" y1="867.6" x2="386.6" y2="875.4" stroke="#808080" stroke-width="0.9"/>
<line x1="323.6" y1="889.5" x2="343.4" y2="900" stroke="#808080" stroke-width="0.9"/>
<line x1="448.4" y1="891" x2="452.9" y2="869.4" stroke="#808080" stroke-width="0.9"/>
<line x1="468.5" y1="957" x2="485.6" y2="941.4" stroke="#808080" stroke-width="0.9"/>
<line x1="498.5" y1="972.6" x2="512" y2="949.5" stroke="#808080" stroke-width="0.9"/>
<line x1="498.5" y1="972.6" x2="527" y2="965.4" stroke="#808080" stroke-width="0.9"/>
<line x1="527" y1="991.5" x2="541.4" y2="968.4" stroke="#808080" stroke-width="0.9"/>
<line x1="599.8" y1="954.2" x2="615.4" y2="962" stroke="#808080" stroke-width="0.9"/>
<line x1="562.9" y1="1060.3" x2="581.6" y2="1069.9" stroke="#808080" stroke-width="0.9"/>
</svg>
</body></html>
